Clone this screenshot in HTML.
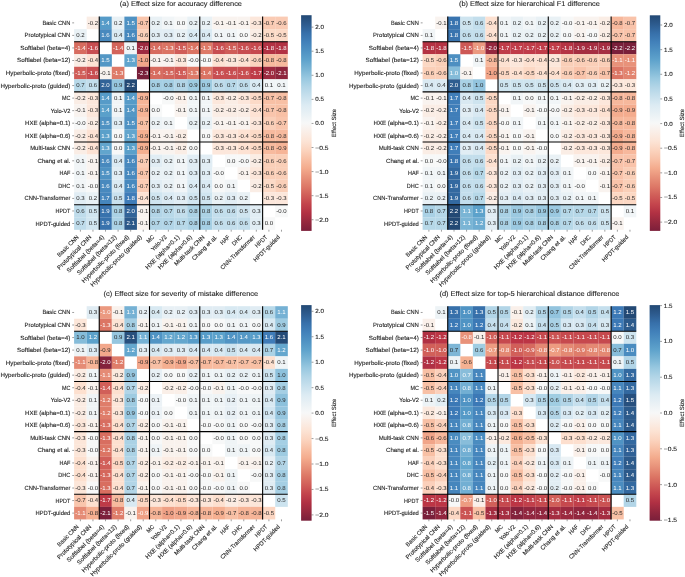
<!DOCTYPE html>
<html><head><meta charset="utf-8"><title>Effect size heatmaps</title>
<style>html,body{margin:0;padding:0;background:#fff;width:685px;height:577px;overflow:hidden}</style>
</head><body>
<svg width="685" height="577" viewBox="0 0 685 577" style="display:block;will-change:transform;text-rendering:geometricPrecision">
<rect width="685" height="577" fill="#ffffff"/>
<defs><linearGradient id="cb0" x1="0" y1="0" x2="0" y2="1"><stop offset="0.0000" stop-color="#234974"/><stop offset="0.0417" stop-color="#2d5b8e"/><stop offset="0.0833" stop-color="#3770aa"/><stop offset="0.1250" stop-color="#4281ba"/><stop offset="0.1667" stop-color="#4f92c3"/><stop offset="0.2083" stop-color="#5fa3cc"/><stop offset="0.2500" stop-color="#7ab5d5"/><stop offset="0.2917" stop-color="#98c8e0"/><stop offset="0.3333" stop-color="#b2d5e7"/><stop offset="0.3750" stop-color="#c7e0ed"/><stop offset="0.4167" stop-color="#dcebf3"/><stop offset="0.4583" stop-color="#e9f1f5"/><stop offset="0.5000" stop-color="#f7f8f8"/><stop offset="0.5417" stop-color="#faeee7"/><stop offset="0.5833" stop-color="#fce4d6"/><stop offset="0.6250" stop-color="#fbd4bf"/><stop offset="0.6667" stop-color="#f8c0a5"/><stop offset="0.7083" stop-color="#f4ac8e"/><stop offset="0.7500" stop-color="#e8927a"/><stop offset="0.7917" stop-color="#de7a68"/><stop offset="0.8333" stop-color="#d15f59"/><stop offset="0.8750" stop-color="#c3444c"/><stop offset="0.9167" stop-color="#b23143"/><stop offset="0.9583" stop-color="#96283e"/><stop offset="1.0000" stop-color="#7c1f3a"/></linearGradient><linearGradient id="cb1" x1="0" y1="0" x2="0" y2="1"><stop offset="0.0000" stop-color="#234974"/><stop offset="0.0417" stop-color="#2d5b8e"/><stop offset="0.0833" stop-color="#3770aa"/><stop offset="0.1250" stop-color="#4281ba"/><stop offset="0.1667" stop-color="#4f92c3"/><stop offset="0.2083" stop-color="#5fa3cc"/><stop offset="0.2500" stop-color="#7ab5d5"/><stop offset="0.2917" stop-color="#98c8e0"/><stop offset="0.3333" stop-color="#b2d5e7"/><stop offset="0.3750" stop-color="#c7e0ed"/><stop offset="0.4167" stop-color="#dcebf3"/><stop offset="0.4583" stop-color="#e9f1f5"/><stop offset="0.5000" stop-color="#f7f8f8"/><stop offset="0.5417" stop-color="#faeee7"/><stop offset="0.5833" stop-color="#fce4d6"/><stop offset="0.6250" stop-color="#fbd4bf"/><stop offset="0.6667" stop-color="#f8c2a8"/><stop offset="0.7083" stop-color="#f4ac8e"/><stop offset="0.7500" stop-color="#e8927a"/><stop offset="0.7917" stop-color="#de7a68"/><stop offset="0.8333" stop-color="#d15f59"/><stop offset="0.8750" stop-color="#c5464d"/><stop offset="0.9167" stop-color="#b23143"/><stop offset="0.9583" stop-color="#96283e"/><stop offset="1.0000" stop-color="#7c1f3a"/></linearGradient><linearGradient id="cb2" x1="0" y1="0" x2="0" y2="1"><stop offset="0.0000" stop-color="#234974"/><stop offset="0.0417" stop-color="#2d5b8e"/><stop offset="0.0833" stop-color="#3770aa"/><stop offset="0.1250" stop-color="#4281ba"/><stop offset="0.1667" stop-color="#4f92c3"/><stop offset="0.2083" stop-color="#5fa3cc"/><stop offset="0.2500" stop-color="#7ab5d5"/><stop offset="0.2917" stop-color="#98c8e0"/><stop offset="0.3333" stop-color="#b2d5e7"/><stop offset="0.3750" stop-color="#c7e0ed"/><stop offset="0.4167" stop-color="#dcebf3"/><stop offset="0.4583" stop-color="#eaf1f5"/><stop offset="0.5000" stop-color="#f7f8f8"/><stop offset="0.5417" stop-color="#faeee7"/><stop offset="0.5833" stop-color="#fce3d4"/><stop offset="0.6250" stop-color="#fbd4bf"/><stop offset="0.6667" stop-color="#f8c0a5"/><stop offset="0.7083" stop-color="#f4ac8e"/><stop offset="0.7500" stop-color="#e8927a"/><stop offset="0.7917" stop-color="#dd7866"/><stop offset="0.8333" stop-color="#d15f59"/><stop offset="0.8750" stop-color="#c3444c"/><stop offset="0.9167" stop-color="#b03043"/><stop offset="0.9583" stop-color="#96283e"/><stop offset="1.0000" stop-color="#791f3a"/></linearGradient><linearGradient id="cb3" x1="0" y1="0" x2="0" y2="1"><stop offset="0.0000" stop-color="#234974"/><stop offset="0.0417" stop-color="#2d5b8e"/><stop offset="0.0833" stop-color="#3770aa"/><stop offset="0.1250" stop-color="#4281ba"/><stop offset="0.1667" stop-color="#4f92c3"/><stop offset="0.2083" stop-color="#5fa3cc"/><stop offset="0.2500" stop-color="#7ab5d5"/><stop offset="0.2917" stop-color="#98c8e0"/><stop offset="0.3333" stop-color="#b2d5e7"/><stop offset="0.3750" stop-color="#c7e0ed"/><stop offset="0.4167" stop-color="#dcebf3"/><stop offset="0.4583" stop-color="#eaf1f5"/><stop offset="0.5000" stop-color="#f7f8f8"/><stop offset="0.5417" stop-color="#faeee7"/><stop offset="0.5833" stop-color="#fce3d4"/><stop offset="0.6250" stop-color="#fbd4bf"/><stop offset="0.6667" stop-color="#f8c0a5"/><stop offset="0.7083" stop-color="#f3aa8c"/><stop offset="0.7500" stop-color="#e8927a"/><stop offset="0.7917" stop-color="#dd7866"/><stop offset="0.8333" stop-color="#d05d58"/><stop offset="0.8750" stop-color="#c3444c"/><stop offset="0.9167" stop-color="#b03043"/><stop offset="0.9583" stop-color="#93273e"/><stop offset="1.0000" stop-color="#791f3a"/></linearGradient></defs>
<g font-family='"Liberation Sans", sans-serif' font-size="5.8" stroke-width="0.0"><rect x="86.67" y="16.60" width="12.62" height="12.59" fill="#faede5"/><rect x="99.24" y="16.60" width="12.62" height="12.59" fill="#569bc8"/><rect x="111.80" y="16.60" width="12.62" height="12.59" fill="#e9f1f5"/><rect x="124.37" y="16.60" width="12.62" height="12.59" fill="#4f92c3"/><rect x="136.94" y="16.60" width="12.62" height="12.59" fill="#f9c5ac"/><rect x="149.51" y="16.60" width="12.62" height="12.59" fill="#e9f1f5"/><rect x="162.08" y="16.60" width="12.62" height="12.59" fill="#f1f5f7"/><rect x="174.64" y="16.60" width="12.62" height="12.59" fill="#f7f8f8"/><rect x="187.21" y="16.60" width="12.62" height="12.59" fill="#e9f1f5"/><rect x="199.78" y="16.60" width="12.62" height="12.59" fill="#e9f1f5"/><rect x="212.35" y="16.60" width="12.62" height="12.59" fill="#f9f3ef"/><rect x="224.92" y="16.60" width="12.62" height="12.59" fill="#f9f3ef"/><rect x="237.48" y="16.60" width="12.62" height="12.59" fill="#f9f3ef"/><rect x="250.05" y="16.60" width="12.62" height="12.59" fill="#fce7db"/><rect x="262.62" y="16.60" width="12.62" height="12.59" fill="#facbb4"/><rect x="275.19" y="16.60" width="12.62" height="12.59" fill="#facbb4"/><rect x="74.10" y="29.14" width="12.62" height="12.59" fill="#e9f1f5"/><rect x="99.24" y="29.14" width="12.62" height="12.59" fill="#4889be"/><rect x="111.80" y="29.14" width="12.62" height="12.59" fill="#daeaf3"/><rect x="124.37" y="29.14" width="12.62" height="12.59" fill="#4889be"/><rect x="136.94" y="29.14" width="12.62" height="12.59" fill="#facfb8"/><rect x="149.51" y="29.14" width="12.62" height="12.59" fill="#e1edf4"/><rect x="162.08" y="29.14" width="12.62" height="12.59" fill="#e1edf4"/><rect x="174.64" y="29.14" width="12.62" height="12.59" fill="#e9f1f5"/><rect x="187.21" y="29.14" width="12.62" height="12.59" fill="#daeaf3"/><rect x="199.78" y="29.14" width="12.62" height="12.59" fill="#daeaf3"/><rect x="212.35" y="29.14" width="12.62" height="12.59" fill="#f1f5f7"/><rect x="224.92" y="29.14" width="12.62" height="12.59" fill="#f1f5f7"/><rect x="237.48" y="29.14" width="12.62" height="12.59" fill="#f7f8f8"/><rect x="250.05" y="29.14" width="12.62" height="12.59" fill="#faede5"/><rect x="262.62" y="29.14" width="12.62" height="12.59" fill="#fcdac7"/><rect x="275.19" y="29.14" width="12.62" height="12.59" fill="#fcdac7"/><rect x="74.10" y="41.68" width="12.62" height="12.59" fill="#d76c5f"/><rect x="86.67" y="41.68" width="12.62" height="12.59" fill="#c84e51"/><rect x="111.80" y="41.68" width="12.62" height="12.59" fill="#d3645b"/><rect x="124.37" y="41.68" width="12.62" height="12.59" fill="#f1f5f7"/><rect x="136.94" y="41.68" width="12.62" height="12.59" fill="#9d2a40"/><rect x="149.51" y="41.68" width="12.62" height="12.59" fill="#d76c5f"/><rect x="162.08" y="41.68" width="12.62" height="12.59" fill="#db7362"/><rect x="174.64" y="41.68" width="12.62" height="12.59" fill="#d05d58"/><rect x="187.21" y="41.68" width="12.62" height="12.59" fill="#db7362"/><rect x="199.78" y="41.68" width="12.62" height="12.59" fill="#de7a68"/><rect x="212.35" y="41.68" width="12.62" height="12.59" fill="#c84e51"/><rect x="224.92" y="41.68" width="12.62" height="12.59" fill="#d05d58"/><rect x="237.48" y="41.68" width="12.62" height="12.59" fill="#c84e51"/><rect x="250.05" y="41.68" width="12.62" height="12.59" fill="#c6494e"/><rect x="262.62" y="41.68" width="12.62" height="12.59" fill="#b23143"/><rect x="275.19" y="41.68" width="12.62" height="12.59" fill="#b23143"/><rect x="74.10" y="54.22" width="12.62" height="12.59" fill="#faede5"/><rect x="86.67" y="54.22" width="12.62" height="12.59" fill="#fde2d3"/><rect x="99.24" y="54.22" width="12.62" height="12.59" fill="#5397c5"/><rect x="124.37" y="54.22" width="12.62" height="12.59" fill="#62a5cd"/><rect x="136.94" y="54.22" width="12.62" height="12.59" fill="#f2a78b"/><rect x="149.51" y="54.22" width="12.62" height="12.59" fill="#f9f3ef"/><rect x="162.08" y="54.22" width="12.62" height="12.59" fill="#f9f3ef"/><rect x="174.64" y="54.22" width="12.62" height="12.59" fill="#fce7db"/><rect x="187.21" y="54.22" width="12.62" height="12.59" fill="#f7f8f8"/><rect x="199.78" y="54.22" width="12.62" height="12.59" fill="#f7f8f8"/><rect x="212.35" y="54.22" width="12.62" height="12.59" fill="#fde2d3"/><rect x="224.92" y="54.22" width="12.62" height="12.59" fill="#fce7db"/><rect x="237.48" y="54.22" width="12.62" height="12.59" fill="#fde2d3"/><rect x="250.05" y="54.22" width="12.62" height="12.59" fill="#fbd4bf"/><rect x="262.62" y="54.22" width="12.62" height="12.59" fill="#f7ba9e"/><rect x="275.19" y="54.22" width="12.62" height="12.59" fill="#f7ba9e"/><rect x="74.10" y="66.76" width="12.62" height="12.59" fill="#d05d58"/><rect x="86.67" y="66.76" width="12.62" height="12.59" fill="#c84e51"/><rect x="99.24" y="66.76" width="12.62" height="12.59" fill="#f9f3ef"/><rect x="111.80" y="66.76" width="12.62" height="12.59" fill="#de7a68"/><rect x="136.94" y="66.76" width="12.62" height="12.59" fill="#791f3a"/><rect x="149.51" y="66.76" width="12.62" height="12.59" fill="#d76c5f"/><rect x="162.08" y="66.76" width="12.62" height="12.59" fill="#d3645b"/><rect x="174.64" y="66.76" width="12.62" height="12.59" fill="#d05d58"/><rect x="187.21" y="66.76" width="12.62" height="12.59" fill="#de7a68"/><rect x="199.78" y="66.76" width="12.62" height="12.59" fill="#db7362"/><rect x="212.35" y="66.76" width="12.62" height="12.59" fill="#c84e51"/><rect x="224.92" y="66.76" width="12.62" height="12.59" fill="#c84e51"/><rect x="237.48" y="66.76" width="12.62" height="12.59" fill="#c84e51"/><rect x="250.05" y="66.76" width="12.62" height="12.59" fill="#be3a47"/><rect x="262.62" y="66.76" width="12.62" height="12.59" fill="#9d2a40"/><rect x="275.19" y="66.76" width="12.62" height="12.59" fill="#8e253d"/><rect x="74.10" y="79.30" width="12.62" height="12.59" fill="#b8d9e9"/><rect x="86.67" y="79.30" width="12.62" height="12.59" fill="#c3deec"/><rect x="99.24" y="79.30" width="12.62" height="12.59" fill="#316398"/><rect x="111.80" y="79.30" width="12.62" height="12.59" fill="#96c6df"/><rect x="124.37" y="79.30" width="12.62" height="12.59" fill="#234974"/><rect x="149.51" y="79.30" width="12.62" height="12.59" fill="#a5cfe4"/><rect x="162.08" y="79.30" width="12.62" height="12.59" fill="#a5cfe4"/><rect x="174.64" y="79.30" width="12.62" height="12.59" fill="#b2d5e7"/><rect x="187.21" y="79.30" width="12.62" height="12.59" fill="#9ecbe1"/><rect x="199.78" y="79.30" width="12.62" height="12.59" fill="#9ecbe1"/><rect x="212.35" y="79.30" width="12.62" height="12.59" fill="#bfdceb"/><rect x="224.92" y="79.30" width="12.62" height="12.59" fill="#b8d9e9"/><rect x="237.48" y="79.30" width="12.62" height="12.59" fill="#bfdceb"/><rect x="250.05" y="79.30" width="12.62" height="12.59" fill="#daeaf3"/><rect x="262.62" y="79.30" width="12.62" height="12.59" fill="#f1f5f7"/><rect x="275.19" y="79.30" width="12.62" height="12.59" fill="#f1f5f7"/><rect x="74.10" y="91.84" width="12.62" height="12.59" fill="#faede5"/><rect x="86.67" y="91.84" width="12.62" height="12.59" fill="#fce7db"/><rect x="99.24" y="91.84" width="12.62" height="12.59" fill="#569bc8"/><rect x="111.80" y="91.84" width="12.62" height="12.59" fill="#f1f5f7"/><rect x="124.37" y="91.84" width="12.62" height="12.59" fill="#569bc8"/><rect x="136.94" y="91.84" width="12.62" height="12.59" fill="#f6b497"/><rect x="162.08" y="91.84" width="12.62" height="12.59" fill="#f7f8f8"/><rect x="174.64" y="91.84" width="12.62" height="12.59" fill="#faf0ea"/><rect x="187.21" y="91.84" width="12.62" height="12.59" fill="#f1f5f7"/><rect x="199.78" y="91.84" width="12.62" height="12.59" fill="#f1f5f7"/><rect x="212.35" y="91.84" width="12.62" height="12.59" fill="#fce7db"/><rect x="224.92" y="91.84" width="12.62" height="12.59" fill="#faede5"/><rect x="237.48" y="91.84" width="12.62" height="12.59" fill="#fce7db"/><rect x="250.05" y="91.84" width="12.62" height="12.59" fill="#fcdac7"/><rect x="262.62" y="91.84" width="12.62" height="12.59" fill="#f8c0a5"/><rect x="275.19" y="91.84" width="12.62" height="12.59" fill="#f8c0a5"/><rect x="74.10" y="104.38" width="12.62" height="12.59" fill="#f9f3ef"/><rect x="86.67" y="104.38" width="12.62" height="12.59" fill="#fce7db"/><rect x="99.24" y="104.38" width="12.62" height="12.59" fill="#5aa0ca"/><rect x="111.80" y="104.38" width="12.62" height="12.59" fill="#f1f5f7"/><rect x="124.37" y="104.38" width="12.62" height="12.59" fill="#5397c5"/><rect x="136.94" y="104.38" width="12.62" height="12.59" fill="#f6b497"/><rect x="149.51" y="104.38" width="12.62" height="12.59" fill="#f7f8f8"/><rect x="174.64" y="104.38" width="12.62" height="12.59" fill="#f9f3ef"/><rect x="187.21" y="104.38" width="12.62" height="12.59" fill="#f1f5f7"/><rect x="199.78" y="104.38" width="12.62" height="12.59" fill="#f1f5f7"/><rect x="212.35" y="104.38" width="12.62" height="12.59" fill="#faede5"/><rect x="224.92" y="104.38" width="12.62" height="12.59" fill="#faede5"/><rect x="237.48" y="104.38" width="12.62" height="12.59" fill="#faede5"/><rect x="250.05" y="104.38" width="12.62" height="12.59" fill="#fde2d3"/><rect x="262.62" y="104.38" width="12.62" height="12.59" fill="#f9c5ac"/><rect x="275.19" y="104.38" width="12.62" height="12.59" fill="#f8c0a5"/><rect x="74.10" y="116.92" width="12.62" height="12.59" fill="#f7f8f8"/><rect x="86.67" y="116.92" width="12.62" height="12.59" fill="#faede5"/><rect x="99.24" y="116.92" width="12.62" height="12.59" fill="#4f92c3"/><rect x="111.80" y="116.92" width="12.62" height="12.59" fill="#e1edf4"/><rect x="124.37" y="116.92" width="12.62" height="12.59" fill="#4f92c3"/><rect x="136.94" y="116.92" width="12.62" height="12.59" fill="#f8c0a5"/><rect x="149.51" y="116.92" width="12.62" height="12.59" fill="#edf3f6"/><rect x="162.08" y="116.92" width="12.62" height="12.59" fill="#f1f5f7"/><rect x="187.21" y="116.92" width="12.62" height="12.59" fill="#e9f1f5"/><rect x="199.78" y="116.92" width="12.62" height="12.59" fill="#e9f1f5"/><rect x="212.35" y="116.92" width="12.62" height="12.59" fill="#f9f3ef"/><rect x="224.92" y="116.92" width="12.62" height="12.59" fill="#f9f3ef"/><rect x="237.48" y="116.92" width="12.62" height="12.59" fill="#f9f3ef"/><rect x="250.05" y="116.92" width="12.62" height="12.59" fill="#fce7db"/><rect x="262.62" y="116.92" width="12.62" height="12.59" fill="#facfb8"/><rect x="275.19" y="116.92" width="12.62" height="12.59" fill="#f9c5ac"/><rect x="74.10" y="129.46" width="12.62" height="12.59" fill="#faede5"/><rect x="86.67" y="129.46" width="12.62" height="12.59" fill="#fde2d3"/><rect x="99.24" y="129.46" width="12.62" height="12.59" fill="#5aa0ca"/><rect x="111.80" y="129.46" width="12.62" height="12.59" fill="#f7f8f8"/><rect x="124.37" y="129.46" width="12.62" height="12.59" fill="#62a5cd"/><rect x="136.94" y="129.46" width="12.62" height="12.59" fill="#f5af90"/><rect x="149.51" y="129.46" width="12.62" height="12.59" fill="#f9f3ef"/><rect x="162.08" y="129.46" width="12.62" height="12.59" fill="#f9f3ef"/><rect x="174.64" y="129.46" width="12.62" height="12.59" fill="#faede5"/><rect x="199.78" y="129.46" width="12.62" height="12.59" fill="#f7f8f8"/><rect x="212.35" y="129.46" width="12.62" height="12.59" fill="#fce7db"/><rect x="224.92" y="129.46" width="12.62" height="12.59" fill="#fce7db"/><rect x="237.48" y="129.46" width="12.62" height="12.59" fill="#fde2d3"/><rect x="250.05" y="129.46" width="12.62" height="12.59" fill="#fcdac7"/><rect x="262.62" y="129.46" width="12.62" height="12.59" fill="#f7ba9e"/><rect x="275.19" y="129.46" width="12.62" height="12.59" fill="#f7ba9e"/><rect x="74.10" y="142.00" width="12.62" height="12.59" fill="#faede5"/><rect x="86.67" y="142.00" width="12.62" height="12.59" fill="#fde2d3"/><rect x="99.24" y="142.00" width="12.62" height="12.59" fill="#62a5cd"/><rect x="111.80" y="142.00" width="12.62" height="12.59" fill="#f7f8f8"/><rect x="124.37" y="142.00" width="12.62" height="12.59" fill="#5aa0ca"/><rect x="136.94" y="142.00" width="12.62" height="12.59" fill="#f5af90"/><rect x="149.51" y="142.00" width="12.62" height="12.59" fill="#f9f3ef"/><rect x="162.08" y="142.00" width="12.62" height="12.59" fill="#f9f3ef"/><rect x="174.64" y="142.00" width="12.62" height="12.59" fill="#faede5"/><rect x="187.21" y="142.00" width="12.62" height="12.59" fill="#f7f8f8"/><rect x="212.35" y="142.00" width="12.62" height="12.59" fill="#fce7db"/><rect x="224.92" y="142.00" width="12.62" height="12.59" fill="#fce7db"/><rect x="237.48" y="142.00" width="12.62" height="12.59" fill="#fde2d3"/><rect x="250.05" y="142.00" width="12.62" height="12.59" fill="#fcdac7"/><rect x="262.62" y="142.00" width="12.62" height="12.59" fill="#f7ba9e"/><rect x="275.19" y="142.00" width="12.62" height="12.59" fill="#f6b497"/><rect x="74.10" y="154.54" width="12.62" height="12.59" fill="#f1f5f7"/><rect x="86.67" y="154.54" width="12.62" height="12.59" fill="#f9f3ef"/><rect x="99.24" y="154.54" width="12.62" height="12.59" fill="#4889be"/><rect x="111.80" y="154.54" width="12.62" height="12.59" fill="#daeaf3"/><rect x="124.37" y="154.54" width="12.62" height="12.59" fill="#4889be"/><rect x="136.94" y="154.54" width="12.62" height="12.59" fill="#facbb4"/><rect x="149.51" y="154.54" width="12.62" height="12.59" fill="#e1edf4"/><rect x="162.08" y="154.54" width="12.62" height="12.59" fill="#e9f1f5"/><rect x="174.64" y="154.54" width="12.62" height="12.59" fill="#f1f5f7"/><rect x="187.21" y="154.54" width="12.62" height="12.59" fill="#e1edf4"/><rect x="199.78" y="154.54" width="12.62" height="12.59" fill="#e1edf4"/><rect x="224.92" y="154.54" width="12.62" height="12.59" fill="#f7f8f8"/><rect x="237.48" y="154.54" width="12.62" height="12.59" fill="#f7f8f8"/><rect x="250.05" y="154.54" width="12.62" height="12.59" fill="#faede5"/><rect x="262.62" y="154.54" width="12.62" height="12.59" fill="#facfb8"/><rect x="275.19" y="154.54" width="12.62" height="12.59" fill="#facfb8"/><rect x="74.10" y="167.08" width="12.62" height="12.59" fill="#f1f5f7"/><rect x="86.67" y="167.08" width="12.62" height="12.59" fill="#f9f3ef"/><rect x="99.24" y="167.08" width="12.62" height="12.59" fill="#4f92c3"/><rect x="111.80" y="167.08" width="12.62" height="12.59" fill="#e1edf4"/><rect x="124.37" y="167.08" width="12.62" height="12.59" fill="#4889be"/><rect x="136.94" y="167.08" width="12.62" height="12.59" fill="#f9c5ac"/><rect x="149.51" y="167.08" width="12.62" height="12.59" fill="#e9f1f5"/><rect x="162.08" y="167.08" width="12.62" height="12.59" fill="#e9f1f5"/><rect x="174.64" y="167.08" width="12.62" height="12.59" fill="#f1f5f7"/><rect x="187.21" y="167.08" width="12.62" height="12.59" fill="#e1edf4"/><rect x="199.78" y="167.08" width="12.62" height="12.59" fill="#e1edf4"/><rect x="212.35" y="167.08" width="12.62" height="12.59" fill="#f7f8f8"/><rect x="237.48" y="167.08" width="12.62" height="12.59" fill="#f9f3ef"/><rect x="250.05" y="167.08" width="12.62" height="12.59" fill="#fce7db"/><rect x="262.62" y="167.08" width="12.62" height="12.59" fill="#facfb8"/><rect x="275.19" y="167.08" width="12.62" height="12.59" fill="#facfb8"/><rect x="74.10" y="179.62" width="12.62" height="12.59" fill="#f1f5f7"/><rect x="86.67" y="179.62" width="12.62" height="12.59" fill="#f7f8f8"/><rect x="99.24" y="179.62" width="12.62" height="12.59" fill="#4889be"/><rect x="111.80" y="179.62" width="12.62" height="12.59" fill="#daeaf3"/><rect x="124.37" y="179.62" width="12.62" height="12.59" fill="#4889be"/><rect x="136.94" y="179.62" width="12.62" height="12.59" fill="#facbb4"/><rect x="149.51" y="179.62" width="12.62" height="12.59" fill="#e1edf4"/><rect x="162.08" y="179.62" width="12.62" height="12.59" fill="#e9f1f5"/><rect x="174.64" y="179.62" width="12.62" height="12.59" fill="#f1f5f7"/><rect x="187.21" y="179.62" width="12.62" height="12.59" fill="#daeaf3"/><rect x="199.78" y="179.62" width="12.62" height="12.59" fill="#daeaf3"/><rect x="212.35" y="179.62" width="12.62" height="12.59" fill="#f7f8f8"/><rect x="224.92" y="179.62" width="12.62" height="12.59" fill="#f1f5f7"/><rect x="250.05" y="179.62" width="12.62" height="12.59" fill="#faede5"/><rect x="262.62" y="179.62" width="12.62" height="12.59" fill="#fcdac7"/><rect x="275.19" y="179.62" width="12.62" height="12.59" fill="#facfb8"/><rect x="74.10" y="192.16" width="12.62" height="12.59" fill="#e1edf4"/><rect x="86.67" y="192.16" width="12.62" height="12.59" fill="#e9f1f5"/><rect x="99.24" y="192.16" width="12.62" height="12.59" fill="#4686bd"/><rect x="111.80" y="192.16" width="12.62" height="12.59" fill="#c9e1ee"/><rect x="124.37" y="192.16" width="12.62" height="12.59" fill="#3f7cb8"/><rect x="136.94" y="192.16" width="12.62" height="12.59" fill="#fde2d3"/><rect x="149.51" y="192.16" width="12.62" height="12.59" fill="#d0e5f0"/><rect x="162.08" y="192.16" width="12.62" height="12.59" fill="#daeaf3"/><rect x="174.64" y="192.16" width="12.62" height="12.59" fill="#e1edf4"/><rect x="187.21" y="192.16" width="12.62" height="12.59" fill="#d0e5f0"/><rect x="199.78" y="192.16" width="12.62" height="12.59" fill="#d0e5f0"/><rect x="212.35" y="192.16" width="12.62" height="12.59" fill="#e9f1f5"/><rect x="224.92" y="192.16" width="12.62" height="12.59" fill="#e1edf4"/><rect x="237.48" y="192.16" width="12.62" height="12.59" fill="#e9f1f5"/><rect x="262.62" y="192.16" width="12.62" height="12.59" fill="#fce7db"/><rect x="275.19" y="192.16" width="12.62" height="12.59" fill="#fce7db"/><rect x="74.10" y="204.70" width="12.62" height="12.59" fill="#bfdceb"/><rect x="86.67" y="204.70" width="12.62" height="12.59" fill="#d0e5f0"/><rect x="99.24" y="204.70" width="12.62" height="12.59" fill="#3872ad"/><rect x="111.80" y="204.70" width="12.62" height="12.59" fill="#abd2e5"/><rect x="124.37" y="204.70" width="12.62" height="12.59" fill="#316398"/><rect x="136.94" y="204.70" width="12.62" height="12.59" fill="#f9f3ef"/><rect x="149.51" y="204.70" width="12.62" height="12.59" fill="#b2d5e7"/><rect x="162.08" y="204.70" width="12.62" height="12.59" fill="#b8d9e9"/><rect x="174.64" y="204.70" width="12.62" height="12.59" fill="#c3deec"/><rect x="187.21" y="204.70" width="12.62" height="12.59" fill="#abd2e5"/><rect x="199.78" y="204.70" width="12.62" height="12.59" fill="#abd2e5"/><rect x="212.35" y="204.70" width="12.62" height="12.59" fill="#c3deec"/><rect x="224.92" y="204.70" width="12.62" height="12.59" fill="#c3deec"/><rect x="237.48" y="204.70" width="12.62" height="12.59" fill="#d0e5f0"/><rect x="250.05" y="204.70" width="12.62" height="12.59" fill="#e1edf4"/><rect x="275.19" y="204.70" width="12.62" height="12.59" fill="#f7f8f8"/><rect x="74.10" y="217.24" width="12.62" height="12.59" fill="#bfdceb"/><rect x="86.67" y="217.24" width="12.62" height="12.59" fill="#d0e5f0"/><rect x="99.24" y="217.24" width="12.62" height="12.59" fill="#3872ad"/><rect x="111.80" y="217.24" width="12.62" height="12.59" fill="#abd2e5"/><rect x="124.37" y="217.24" width="12.62" height="12.59" fill="#2b5889"/><rect x="136.94" y="217.24" width="12.62" height="12.59" fill="#f9f3ef"/><rect x="149.51" y="217.24" width="12.62" height="12.59" fill="#b2d5e7"/><rect x="162.08" y="217.24" width="12.62" height="12.59" fill="#b2d5e7"/><rect x="174.64" y="217.24" width="12.62" height="12.59" fill="#b8d9e9"/><rect x="187.21" y="217.24" width="12.62" height="12.59" fill="#abd2e5"/><rect x="199.78" y="217.24" width="12.62" height="12.59" fill="#a5cfe4"/><rect x="212.35" y="217.24" width="12.62" height="12.59" fill="#c3deec"/><rect x="224.92" y="217.24" width="12.62" height="12.59" fill="#c3deec"/><rect x="237.48" y="217.24" width="12.62" height="12.59" fill="#c3deec"/><rect x="250.05" y="217.24" width="12.62" height="12.59" fill="#e1edf4"/><rect x="262.62" y="217.24" width="12.62" height="12.59" fill="#f7f8f8"/><text x="92.95" y="24.67" fill="#262626" stroke="#262626" text-anchor="middle" textLength="10.34" lengthAdjust="spacingAndGlyphs">-0.2</text><text x="105.52" y="24.67" fill="#ffffff" stroke="#ffffff" text-anchor="middle" textLength="8.43" lengthAdjust="spacingAndGlyphs">1.4</text><text x="118.09" y="24.67" fill="#262626" stroke="#262626" text-anchor="middle" textLength="8.43" lengthAdjust="spacingAndGlyphs">0.2</text><text x="130.66" y="24.67" fill="#ffffff" stroke="#ffffff" text-anchor="middle" textLength="8.43" lengthAdjust="spacingAndGlyphs">1.5</text><text x="143.22" y="24.67" fill="#262626" stroke="#262626" text-anchor="middle" textLength="10.34" lengthAdjust="spacingAndGlyphs">-0.7</text><text x="155.79" y="24.67" fill="#262626" stroke="#262626" text-anchor="middle" textLength="8.43" lengthAdjust="spacingAndGlyphs">0.2</text><text x="168.36" y="24.67" fill="#262626" stroke="#262626" text-anchor="middle" textLength="8.43" lengthAdjust="spacingAndGlyphs">0.1</text><text x="180.93" y="24.67" fill="#262626" stroke="#262626" text-anchor="middle" textLength="8.43" lengthAdjust="spacingAndGlyphs">0.0</text><text x="193.50" y="24.67" fill="#262626" stroke="#262626" text-anchor="middle" textLength="8.43" lengthAdjust="spacingAndGlyphs">0.2</text><text x="206.06" y="24.67" fill="#262626" stroke="#262626" text-anchor="middle" textLength="8.43" lengthAdjust="spacingAndGlyphs">0.2</text><text x="218.63" y="24.67" fill="#262626" stroke="#262626" text-anchor="middle" textLength="10.34" lengthAdjust="spacingAndGlyphs">-0.1</text><text x="231.20" y="24.67" fill="#262626" stroke="#262626" text-anchor="middle" textLength="10.34" lengthAdjust="spacingAndGlyphs">-0.1</text><text x="243.77" y="24.67" fill="#262626" stroke="#262626" text-anchor="middle" textLength="10.34" lengthAdjust="spacingAndGlyphs">-0.1</text><text x="256.34" y="24.67" fill="#262626" stroke="#262626" text-anchor="middle" textLength="10.34" lengthAdjust="spacingAndGlyphs">-0.3</text><text x="268.90" y="24.67" fill="#262626" stroke="#262626" text-anchor="middle" textLength="10.34" lengthAdjust="spacingAndGlyphs">-0.7</text><text x="281.47" y="24.67" fill="#262626" stroke="#262626" text-anchor="middle" textLength="10.34" lengthAdjust="spacingAndGlyphs">-0.6</text><text x="80.38" y="37.21" fill="#262626" stroke="#262626" text-anchor="middle" textLength="8.43" lengthAdjust="spacingAndGlyphs">0.2</text><text x="105.52" y="37.21" fill="#ffffff" stroke="#ffffff" text-anchor="middle" textLength="8.43" lengthAdjust="spacingAndGlyphs">1.6</text><text x="118.09" y="37.21" fill="#262626" stroke="#262626" text-anchor="middle" textLength="8.43" lengthAdjust="spacingAndGlyphs">0.4</text><text x="130.66" y="37.21" fill="#ffffff" stroke="#ffffff" text-anchor="middle" textLength="8.43" lengthAdjust="spacingAndGlyphs">1.6</text><text x="143.22" y="37.21" fill="#262626" stroke="#262626" text-anchor="middle" textLength="10.34" lengthAdjust="spacingAndGlyphs">-0.6</text><text x="155.79" y="37.21" fill="#262626" stroke="#262626" text-anchor="middle" textLength="8.43" lengthAdjust="spacingAndGlyphs">0.3</text><text x="168.36" y="37.21" fill="#262626" stroke="#262626" text-anchor="middle" textLength="8.43" lengthAdjust="spacingAndGlyphs">0.3</text><text x="180.93" y="37.21" fill="#262626" stroke="#262626" text-anchor="middle" textLength="8.43" lengthAdjust="spacingAndGlyphs">0.2</text><text x="193.50" y="37.21" fill="#262626" stroke="#262626" text-anchor="middle" textLength="8.43" lengthAdjust="spacingAndGlyphs">0.4</text><text x="206.06" y="37.21" fill="#262626" stroke="#262626" text-anchor="middle" textLength="8.43" lengthAdjust="spacingAndGlyphs">0.4</text><text x="218.63" y="37.21" fill="#262626" stroke="#262626" text-anchor="middle" textLength="8.43" lengthAdjust="spacingAndGlyphs">0.1</text><text x="231.20" y="37.21" fill="#262626" stroke="#262626" text-anchor="middle" textLength="8.43" lengthAdjust="spacingAndGlyphs">0.1</text><text x="243.77" y="37.21" fill="#262626" stroke="#262626" text-anchor="middle" textLength="8.43" lengthAdjust="spacingAndGlyphs">0.0</text><text x="256.34" y="37.21" fill="#262626" stroke="#262626" text-anchor="middle" textLength="10.34" lengthAdjust="spacingAndGlyphs">-0.2</text><text x="268.90" y="37.21" fill="#262626" stroke="#262626" text-anchor="middle" textLength="10.34" lengthAdjust="spacingAndGlyphs">-0.5</text><text x="281.47" y="37.21" fill="#262626" stroke="#262626" text-anchor="middle" textLength="10.34" lengthAdjust="spacingAndGlyphs">-0.5</text><text x="80.38" y="49.75" fill="#ffffff" stroke="#ffffff" text-anchor="middle" textLength="10.34" lengthAdjust="spacingAndGlyphs">-1.4</text><text x="92.95" y="49.75" fill="#ffffff" stroke="#ffffff" text-anchor="middle" textLength="10.34" lengthAdjust="spacingAndGlyphs">-1.6</text><text x="118.09" y="49.75" fill="#ffffff" stroke="#ffffff" text-anchor="middle" textLength="10.34" lengthAdjust="spacingAndGlyphs">-1.4</text><text x="130.66" y="49.75" fill="#262626" stroke="#262626" text-anchor="middle" textLength="8.43" lengthAdjust="spacingAndGlyphs">0.1</text><text x="143.22" y="49.75" fill="#ffffff" stroke="#ffffff" text-anchor="middle" textLength="10.34" lengthAdjust="spacingAndGlyphs">-2.0</text><text x="155.79" y="49.75" fill="#ffffff" stroke="#ffffff" text-anchor="middle" textLength="10.34" lengthAdjust="spacingAndGlyphs">-1.4</text><text x="168.36" y="49.75" fill="#ffffff" stroke="#ffffff" text-anchor="middle" textLength="10.34" lengthAdjust="spacingAndGlyphs">-1.3</text><text x="180.93" y="49.75" fill="#ffffff" stroke="#ffffff" text-anchor="middle" textLength="10.34" lengthAdjust="spacingAndGlyphs">-1.5</text><text x="193.50" y="49.75" fill="#ffffff" stroke="#ffffff" text-anchor="middle" textLength="10.34" lengthAdjust="spacingAndGlyphs">-1.4</text><text x="206.06" y="49.75" fill="#ffffff" stroke="#ffffff" text-anchor="middle" textLength="10.34" lengthAdjust="spacingAndGlyphs">-1.3</text><text x="218.63" y="49.75" fill="#ffffff" stroke="#ffffff" text-anchor="middle" textLength="10.34" lengthAdjust="spacingAndGlyphs">-1.6</text><text x="231.20" y="49.75" fill="#ffffff" stroke="#ffffff" text-anchor="middle" textLength="10.34" lengthAdjust="spacingAndGlyphs">-1.5</text><text x="243.77" y="49.75" fill="#ffffff" stroke="#ffffff" text-anchor="middle" textLength="10.34" lengthAdjust="spacingAndGlyphs">-1.6</text><text x="256.34" y="49.75" fill="#ffffff" stroke="#ffffff" text-anchor="middle" textLength="10.34" lengthAdjust="spacingAndGlyphs">-1.6</text><text x="268.90" y="49.75" fill="#ffffff" stroke="#ffffff" text-anchor="middle" textLength="10.34" lengthAdjust="spacingAndGlyphs">-1.8</text><text x="281.47" y="49.75" fill="#ffffff" stroke="#ffffff" text-anchor="middle" textLength="10.34" lengthAdjust="spacingAndGlyphs">-1.8</text><text x="80.38" y="62.29" fill="#262626" stroke="#262626" text-anchor="middle" textLength="10.34" lengthAdjust="spacingAndGlyphs">-0.2</text><text x="92.95" y="62.29" fill="#262626" stroke="#262626" text-anchor="middle" textLength="10.34" lengthAdjust="spacingAndGlyphs">-0.4</text><text x="105.52" y="62.29" fill="#ffffff" stroke="#ffffff" text-anchor="middle" textLength="8.43" lengthAdjust="spacingAndGlyphs">1.5</text><text x="130.66" y="62.29" fill="#ffffff" stroke="#ffffff" text-anchor="middle" textLength="8.43" lengthAdjust="spacingAndGlyphs">1.3</text><text x="143.22" y="62.29" fill="#262626" stroke="#262626" text-anchor="middle" textLength="10.34" lengthAdjust="spacingAndGlyphs">-1.0</text><text x="155.79" y="62.29" fill="#262626" stroke="#262626" text-anchor="middle" textLength="10.34" lengthAdjust="spacingAndGlyphs">-0.1</text><text x="168.36" y="62.29" fill="#262626" stroke="#262626" text-anchor="middle" textLength="10.34" lengthAdjust="spacingAndGlyphs">-0.1</text><text x="180.93" y="62.29" fill="#262626" stroke="#262626" text-anchor="middle" textLength="10.34" lengthAdjust="spacingAndGlyphs">-0.3</text><text x="193.50" y="62.29" fill="#262626" stroke="#262626" text-anchor="middle" textLength="10.34" lengthAdjust="spacingAndGlyphs">-0.0</text><text x="206.06" y="62.29" fill="#262626" stroke="#262626" text-anchor="middle" textLength="10.34" lengthAdjust="spacingAndGlyphs">-0.0</text><text x="218.63" y="62.29" fill="#262626" stroke="#262626" text-anchor="middle" textLength="10.34" lengthAdjust="spacingAndGlyphs">-0.4</text><text x="231.20" y="62.29" fill="#262626" stroke="#262626" text-anchor="middle" textLength="10.34" lengthAdjust="spacingAndGlyphs">-0.3</text><text x="243.77" y="62.29" fill="#262626" stroke="#262626" text-anchor="middle" textLength="10.34" lengthAdjust="spacingAndGlyphs">-0.4</text><text x="256.34" y="62.29" fill="#262626" stroke="#262626" text-anchor="middle" textLength="10.34" lengthAdjust="spacingAndGlyphs">-0.6</text><text x="268.90" y="62.29" fill="#262626" stroke="#262626" text-anchor="middle" textLength="10.34" lengthAdjust="spacingAndGlyphs">-0.8</text><text x="281.47" y="62.29" fill="#262626" stroke="#262626" text-anchor="middle" textLength="10.34" lengthAdjust="spacingAndGlyphs">-0.8</text><text x="80.38" y="74.83" fill="#ffffff" stroke="#ffffff" text-anchor="middle" textLength="10.34" lengthAdjust="spacingAndGlyphs">-1.5</text><text x="92.95" y="74.83" fill="#ffffff" stroke="#ffffff" text-anchor="middle" textLength="10.34" lengthAdjust="spacingAndGlyphs">-1.6</text><text x="105.52" y="74.83" fill="#262626" stroke="#262626" text-anchor="middle" textLength="10.34" lengthAdjust="spacingAndGlyphs">-0.1</text><text x="118.09" y="74.83" fill="#ffffff" stroke="#ffffff" text-anchor="middle" textLength="10.34" lengthAdjust="spacingAndGlyphs">-1.3</text><text x="143.22" y="74.83" fill="#ffffff" stroke="#ffffff" text-anchor="middle" textLength="10.34" lengthAdjust="spacingAndGlyphs">-2.3</text><text x="155.79" y="74.83" fill="#ffffff" stroke="#ffffff" text-anchor="middle" textLength="10.34" lengthAdjust="spacingAndGlyphs">-1.4</text><text x="168.36" y="74.83" fill="#ffffff" stroke="#ffffff" text-anchor="middle" textLength="10.34" lengthAdjust="spacingAndGlyphs">-1.5</text><text x="180.93" y="74.83" fill="#ffffff" stroke="#ffffff" text-anchor="middle" textLength="10.34" lengthAdjust="spacingAndGlyphs">-1.5</text><text x="193.50" y="74.83" fill="#ffffff" stroke="#ffffff" text-anchor="middle" textLength="10.34" lengthAdjust="spacingAndGlyphs">-1.3</text><text x="206.06" y="74.83" fill="#ffffff" stroke="#ffffff" text-anchor="middle" textLength="10.34" lengthAdjust="spacingAndGlyphs">-1.4</text><text x="218.63" y="74.83" fill="#ffffff" stroke="#ffffff" text-anchor="middle" textLength="10.34" lengthAdjust="spacingAndGlyphs">-1.6</text><text x="231.20" y="74.83" fill="#ffffff" stroke="#ffffff" text-anchor="middle" textLength="10.34" lengthAdjust="spacingAndGlyphs">-1.6</text><text x="243.77" y="74.83" fill="#ffffff" stroke="#ffffff" text-anchor="middle" textLength="10.34" lengthAdjust="spacingAndGlyphs">-1.6</text><text x="256.34" y="74.83" fill="#ffffff" stroke="#ffffff" text-anchor="middle" textLength="10.34" lengthAdjust="spacingAndGlyphs">-1.7</text><text x="268.90" y="74.83" fill="#ffffff" stroke="#ffffff" text-anchor="middle" textLength="10.34" lengthAdjust="spacingAndGlyphs">-2.0</text><text x="281.47" y="74.83" fill="#ffffff" stroke="#ffffff" text-anchor="middle" textLength="10.34" lengthAdjust="spacingAndGlyphs">-2.1</text><text x="80.38" y="87.37" fill="#262626" stroke="#262626" text-anchor="middle" textLength="8.43" lengthAdjust="spacingAndGlyphs">0.7</text><text x="92.95" y="87.37" fill="#262626" stroke="#262626" text-anchor="middle" textLength="8.43" lengthAdjust="spacingAndGlyphs">0.6</text><text x="105.52" y="87.37" fill="#ffffff" stroke="#ffffff" text-anchor="middle" textLength="8.43" lengthAdjust="spacingAndGlyphs">2.0</text><text x="118.09" y="87.37" fill="#262626" stroke="#262626" text-anchor="middle" textLength="8.43" lengthAdjust="spacingAndGlyphs">0.9</text><text x="130.66" y="87.37" fill="#ffffff" stroke="#ffffff" text-anchor="middle" textLength="8.43" lengthAdjust="spacingAndGlyphs">2.2</text><text x="155.79" y="87.37" fill="#262626" stroke="#262626" text-anchor="middle" textLength="8.43" lengthAdjust="spacingAndGlyphs">0.8</text><text x="168.36" y="87.37" fill="#262626" stroke="#262626" text-anchor="middle" textLength="8.43" lengthAdjust="spacingAndGlyphs">0.8</text><text x="180.93" y="87.37" fill="#262626" stroke="#262626" text-anchor="middle" textLength="8.43" lengthAdjust="spacingAndGlyphs">0.8</text><text x="193.50" y="87.37" fill="#262626" stroke="#262626" text-anchor="middle" textLength="8.43" lengthAdjust="spacingAndGlyphs">0.9</text><text x="206.06" y="87.37" fill="#262626" stroke="#262626" text-anchor="middle" textLength="8.43" lengthAdjust="spacingAndGlyphs">0.9</text><text x="218.63" y="87.37" fill="#262626" stroke="#262626" text-anchor="middle" textLength="8.43" lengthAdjust="spacingAndGlyphs">0.6</text><text x="231.20" y="87.37" fill="#262626" stroke="#262626" text-anchor="middle" textLength="8.43" lengthAdjust="spacingAndGlyphs">0.7</text><text x="243.77" y="87.37" fill="#262626" stroke="#262626" text-anchor="middle" textLength="8.43" lengthAdjust="spacingAndGlyphs">0.6</text><text x="256.34" y="87.37" fill="#262626" stroke="#262626" text-anchor="middle" textLength="8.43" lengthAdjust="spacingAndGlyphs">0.4</text><text x="268.90" y="87.37" fill="#262626" stroke="#262626" text-anchor="middle" textLength="8.43" lengthAdjust="spacingAndGlyphs">0.1</text><text x="281.47" y="87.37" fill="#262626" stroke="#262626" text-anchor="middle" textLength="8.43" lengthAdjust="spacingAndGlyphs">0.1</text><text x="80.38" y="99.91" fill="#262626" stroke="#262626" text-anchor="middle" textLength="10.34" lengthAdjust="spacingAndGlyphs">-0.2</text><text x="92.95" y="99.91" fill="#262626" stroke="#262626" text-anchor="middle" textLength="10.34" lengthAdjust="spacingAndGlyphs">-0.3</text><text x="105.52" y="99.91" fill="#ffffff" stroke="#ffffff" text-anchor="middle" textLength="8.43" lengthAdjust="spacingAndGlyphs">1.4</text><text x="118.09" y="99.91" fill="#262626" stroke="#262626" text-anchor="middle" textLength="8.43" lengthAdjust="spacingAndGlyphs">0.1</text><text x="130.66" y="99.91" fill="#ffffff" stroke="#ffffff" text-anchor="middle" textLength="8.43" lengthAdjust="spacingAndGlyphs">1.4</text><text x="143.22" y="99.91" fill="#262626" stroke="#262626" text-anchor="middle" textLength="10.34" lengthAdjust="spacingAndGlyphs">-0.9</text><text x="168.36" y="99.91" fill="#262626" stroke="#262626" text-anchor="middle" textLength="10.34" lengthAdjust="spacingAndGlyphs">-0.0</text><text x="180.93" y="99.91" fill="#262626" stroke="#262626" text-anchor="middle" textLength="10.34" lengthAdjust="spacingAndGlyphs">-0.1</text><text x="193.50" y="99.91" fill="#262626" stroke="#262626" text-anchor="middle" textLength="8.43" lengthAdjust="spacingAndGlyphs">0.1</text><text x="206.06" y="99.91" fill="#262626" stroke="#262626" text-anchor="middle" textLength="8.43" lengthAdjust="spacingAndGlyphs">0.1</text><text x="218.63" y="99.91" fill="#262626" stroke="#262626" text-anchor="middle" textLength="10.34" lengthAdjust="spacingAndGlyphs">-0.3</text><text x="231.20" y="99.91" fill="#262626" stroke="#262626" text-anchor="middle" textLength="10.34" lengthAdjust="spacingAndGlyphs">-0.2</text><text x="243.77" y="99.91" fill="#262626" stroke="#262626" text-anchor="middle" textLength="10.34" lengthAdjust="spacingAndGlyphs">-0.3</text><text x="256.34" y="99.91" fill="#262626" stroke="#262626" text-anchor="middle" textLength="10.34" lengthAdjust="spacingAndGlyphs">-0.5</text><text x="268.90" y="99.91" fill="#262626" stroke="#262626" text-anchor="middle" textLength="10.34" lengthAdjust="spacingAndGlyphs">-0.7</text><text x="281.47" y="99.91" fill="#262626" stroke="#262626" text-anchor="middle" textLength="10.34" lengthAdjust="spacingAndGlyphs">-0.8</text><text x="80.38" y="112.45" fill="#262626" stroke="#262626" text-anchor="middle" textLength="10.34" lengthAdjust="spacingAndGlyphs">-0.1</text><text x="92.95" y="112.45" fill="#262626" stroke="#262626" text-anchor="middle" textLength="10.34" lengthAdjust="spacingAndGlyphs">-0.3</text><text x="105.52" y="112.45" fill="#ffffff" stroke="#ffffff" text-anchor="middle" textLength="8.43" lengthAdjust="spacingAndGlyphs">1.4</text><text x="118.09" y="112.45" fill="#262626" stroke="#262626" text-anchor="middle" textLength="8.43" lengthAdjust="spacingAndGlyphs">0.1</text><text x="130.66" y="112.45" fill="#ffffff" stroke="#ffffff" text-anchor="middle" textLength="8.43" lengthAdjust="spacingAndGlyphs">1.4</text><text x="143.22" y="112.45" fill="#262626" stroke="#262626" text-anchor="middle" textLength="10.34" lengthAdjust="spacingAndGlyphs">-0.9</text><text x="155.79" y="112.45" fill="#262626" stroke="#262626" text-anchor="middle" textLength="8.43" lengthAdjust="spacingAndGlyphs">0.0</text><text x="180.93" y="112.45" fill="#262626" stroke="#262626" text-anchor="middle" textLength="10.34" lengthAdjust="spacingAndGlyphs">-0.1</text><text x="193.50" y="112.45" fill="#262626" stroke="#262626" text-anchor="middle" textLength="8.43" lengthAdjust="spacingAndGlyphs">0.1</text><text x="206.06" y="112.45" fill="#262626" stroke="#262626" text-anchor="middle" textLength="8.43" lengthAdjust="spacingAndGlyphs">0.1</text><text x="218.63" y="112.45" fill="#262626" stroke="#262626" text-anchor="middle" textLength="10.34" lengthAdjust="spacingAndGlyphs">-0.2</text><text x="231.20" y="112.45" fill="#262626" stroke="#262626" text-anchor="middle" textLength="10.34" lengthAdjust="spacingAndGlyphs">-0.2</text><text x="243.77" y="112.45" fill="#262626" stroke="#262626" text-anchor="middle" textLength="10.34" lengthAdjust="spacingAndGlyphs">-0.2</text><text x="256.34" y="112.45" fill="#262626" stroke="#262626" text-anchor="middle" textLength="10.34" lengthAdjust="spacingAndGlyphs">-0.4</text><text x="268.90" y="112.45" fill="#262626" stroke="#262626" text-anchor="middle" textLength="10.34" lengthAdjust="spacingAndGlyphs">-0.7</text><text x="281.47" y="112.45" fill="#262626" stroke="#262626" text-anchor="middle" textLength="10.34" lengthAdjust="spacingAndGlyphs">-0.8</text><text x="80.38" y="124.99" fill="#262626" stroke="#262626" text-anchor="middle" textLength="10.34" lengthAdjust="spacingAndGlyphs">-0.0</text><text x="92.95" y="124.99" fill="#262626" stroke="#262626" text-anchor="middle" textLength="10.34" lengthAdjust="spacingAndGlyphs">-0.2</text><text x="105.52" y="124.99" fill="#ffffff" stroke="#ffffff" text-anchor="middle" textLength="8.43" lengthAdjust="spacingAndGlyphs">1.5</text><text x="118.09" y="124.99" fill="#262626" stroke="#262626" text-anchor="middle" textLength="8.43" lengthAdjust="spacingAndGlyphs">0.3</text><text x="130.66" y="124.99" fill="#ffffff" stroke="#ffffff" text-anchor="middle" textLength="8.43" lengthAdjust="spacingAndGlyphs">1.5</text><text x="143.22" y="124.99" fill="#262626" stroke="#262626" text-anchor="middle" textLength="10.34" lengthAdjust="spacingAndGlyphs">-0.7</text><text x="155.79" y="124.99" fill="#262626" stroke="#262626" text-anchor="middle" textLength="8.43" lengthAdjust="spacingAndGlyphs">0.2</text><text x="168.36" y="124.99" fill="#262626" stroke="#262626" text-anchor="middle" textLength="8.43" lengthAdjust="spacingAndGlyphs">0.1</text><text x="193.50" y="124.99" fill="#262626" stroke="#262626" text-anchor="middle" textLength="8.43" lengthAdjust="spacingAndGlyphs">0.2</text><text x="206.06" y="124.99" fill="#262626" stroke="#262626" text-anchor="middle" textLength="8.43" lengthAdjust="spacingAndGlyphs">0.2</text><text x="218.63" y="124.99" fill="#262626" stroke="#262626" text-anchor="middle" textLength="10.34" lengthAdjust="spacingAndGlyphs">-0.1</text><text x="231.20" y="124.99" fill="#262626" stroke="#262626" text-anchor="middle" textLength="10.34" lengthAdjust="spacingAndGlyphs">-0.1</text><text x="243.77" y="124.99" fill="#262626" stroke="#262626" text-anchor="middle" textLength="10.34" lengthAdjust="spacingAndGlyphs">-0.1</text><text x="256.34" y="124.99" fill="#262626" stroke="#262626" text-anchor="middle" textLength="10.34" lengthAdjust="spacingAndGlyphs">-0.3</text><text x="268.90" y="124.99" fill="#262626" stroke="#262626" text-anchor="middle" textLength="10.34" lengthAdjust="spacingAndGlyphs">-0.6</text><text x="281.47" y="124.99" fill="#262626" stroke="#262626" text-anchor="middle" textLength="10.34" lengthAdjust="spacingAndGlyphs">-0.7</text><text x="80.38" y="137.53" fill="#262626" stroke="#262626" text-anchor="middle" textLength="10.34" lengthAdjust="spacingAndGlyphs">-0.2</text><text x="92.95" y="137.53" fill="#262626" stroke="#262626" text-anchor="middle" textLength="10.34" lengthAdjust="spacingAndGlyphs">-0.4</text><text x="105.52" y="137.53" fill="#ffffff" stroke="#ffffff" text-anchor="middle" textLength="8.43" lengthAdjust="spacingAndGlyphs">1.3</text><text x="118.09" y="137.53" fill="#262626" stroke="#262626" text-anchor="middle" textLength="8.43" lengthAdjust="spacingAndGlyphs">0.0</text><text x="130.66" y="137.53" fill="#ffffff" stroke="#ffffff" text-anchor="middle" textLength="8.43" lengthAdjust="spacingAndGlyphs">1.3</text><text x="143.22" y="137.53" fill="#262626" stroke="#262626" text-anchor="middle" textLength="10.34" lengthAdjust="spacingAndGlyphs">-0.9</text><text x="155.79" y="137.53" fill="#262626" stroke="#262626" text-anchor="middle" textLength="10.34" lengthAdjust="spacingAndGlyphs">-0.1</text><text x="168.36" y="137.53" fill="#262626" stroke="#262626" text-anchor="middle" textLength="10.34" lengthAdjust="spacingAndGlyphs">-0.1</text><text x="180.93" y="137.53" fill="#262626" stroke="#262626" text-anchor="middle" textLength="10.34" lengthAdjust="spacingAndGlyphs">-0.2</text><text x="206.06" y="137.53" fill="#262626" stroke="#262626" text-anchor="middle" textLength="8.43" lengthAdjust="spacingAndGlyphs">0.0</text><text x="218.63" y="137.53" fill="#262626" stroke="#262626" text-anchor="middle" textLength="10.34" lengthAdjust="spacingAndGlyphs">-0.3</text><text x="231.20" y="137.53" fill="#262626" stroke="#262626" text-anchor="middle" textLength="10.34" lengthAdjust="spacingAndGlyphs">-0.3</text><text x="243.77" y="137.53" fill="#262626" stroke="#262626" text-anchor="middle" textLength="10.34" lengthAdjust="spacingAndGlyphs">-0.4</text><text x="256.34" y="137.53" fill="#262626" stroke="#262626" text-anchor="middle" textLength="10.34" lengthAdjust="spacingAndGlyphs">-0.5</text><text x="268.90" y="137.53" fill="#262626" stroke="#262626" text-anchor="middle" textLength="10.34" lengthAdjust="spacingAndGlyphs">-0.8</text><text x="281.47" y="137.53" fill="#262626" stroke="#262626" text-anchor="middle" textLength="10.34" lengthAdjust="spacingAndGlyphs">-0.8</text><text x="80.38" y="150.07" fill="#262626" stroke="#262626" text-anchor="middle" textLength="10.34" lengthAdjust="spacingAndGlyphs">-0.2</text><text x="92.95" y="150.07" fill="#262626" stroke="#262626" text-anchor="middle" textLength="10.34" lengthAdjust="spacingAndGlyphs">-0.4</text><text x="105.52" y="150.07" fill="#ffffff" stroke="#ffffff" text-anchor="middle" textLength="8.43" lengthAdjust="spacingAndGlyphs">1.3</text><text x="118.09" y="150.07" fill="#262626" stroke="#262626" text-anchor="middle" textLength="8.43" lengthAdjust="spacingAndGlyphs">0.0</text><text x="130.66" y="150.07" fill="#ffffff" stroke="#ffffff" text-anchor="middle" textLength="8.43" lengthAdjust="spacingAndGlyphs">1.3</text><text x="143.22" y="150.07" fill="#262626" stroke="#262626" text-anchor="middle" textLength="10.34" lengthAdjust="spacingAndGlyphs">-0.9</text><text x="155.79" y="150.07" fill="#262626" stroke="#262626" text-anchor="middle" textLength="10.34" lengthAdjust="spacingAndGlyphs">-0.1</text><text x="168.36" y="150.07" fill="#262626" stroke="#262626" text-anchor="middle" textLength="10.34" lengthAdjust="spacingAndGlyphs">-0.1</text><text x="180.93" y="150.07" fill="#262626" stroke="#262626" text-anchor="middle" textLength="10.34" lengthAdjust="spacingAndGlyphs">-0.2</text><text x="193.50" y="150.07" fill="#262626" stroke="#262626" text-anchor="middle" textLength="8.43" lengthAdjust="spacingAndGlyphs">0.0</text><text x="218.63" y="150.07" fill="#262626" stroke="#262626" text-anchor="middle" textLength="10.34" lengthAdjust="spacingAndGlyphs">-0.3</text><text x="231.20" y="150.07" fill="#262626" stroke="#262626" text-anchor="middle" textLength="10.34" lengthAdjust="spacingAndGlyphs">-0.3</text><text x="243.77" y="150.07" fill="#262626" stroke="#262626" text-anchor="middle" textLength="10.34" lengthAdjust="spacingAndGlyphs">-0.4</text><text x="256.34" y="150.07" fill="#262626" stroke="#262626" text-anchor="middle" textLength="10.34" lengthAdjust="spacingAndGlyphs">-0.5</text><text x="268.90" y="150.07" fill="#262626" stroke="#262626" text-anchor="middle" textLength="10.34" lengthAdjust="spacingAndGlyphs">-0.8</text><text x="281.47" y="150.07" fill="#262626" stroke="#262626" text-anchor="middle" textLength="10.34" lengthAdjust="spacingAndGlyphs">-0.9</text><text x="80.38" y="162.61" fill="#262626" stroke="#262626" text-anchor="middle" textLength="8.43" lengthAdjust="spacingAndGlyphs">0.1</text><text x="92.95" y="162.61" fill="#262626" stroke="#262626" text-anchor="middle" textLength="10.34" lengthAdjust="spacingAndGlyphs">-0.1</text><text x="105.52" y="162.61" fill="#ffffff" stroke="#ffffff" text-anchor="middle" textLength="8.43" lengthAdjust="spacingAndGlyphs">1.6</text><text x="118.09" y="162.61" fill="#262626" stroke="#262626" text-anchor="middle" textLength="8.43" lengthAdjust="spacingAndGlyphs">0.4</text><text x="130.66" y="162.61" fill="#ffffff" stroke="#ffffff" text-anchor="middle" textLength="8.43" lengthAdjust="spacingAndGlyphs">1.6</text><text x="143.22" y="162.61" fill="#262626" stroke="#262626" text-anchor="middle" textLength="10.34" lengthAdjust="spacingAndGlyphs">-0.7</text><text x="155.79" y="162.61" fill="#262626" stroke="#262626" text-anchor="middle" textLength="8.43" lengthAdjust="spacingAndGlyphs">0.3</text><text x="168.36" y="162.61" fill="#262626" stroke="#262626" text-anchor="middle" textLength="8.43" lengthAdjust="spacingAndGlyphs">0.2</text><text x="180.93" y="162.61" fill="#262626" stroke="#262626" text-anchor="middle" textLength="8.43" lengthAdjust="spacingAndGlyphs">0.1</text><text x="193.50" y="162.61" fill="#262626" stroke="#262626" text-anchor="middle" textLength="8.43" lengthAdjust="spacingAndGlyphs">0.3</text><text x="206.06" y="162.61" fill="#262626" stroke="#262626" text-anchor="middle" textLength="8.43" lengthAdjust="spacingAndGlyphs">0.3</text><text x="231.20" y="162.61" fill="#262626" stroke="#262626" text-anchor="middle" textLength="8.43" lengthAdjust="spacingAndGlyphs">0.0</text><text x="243.77" y="162.61" fill="#262626" stroke="#262626" text-anchor="middle" textLength="10.34" lengthAdjust="spacingAndGlyphs">-0.0</text><text x="256.34" y="162.61" fill="#262626" stroke="#262626" text-anchor="middle" textLength="10.34" lengthAdjust="spacingAndGlyphs">-0.2</text><text x="268.90" y="162.61" fill="#262626" stroke="#262626" text-anchor="middle" textLength="10.34" lengthAdjust="spacingAndGlyphs">-0.6</text><text x="281.47" y="162.61" fill="#262626" stroke="#262626" text-anchor="middle" textLength="10.34" lengthAdjust="spacingAndGlyphs">-0.6</text><text x="80.38" y="175.15" fill="#262626" stroke="#262626" text-anchor="middle" textLength="8.43" lengthAdjust="spacingAndGlyphs">0.1</text><text x="92.95" y="175.15" fill="#262626" stroke="#262626" text-anchor="middle" textLength="10.34" lengthAdjust="spacingAndGlyphs">-0.1</text><text x="105.52" y="175.15" fill="#ffffff" stroke="#ffffff" text-anchor="middle" textLength="8.43" lengthAdjust="spacingAndGlyphs">1.5</text><text x="118.09" y="175.15" fill="#262626" stroke="#262626" text-anchor="middle" textLength="8.43" lengthAdjust="spacingAndGlyphs">0.3</text><text x="130.66" y="175.15" fill="#ffffff" stroke="#ffffff" text-anchor="middle" textLength="8.43" lengthAdjust="spacingAndGlyphs">1.6</text><text x="143.22" y="175.15" fill="#262626" stroke="#262626" text-anchor="middle" textLength="10.34" lengthAdjust="spacingAndGlyphs">-0.7</text><text x="155.79" y="175.15" fill="#262626" stroke="#262626" text-anchor="middle" textLength="8.43" lengthAdjust="spacingAndGlyphs">0.2</text><text x="168.36" y="175.15" fill="#262626" stroke="#262626" text-anchor="middle" textLength="8.43" lengthAdjust="spacingAndGlyphs">0.2</text><text x="180.93" y="175.15" fill="#262626" stroke="#262626" text-anchor="middle" textLength="8.43" lengthAdjust="spacingAndGlyphs">0.1</text><text x="193.50" y="175.15" fill="#262626" stroke="#262626" text-anchor="middle" textLength="8.43" lengthAdjust="spacingAndGlyphs">0.3</text><text x="206.06" y="175.15" fill="#262626" stroke="#262626" text-anchor="middle" textLength="8.43" lengthAdjust="spacingAndGlyphs">0.3</text><text x="218.63" y="175.15" fill="#262626" stroke="#262626" text-anchor="middle" textLength="10.34" lengthAdjust="spacingAndGlyphs">-0.0</text><text x="243.77" y="175.15" fill="#262626" stroke="#262626" text-anchor="middle" textLength="10.34" lengthAdjust="spacingAndGlyphs">-0.1</text><text x="256.34" y="175.15" fill="#262626" stroke="#262626" text-anchor="middle" textLength="10.34" lengthAdjust="spacingAndGlyphs">-0.3</text><text x="268.90" y="175.15" fill="#262626" stroke="#262626" text-anchor="middle" textLength="10.34" lengthAdjust="spacingAndGlyphs">-0.6</text><text x="281.47" y="175.15" fill="#262626" stroke="#262626" text-anchor="middle" textLength="10.34" lengthAdjust="spacingAndGlyphs">-0.6</text><text x="80.38" y="187.69" fill="#262626" stroke="#262626" text-anchor="middle" textLength="8.43" lengthAdjust="spacingAndGlyphs">0.1</text><text x="92.95" y="187.69" fill="#262626" stroke="#262626" text-anchor="middle" textLength="10.34" lengthAdjust="spacingAndGlyphs">-0.0</text><text x="105.52" y="187.69" fill="#ffffff" stroke="#ffffff" text-anchor="middle" textLength="8.43" lengthAdjust="spacingAndGlyphs">1.6</text><text x="118.09" y="187.69" fill="#262626" stroke="#262626" text-anchor="middle" textLength="8.43" lengthAdjust="spacingAndGlyphs">0.4</text><text x="130.66" y="187.69" fill="#ffffff" stroke="#ffffff" text-anchor="middle" textLength="8.43" lengthAdjust="spacingAndGlyphs">1.6</text><text x="143.22" y="187.69" fill="#262626" stroke="#262626" text-anchor="middle" textLength="10.34" lengthAdjust="spacingAndGlyphs">-0.7</text><text x="155.79" y="187.69" fill="#262626" stroke="#262626" text-anchor="middle" textLength="8.43" lengthAdjust="spacingAndGlyphs">0.3</text><text x="168.36" y="187.69" fill="#262626" stroke="#262626" text-anchor="middle" textLength="8.43" lengthAdjust="spacingAndGlyphs">0.2</text><text x="180.93" y="187.69" fill="#262626" stroke="#262626" text-anchor="middle" textLength="8.43" lengthAdjust="spacingAndGlyphs">0.1</text><text x="193.50" y="187.69" fill="#262626" stroke="#262626" text-anchor="middle" textLength="8.43" lengthAdjust="spacingAndGlyphs">0.4</text><text x="206.06" y="187.69" fill="#262626" stroke="#262626" text-anchor="middle" textLength="8.43" lengthAdjust="spacingAndGlyphs">0.4</text><text x="218.63" y="187.69" fill="#262626" stroke="#262626" text-anchor="middle" textLength="8.43" lengthAdjust="spacingAndGlyphs">0.0</text><text x="231.20" y="187.69" fill="#262626" stroke="#262626" text-anchor="middle" textLength="8.43" lengthAdjust="spacingAndGlyphs">0.1</text><text x="256.34" y="187.69" fill="#262626" stroke="#262626" text-anchor="middle" textLength="10.34" lengthAdjust="spacingAndGlyphs">-0.2</text><text x="268.90" y="187.69" fill="#262626" stroke="#262626" text-anchor="middle" textLength="10.34" lengthAdjust="spacingAndGlyphs">-0.5</text><text x="281.47" y="187.69" fill="#262626" stroke="#262626" text-anchor="middle" textLength="10.34" lengthAdjust="spacingAndGlyphs">-0.6</text><text x="80.38" y="200.23" fill="#262626" stroke="#262626" text-anchor="middle" textLength="8.43" lengthAdjust="spacingAndGlyphs">0.3</text><text x="92.95" y="200.23" fill="#262626" stroke="#262626" text-anchor="middle" textLength="8.43" lengthAdjust="spacingAndGlyphs">0.2</text><text x="105.52" y="200.23" fill="#ffffff" stroke="#ffffff" text-anchor="middle" textLength="8.43" lengthAdjust="spacingAndGlyphs">1.7</text><text x="118.09" y="200.23" fill="#262626" stroke="#262626" text-anchor="middle" textLength="8.43" lengthAdjust="spacingAndGlyphs">0.5</text><text x="130.66" y="200.23" fill="#ffffff" stroke="#ffffff" text-anchor="middle" textLength="8.43" lengthAdjust="spacingAndGlyphs">1.8</text><text x="143.22" y="200.23" fill="#262626" stroke="#262626" text-anchor="middle" textLength="10.34" lengthAdjust="spacingAndGlyphs">-0.4</text><text x="155.79" y="200.23" fill="#262626" stroke="#262626" text-anchor="middle" textLength="8.43" lengthAdjust="spacingAndGlyphs">0.5</text><text x="168.36" y="200.23" fill="#262626" stroke="#262626" text-anchor="middle" textLength="8.43" lengthAdjust="spacingAndGlyphs">0.4</text><text x="180.93" y="200.23" fill="#262626" stroke="#262626" text-anchor="middle" textLength="8.43" lengthAdjust="spacingAndGlyphs">0.3</text><text x="193.50" y="200.23" fill="#262626" stroke="#262626" text-anchor="middle" textLength="8.43" lengthAdjust="spacingAndGlyphs">0.5</text><text x="206.06" y="200.23" fill="#262626" stroke="#262626" text-anchor="middle" textLength="8.43" lengthAdjust="spacingAndGlyphs">0.5</text><text x="218.63" y="200.23" fill="#262626" stroke="#262626" text-anchor="middle" textLength="8.43" lengthAdjust="spacingAndGlyphs">0.2</text><text x="231.20" y="200.23" fill="#262626" stroke="#262626" text-anchor="middle" textLength="8.43" lengthAdjust="spacingAndGlyphs">0.3</text><text x="243.77" y="200.23" fill="#262626" stroke="#262626" text-anchor="middle" textLength="8.43" lengthAdjust="spacingAndGlyphs">0.2</text><text x="268.90" y="200.23" fill="#262626" stroke="#262626" text-anchor="middle" textLength="10.34" lengthAdjust="spacingAndGlyphs">-0.3</text><text x="281.47" y="200.23" fill="#262626" stroke="#262626" text-anchor="middle" textLength="10.34" lengthAdjust="spacingAndGlyphs">-0.3</text><text x="80.38" y="212.77" fill="#262626" stroke="#262626" text-anchor="middle" textLength="8.43" lengthAdjust="spacingAndGlyphs">0.6</text><text x="92.95" y="212.77" fill="#262626" stroke="#262626" text-anchor="middle" textLength="8.43" lengthAdjust="spacingAndGlyphs">0.5</text><text x="105.52" y="212.77" fill="#ffffff" stroke="#ffffff" text-anchor="middle" textLength="8.43" lengthAdjust="spacingAndGlyphs">1.9</text><text x="118.09" y="212.77" fill="#262626" stroke="#262626" text-anchor="middle" textLength="8.43" lengthAdjust="spacingAndGlyphs">0.8</text><text x="130.66" y="212.77" fill="#ffffff" stroke="#ffffff" text-anchor="middle" textLength="8.43" lengthAdjust="spacingAndGlyphs">2.0</text><text x="143.22" y="212.77" fill="#262626" stroke="#262626" text-anchor="middle" textLength="10.34" lengthAdjust="spacingAndGlyphs">-0.1</text><text x="155.79" y="212.77" fill="#262626" stroke="#262626" text-anchor="middle" textLength="8.43" lengthAdjust="spacingAndGlyphs">0.8</text><text x="168.36" y="212.77" fill="#262626" stroke="#262626" text-anchor="middle" textLength="8.43" lengthAdjust="spacingAndGlyphs">0.7</text><text x="180.93" y="212.77" fill="#262626" stroke="#262626" text-anchor="middle" textLength="8.43" lengthAdjust="spacingAndGlyphs">0.6</text><text x="193.50" y="212.77" fill="#262626" stroke="#262626" text-anchor="middle" textLength="8.43" lengthAdjust="spacingAndGlyphs">0.8</text><text x="206.06" y="212.77" fill="#262626" stroke="#262626" text-anchor="middle" textLength="8.43" lengthAdjust="spacingAndGlyphs">0.8</text><text x="218.63" y="212.77" fill="#262626" stroke="#262626" text-anchor="middle" textLength="8.43" lengthAdjust="spacingAndGlyphs">0.6</text><text x="231.20" y="212.77" fill="#262626" stroke="#262626" text-anchor="middle" textLength="8.43" lengthAdjust="spacingAndGlyphs">0.6</text><text x="243.77" y="212.77" fill="#262626" stroke="#262626" text-anchor="middle" textLength="8.43" lengthAdjust="spacingAndGlyphs">0.5</text><text x="256.34" y="212.77" fill="#262626" stroke="#262626" text-anchor="middle" textLength="8.43" lengthAdjust="spacingAndGlyphs">0.3</text><text x="281.47" y="212.77" fill="#262626" stroke="#262626" text-anchor="middle" textLength="10.34" lengthAdjust="spacingAndGlyphs">-0.0</text><text x="80.38" y="225.31" fill="#262626" stroke="#262626" text-anchor="middle" textLength="8.43" lengthAdjust="spacingAndGlyphs">0.7</text><text x="92.95" y="225.31" fill="#262626" stroke="#262626" text-anchor="middle" textLength="8.43" lengthAdjust="spacingAndGlyphs">0.5</text><text x="105.52" y="225.31" fill="#ffffff" stroke="#ffffff" text-anchor="middle" textLength="8.43" lengthAdjust="spacingAndGlyphs">1.9</text><text x="118.09" y="225.31" fill="#262626" stroke="#262626" text-anchor="middle" textLength="8.43" lengthAdjust="spacingAndGlyphs">0.8</text><text x="130.66" y="225.31" fill="#ffffff" stroke="#ffffff" text-anchor="middle" textLength="8.43" lengthAdjust="spacingAndGlyphs">2.1</text><text x="143.22" y="225.31" fill="#262626" stroke="#262626" text-anchor="middle" textLength="10.34" lengthAdjust="spacingAndGlyphs">-0.1</text><text x="155.79" y="225.31" fill="#262626" stroke="#262626" text-anchor="middle" textLength="8.43" lengthAdjust="spacingAndGlyphs">0.7</text><text x="168.36" y="225.31" fill="#262626" stroke="#262626" text-anchor="middle" textLength="8.43" lengthAdjust="spacingAndGlyphs">0.7</text><text x="180.93" y="225.31" fill="#262626" stroke="#262626" text-anchor="middle" textLength="8.43" lengthAdjust="spacingAndGlyphs">0.7</text><text x="193.50" y="225.31" fill="#262626" stroke="#262626" text-anchor="middle" textLength="8.43" lengthAdjust="spacingAndGlyphs">0.8</text><text x="206.06" y="225.31" fill="#262626" stroke="#262626" text-anchor="middle" textLength="8.43" lengthAdjust="spacingAndGlyphs">0.8</text><text x="218.63" y="225.31" fill="#262626" stroke="#262626" text-anchor="middle" textLength="8.43" lengthAdjust="spacingAndGlyphs">0.6</text><text x="231.20" y="225.31" fill="#262626" stroke="#262626" text-anchor="middle" textLength="8.43" lengthAdjust="spacingAndGlyphs">0.6</text><text x="243.77" y="225.31" fill="#262626" stroke="#262626" text-anchor="middle" textLength="8.43" lengthAdjust="spacingAndGlyphs">0.6</text><text x="256.34" y="225.31" fill="#262626" stroke="#262626" text-anchor="middle" textLength="8.43" lengthAdjust="spacingAndGlyphs">0.3</text><text x="268.90" y="225.31" fill="#262626" stroke="#262626" text-anchor="middle" textLength="8.43" lengthAdjust="spacingAndGlyphs">0.0</text><line x1="74.10" y1="41.68" x2="287.76" y2="41.68" stroke="#000" stroke-width="1.1"/><line x1="99.24" y1="16.60" x2="99.24" y2="229.78" stroke="#000" stroke-width="1.1"/><line x1="74.10" y1="91.84" x2="287.76" y2="91.84" stroke="#000" stroke-width="1.1"/><line x1="149.51" y1="16.60" x2="149.51" y2="229.78" stroke="#000" stroke-width="1.1"/><line x1="74.10" y1="142.00" x2="287.76" y2="142.00" stroke="#000" stroke-width="1.1"/><line x1="199.78" y1="16.60" x2="199.78" y2="229.78" stroke="#000" stroke-width="1.1"/><line x1="74.10" y1="204.70" x2="287.76" y2="204.70" stroke="#000" stroke-width="1.1"/><line x1="262.62" y1="16.60" x2="262.62" y2="229.78" stroke="#000" stroke-width="1.1"/></g>
<g font-family='"Liberation Sans", sans-serif' font-size="6.0" fill="#262626" stroke="#262626" stroke-width="0.12"><line x1="72.23" y1="22.87" x2="74.10" y2="22.87" stroke="#262626" stroke-width="0.45"/><text x="70.36" y="24.87" text-anchor="end" textLength="27.97" lengthAdjust="spacingAndGlyphs">Basic CNN</text><line x1="72.23" y1="35.41" x2="74.10" y2="35.41" stroke="#262626" stroke-width="0.45"/><text x="70.36" y="37.41" text-anchor="end" textLength="45.74" lengthAdjust="spacingAndGlyphs">Prototypical CNN</text><line x1="72.23" y1="47.95" x2="74.10" y2="47.95" stroke="#262626" stroke-width="0.45"/><text x="70.36" y="49.95" text-anchor="end" textLength="49.97" lengthAdjust="spacingAndGlyphs">Softlabel (beta=4)</text><line x1="72.23" y1="60.49" x2="74.10" y2="60.49" stroke="#262626" stroke-width="0.45"/><text x="70.36" y="62.49" text-anchor="end" textLength="53.41" lengthAdjust="spacingAndGlyphs">Softlabel (beta=12)</text><line x1="72.23" y1="73.03" x2="74.10" y2="73.03" stroke="#262626" stroke-width="0.45"/><text x="70.36" y="75.03" text-anchor="end" textLength="64.48" lengthAdjust="spacingAndGlyphs">Hyperbolic-proto (fixed)</text><line x1="72.23" y1="85.57" x2="74.10" y2="85.57" stroke="#262626" stroke-width="0.45"/><text x="70.36" y="87.57" text-anchor="end" textLength="69.85" lengthAdjust="spacingAndGlyphs">Hyperbolic-proto (guided)</text><line x1="72.23" y1="98.11" x2="74.10" y2="98.11" stroke="#262626" stroke-width="0.45"/><text x="70.36" y="100.11" text-anchor="end" textLength="8.46" lengthAdjust="spacingAndGlyphs">MC</text><line x1="72.23" y1="110.65" x2="74.10" y2="110.65" stroke="#262626" stroke-width="0.45"/><text x="70.36" y="112.65" text-anchor="end" textLength="19.62" lengthAdjust="spacingAndGlyphs">Yolo-V2</text><line x1="72.23" y1="123.19" x2="74.10" y2="123.19" stroke="#262626" stroke-width="0.45"/><text x="70.36" y="125.19" text-anchor="end" textLength="45.35" lengthAdjust="spacingAndGlyphs">HXE (alpha=0.1)</text><line x1="72.23" y1="135.73" x2="74.10" y2="135.73" stroke="#262626" stroke-width="0.45"/><text x="70.36" y="137.73" text-anchor="end" textLength="45.35" lengthAdjust="spacingAndGlyphs">HXE (alpha=0.6)</text><line x1="72.23" y1="148.27" x2="74.10" y2="148.27" stroke="#262626" stroke-width="0.45"/><text x="70.36" y="150.27" text-anchor="end" textLength="40.23" lengthAdjust="spacingAndGlyphs">Multi-task CNN</text><line x1="72.23" y1="160.81" x2="74.10" y2="160.81" stroke="#262626" stroke-width="0.45"/><text x="70.36" y="162.81" text-anchor="end" textLength="32.87" lengthAdjust="spacingAndGlyphs">Chang et al.</text><line x1="72.23" y1="173.35" x2="74.10" y2="173.35" stroke="#262626" stroke-width="0.45"/><text x="70.36" y="175.35" text-anchor="end" textLength="10.90" lengthAdjust="spacingAndGlyphs">HAF</text><line x1="72.23" y1="185.89" x2="74.10" y2="185.89" stroke="#262626" stroke-width="0.45"/><text x="70.36" y="187.89" text-anchor="end" textLength="12.03" lengthAdjust="spacingAndGlyphs">DHC</text><line x1="72.23" y1="198.43" x2="74.10" y2="198.43" stroke="#262626" stroke-width="0.45"/><text x="70.36" y="200.43" text-anchor="end" textLength="45.87" lengthAdjust="spacingAndGlyphs">CNN-Transformer</text><line x1="72.23" y1="210.97" x2="74.10" y2="210.97" stroke="#262626" stroke-width="0.45"/><text x="70.36" y="212.97" text-anchor="end" textLength="14.83" lengthAdjust="spacingAndGlyphs">HPDT</text><line x1="72.23" y1="223.51" x2="74.10" y2="223.51" stroke="#262626" stroke-width="0.45"/><text x="70.36" y="225.51" text-anchor="end" textLength="34.88" lengthAdjust="spacingAndGlyphs">HPDT-guided</text><line x1="80.38" y1="229.78" x2="80.38" y2="231.65" stroke="#262626" stroke-width="0.45"/><text transform="translate(79.28,237.58) rotate(-45)" text-anchor="end" textLength="27.97" lengthAdjust="spacingAndGlyphs">Basic CNN</text><line x1="92.95" y1="229.78" x2="92.95" y2="231.65" stroke="#262626" stroke-width="0.45"/><text transform="translate(91.85,237.58) rotate(-45)" text-anchor="end" textLength="45.74" lengthAdjust="spacingAndGlyphs">Prototypical CNN</text><line x1="105.52" y1="229.78" x2="105.52" y2="231.65" stroke="#262626" stroke-width="0.45"/><text transform="translate(104.42,237.58) rotate(-45)" text-anchor="end" textLength="49.97" lengthAdjust="spacingAndGlyphs">Softlabel (beta=4)</text><line x1="118.09" y1="229.78" x2="118.09" y2="231.65" stroke="#262626" stroke-width="0.45"/><text transform="translate(116.99,237.58) rotate(-45)" text-anchor="end" textLength="53.41" lengthAdjust="spacingAndGlyphs">Softlabel (beta=12)</text><line x1="130.66" y1="229.78" x2="130.66" y2="231.65" stroke="#262626" stroke-width="0.45"/><text transform="translate(129.56,237.58) rotate(-45)" text-anchor="end" textLength="64.48" lengthAdjust="spacingAndGlyphs">Hyperbolic-proto (fixed)</text><line x1="143.22" y1="229.78" x2="143.22" y2="231.65" stroke="#262626" stroke-width="0.45"/><text transform="translate(142.12,237.58) rotate(-45)" text-anchor="end" textLength="69.85" lengthAdjust="spacingAndGlyphs">Hyperbolic-proto (guided)</text><line x1="155.79" y1="229.78" x2="155.79" y2="231.65" stroke="#262626" stroke-width="0.45"/><text transform="translate(154.69,237.58) rotate(-45)" text-anchor="end" textLength="8.46" lengthAdjust="spacingAndGlyphs">MC</text><line x1="168.36" y1="229.78" x2="168.36" y2="231.65" stroke="#262626" stroke-width="0.45"/><text transform="translate(167.26,237.58) rotate(-45)" text-anchor="end" textLength="19.62" lengthAdjust="spacingAndGlyphs">Yolo-V2</text><line x1="180.93" y1="229.78" x2="180.93" y2="231.65" stroke="#262626" stroke-width="0.45"/><text transform="translate(179.83,237.58) rotate(-45)" text-anchor="end" textLength="45.35" lengthAdjust="spacingAndGlyphs">HXE (alpha=0.1)</text><line x1="193.50" y1="229.78" x2="193.50" y2="231.65" stroke="#262626" stroke-width="0.45"/><text transform="translate(192.40,237.58) rotate(-45)" text-anchor="end" textLength="45.35" lengthAdjust="spacingAndGlyphs">HXE (alpha=0.6)</text><line x1="206.06" y1="229.78" x2="206.06" y2="231.65" stroke="#262626" stroke-width="0.45"/><text transform="translate(204.96,237.58) rotate(-45)" text-anchor="end" textLength="40.23" lengthAdjust="spacingAndGlyphs">Multi-task CNN</text><line x1="218.63" y1="229.78" x2="218.63" y2="231.65" stroke="#262626" stroke-width="0.45"/><text transform="translate(217.53,237.58) rotate(-45)" text-anchor="end" textLength="32.87" lengthAdjust="spacingAndGlyphs">Chang et al.</text><line x1="231.20" y1="229.78" x2="231.20" y2="231.65" stroke="#262626" stroke-width="0.45"/><text transform="translate(230.10,237.58) rotate(-45)" text-anchor="end" textLength="10.90" lengthAdjust="spacingAndGlyphs">HAF</text><line x1="243.77" y1="229.78" x2="243.77" y2="231.65" stroke="#262626" stroke-width="0.45"/><text transform="translate(242.67,237.58) rotate(-45)" text-anchor="end" textLength="12.03" lengthAdjust="spacingAndGlyphs">DHC</text><line x1="256.34" y1="229.78" x2="256.34" y2="231.65" stroke="#262626" stroke-width="0.45"/><text transform="translate(255.24,237.58) rotate(-45)" text-anchor="end" textLength="45.87" lengthAdjust="spacingAndGlyphs">CNN-Transformer</text><line x1="268.90" y1="229.78" x2="268.90" y2="231.65" stroke="#262626" stroke-width="0.45"/><text transform="translate(267.80,237.58) rotate(-45)" text-anchor="end" textLength="14.83" lengthAdjust="spacingAndGlyphs">HPDT</text><line x1="281.47" y1="229.78" x2="281.47" y2="231.65" stroke="#262626" stroke-width="0.45"/><text transform="translate(280.37,237.58) rotate(-45)" text-anchor="end" textLength="34.88" lengthAdjust="spacingAndGlyphs">HPDT-guided</text><text x="180.93" y="6.00" text-anchor="middle" font-size="7.0" textLength="122.15" lengthAdjust="spacingAndGlyphs">(a) Effect size for accuracy difference</text></g>
<g font-family='"Liberation Sans", sans-serif' font-size="6.0" fill="#262626" stroke="#262626" stroke-width="0.12"><rect x="301.10" y="15.20" width="10.50" height="215.70" fill="url(#cb0)" stroke="none"/><line x1="311.60" y1="219.73" x2="313.47" y2="219.73" stroke="#262626" stroke-width="0.45"/><text x="315.34" y="221.73" textLength="13.16" lengthAdjust="spacingAndGlyphs">−2.0</text><line x1="311.60" y1="195.66" x2="313.47" y2="195.66" stroke="#262626" stroke-width="0.45"/><text x="315.34" y="197.66" textLength="13.16" lengthAdjust="spacingAndGlyphs">−1.5</text><line x1="311.60" y1="171.58" x2="313.47" y2="171.58" stroke="#262626" stroke-width="0.45"/><text x="315.34" y="173.58" textLength="13.16" lengthAdjust="spacingAndGlyphs">−1.0</text><line x1="311.60" y1="147.51" x2="313.47" y2="147.51" stroke="#262626" stroke-width="0.45"/><text x="315.34" y="149.51" textLength="13.16" lengthAdjust="spacingAndGlyphs">−0.5</text><line x1="311.60" y1="123.44" x2="313.47" y2="123.44" stroke="#262626" stroke-width="0.45"/><text x="315.34" y="125.44" textLength="8.62" lengthAdjust="spacingAndGlyphs">0.0</text><line x1="311.60" y1="99.36" x2="313.47" y2="99.36" stroke="#262626" stroke-width="0.45"/><text x="315.34" y="101.36" textLength="8.62" lengthAdjust="spacingAndGlyphs">0.5</text><line x1="311.60" y1="75.29" x2="313.47" y2="75.29" stroke="#262626" stroke-width="0.45"/><text x="315.34" y="77.29" textLength="8.62" lengthAdjust="spacingAndGlyphs">1.0</text><line x1="311.60" y1="51.21" x2="313.47" y2="51.21" stroke="#262626" stroke-width="0.45"/><text x="315.34" y="53.21" textLength="8.62" lengthAdjust="spacingAndGlyphs">1.5</text><line x1="311.60" y1="27.14" x2="313.47" y2="27.14" stroke="#262626" stroke-width="0.45"/><text x="315.34" y="29.14" textLength="8.62" lengthAdjust="spacingAndGlyphs">2.0</text><text transform="translate(335.60,123.05) rotate(-90)" text-anchor="middle" textLength="28.45" lengthAdjust="spacingAndGlyphs">Effect Size</text></g>
<g font-family='"Liberation Sans", sans-serif' font-size="5.8" stroke-width="0.0"><rect x="435.17" y="16.60" width="12.62" height="12.59" fill="#f9f3ef"/><rect x="447.74" y="16.60" width="12.62" height="12.59" fill="#3974af"/><rect x="460.30" y="16.60" width="12.62" height="12.59" fill="#cee4ef"/><rect x="472.87" y="16.60" width="12.62" height="12.59" fill="#c3deec"/><rect x="485.44" y="16.60" width="12.62" height="12.59" fill="#fde1d1"/><rect x="498.01" y="16.60" width="12.62" height="12.59" fill="#f1f5f7"/><rect x="510.58" y="16.60" width="12.62" height="12.59" fill="#e9f1f5"/><rect x="523.14" y="16.60" width="12.62" height="12.59" fill="#f1f5f7"/><rect x="535.71" y="16.60" width="12.62" height="12.59" fill="#e9f1f5"/><rect x="548.28" y="16.60" width="12.62" height="12.59" fill="#e9f1f5"/><rect x="560.85" y="16.60" width="12.62" height="12.59" fill="#f7f8f8"/><rect x="573.42" y="16.60" width="12.62" height="12.59" fill="#f9f3ef"/><rect x="585.98" y="16.60" width="12.62" height="12.59" fill="#f9f3ef"/><rect x="598.55" y="16.60" width="12.62" height="12.59" fill="#faede5"/><rect x="611.12" y="16.60" width="12.62" height="12.59" fill="#f7b89c"/><rect x="623.69" y="16.60" width="12.62" height="12.59" fill="#f9c3aa"/><rect x="422.60" y="29.14" width="12.62" height="12.59" fill="#f1f5f7"/><rect x="447.74" y="29.14" width="12.62" height="12.59" fill="#3974af"/><rect x="460.30" y="29.14" width="12.62" height="12.59" fill="#c3deec"/><rect x="472.87" y="29.14" width="12.62" height="12.59" fill="#c3deec"/><rect x="485.44" y="29.14" width="12.62" height="12.59" fill="#fde1d1"/><rect x="498.01" y="29.14" width="12.62" height="12.59" fill="#f1f5f7"/><rect x="510.58" y="29.14" width="12.62" height="12.59" fill="#e9f1f5"/><rect x="523.14" y="29.14" width="12.62" height="12.59" fill="#e9f1f5"/><rect x="535.71" y="29.14" width="12.62" height="12.59" fill="#e9f1f5"/><rect x="548.28" y="29.14" width="12.62" height="12.59" fill="#e9f1f5"/><rect x="560.85" y="29.14" width="12.62" height="12.59" fill="#f7f8f8"/><rect x="573.42" y="29.14" width="12.62" height="12.59" fill="#f9f3ef"/><rect x="585.98" y="29.14" width="12.62" height="12.59" fill="#f7f8f8"/><rect x="598.55" y="29.14" width="12.62" height="12.59" fill="#faede5"/><rect x="611.12" y="29.14" width="12.62" height="12.59" fill="#f9c3aa"/><rect x="623.69" y="29.14" width="12.62" height="12.59" fill="#f9c3aa"/><rect x="422.60" y="41.68" width="12.62" height="12.59" fill="#b53243"/><rect x="435.17" y="41.68" width="12.62" height="12.59" fill="#b53243"/><rect x="460.30" y="41.68" width="12.62" height="12.59" fill="#cd5855"/><rect x="472.87" y="41.68" width="12.62" height="12.59" fill="#eb9980"/><rect x="485.44" y="41.68" width="12.62" height="12.59" fill="#96283e"/><rect x="498.01" y="41.68" width="12.62" height="12.59" fill="#c03c49"/><rect x="510.58" y="41.68" width="12.62" height="12.59" fill="#c03c49"/><rect x="523.14" y="41.68" width="12.62" height="12.59" fill="#c03c49"/><rect x="535.71" y="41.68" width="12.62" height="12.59" fill="#c03c49"/><rect x="548.28" y="41.68" width="12.62" height="12.59" fill="#c03c49"/><rect x="560.85" y="41.68" width="12.62" height="12.59" fill="#b53243"/><rect x="573.42" y="41.68" width="12.62" height="12.59" fill="#a52d41"/><rect x="585.98" y="41.68" width="12.62" height="12.59" fill="#a52d41"/><rect x="598.55" y="41.68" width="12.62" height="12.59" fill="#a52d41"/><rect x="611.12" y="41.68" width="12.62" height="12.59" fill="#791f3a"/><rect x="623.69" y="41.68" width="12.62" height="12.59" fill="#791f3a"/><rect x="422.60" y="54.22" width="12.62" height="12.59" fill="#fcd8c4"/><rect x="435.17" y="54.22" width="12.62" height="12.59" fill="#facfb8"/><rect x="447.74" y="54.22" width="12.62" height="12.59" fill="#4d8fc1"/><rect x="472.87" y="54.22" width="12.62" height="12.59" fill="#f1f5f7"/><rect x="485.44" y="54.22" width="12.62" height="12.59" fill="#f7b89c"/><rect x="498.01" y="54.22" width="12.62" height="12.59" fill="#fde1d1"/><rect x="510.58" y="54.22" width="12.62" height="12.59" fill="#fce7db"/><rect x="523.14" y="54.22" width="12.62" height="12.59" fill="#fde1d1"/><rect x="535.71" y="54.22" width="12.62" height="12.59" fill="#fde1d1"/><rect x="548.28" y="54.22" width="12.62" height="12.59" fill="#fce7db"/><rect x="560.85" y="54.22" width="12.62" height="12.59" fill="#facfb8"/><rect x="573.42" y="54.22" width="12.62" height="12.59" fill="#facfb8"/><rect x="585.98" y="54.22" width="12.62" height="12.59" fill="#facfb8"/><rect x="598.55" y="54.22" width="12.62" height="12.59" fill="#facfb8"/><rect x="611.12" y="54.22" width="12.62" height="12.59" fill="#e8927a"/><rect x="623.69" y="54.22" width="12.62" height="12.59" fill="#e8927a"/><rect x="422.60" y="66.76" width="12.62" height="12.59" fill="#facfb8"/><rect x="435.17" y="66.76" width="12.62" height="12.59" fill="#facfb8"/><rect x="447.74" y="66.76" width="12.62" height="12.59" fill="#85bcd9"/><rect x="460.30" y="66.76" width="12.62" height="12.59" fill="#f9f3ef"/><rect x="485.44" y="66.76" width="12.62" height="12.59" fill="#f1a589"/><rect x="498.01" y="66.76" width="12.62" height="12.59" fill="#fcd8c4"/><rect x="510.58" y="66.76" width="12.62" height="12.59" fill="#fde1d1"/><rect x="523.14" y="66.76" width="12.62" height="12.59" fill="#fcd8c4"/><rect x="535.71" y="66.76" width="12.62" height="12.59" fill="#fde1d1"/><rect x="548.28" y="66.76" width="12.62" height="12.59" fill="#fde1d1"/><rect x="560.85" y="66.76" width="12.62" height="12.59" fill="#facfb8"/><rect x="573.42" y="66.76" width="12.62" height="12.59" fill="#f9c3aa"/><rect x="585.98" y="66.76" width="12.62" height="12.59" fill="#facfb8"/><rect x="598.55" y="66.76" width="12.62" height="12.59" fill="#f9c3aa"/><rect x="611.12" y="66.76" width="12.62" height="12.59" fill="#dc7564"/><rect x="623.69" y="66.76" width="12.62" height="12.59" fill="#e2846f"/><rect x="422.60" y="79.30" width="12.62" height="12.59" fill="#d9e9f2"/><rect x="435.17" y="79.30" width="12.62" height="12.59" fill="#d9e9f2"/><rect x="447.74" y="79.30" width="12.62" height="12.59" fill="#2e5d90"/><rect x="460.30" y="79.30" width="12.62" height="12.59" fill="#a9d1e5"/><rect x="472.87" y="79.30" width="12.62" height="12.59" fill="#93c4de"/><rect x="498.01" y="79.30" width="12.62" height="12.59" fill="#cee4ef"/><rect x="510.58" y="79.30" width="12.62" height="12.59" fill="#cee4ef"/><rect x="523.14" y="79.30" width="12.62" height="12.59" fill="#cee4ef"/><rect x="535.71" y="79.30" width="12.62" height="12.59" fill="#cee4ef"/><rect x="548.28" y="79.30" width="12.62" height="12.59" fill="#cee4ef"/><rect x="560.85" y="79.30" width="12.62" height="12.59" fill="#d9e9f2"/><rect x="573.42" y="79.30" width="12.62" height="12.59" fill="#e1edf4"/><rect x="585.98" y="79.30" width="12.62" height="12.59" fill="#e1edf4"/><rect x="598.55" y="79.30" width="12.62" height="12.59" fill="#e9f1f5"/><rect x="611.12" y="79.30" width="12.62" height="12.59" fill="#fce7db"/><rect x="623.69" y="79.30" width="12.62" height="12.59" fill="#fce7db"/><rect x="422.60" y="91.84" width="12.62" height="12.59" fill="#f9f3ef"/><rect x="435.17" y="91.84" width="12.62" height="12.59" fill="#f9f3ef"/><rect x="447.74" y="91.84" width="12.62" height="12.59" fill="#407eb9"/><rect x="460.30" y="91.84" width="12.62" height="12.59" fill="#d9e9f2"/><rect x="472.87" y="91.84" width="12.62" height="12.59" fill="#cee4ef"/><rect x="485.44" y="91.84" width="12.62" height="12.59" fill="#fcd8c4"/><rect x="510.58" y="91.84" width="12.62" height="12.59" fill="#f1f5f7"/><rect x="523.14" y="91.84" width="12.62" height="12.59" fill="#f7f8f8"/><rect x="535.71" y="91.84" width="12.62" height="12.59" fill="#f1f5f7"/><rect x="548.28" y="91.84" width="12.62" height="12.59" fill="#f1f5f7"/><rect x="560.85" y="91.84" width="12.62" height="12.59" fill="#f9f3ef"/><rect x="573.42" y="91.84" width="12.62" height="12.59" fill="#faede5"/><rect x="585.98" y="91.84" width="12.62" height="12.59" fill="#faede5"/><rect x="598.55" y="91.84" width="12.62" height="12.59" fill="#fce7db"/><rect x="611.12" y="91.84" width="12.62" height="12.59" fill="#f7b89c"/><rect x="623.69" y="91.84" width="12.62" height="12.59" fill="#f7b89c"/><rect x="422.60" y="104.38" width="12.62" height="12.59" fill="#faede5"/><rect x="435.17" y="104.38" width="12.62" height="12.59" fill="#faede5"/><rect x="447.74" y="104.38" width="12.62" height="12.59" fill="#407eb9"/><rect x="460.30" y="104.38" width="12.62" height="12.59" fill="#e1edf4"/><rect x="472.87" y="104.38" width="12.62" height="12.59" fill="#d9e9f2"/><rect x="485.44" y="104.38" width="12.62" height="12.59" fill="#fcd8c4"/><rect x="498.01" y="104.38" width="12.62" height="12.59" fill="#f9f3ef"/><rect x="523.14" y="104.38" width="12.62" height="12.59" fill="#f9f3ef"/><rect x="535.71" y="104.38" width="12.62" height="12.59" fill="#f7f8f8"/><rect x="548.28" y="104.38" width="12.62" height="12.59" fill="#f7f8f8"/><rect x="560.85" y="104.38" width="12.62" height="12.59" fill="#faede5"/><rect x="573.42" y="104.38" width="12.62" height="12.59" fill="#fce7db"/><rect x="585.98" y="104.38" width="12.62" height="12.59" fill="#fce7db"/><rect x="598.55" y="104.38" width="12.62" height="12.59" fill="#fde1d1"/><rect x="611.12" y="104.38" width="12.62" height="12.59" fill="#f4ac8e"/><rect x="623.69" y="104.38" width="12.62" height="12.59" fill="#f4ac8e"/><rect x="422.60" y="116.92" width="12.62" height="12.59" fill="#f9f3ef"/><rect x="435.17" y="116.92" width="12.62" height="12.59" fill="#faede5"/><rect x="447.74" y="116.92" width="12.62" height="12.59" fill="#407eb9"/><rect x="460.30" y="116.92" width="12.62" height="12.59" fill="#d9e9f2"/><rect x="472.87" y="116.92" width="12.62" height="12.59" fill="#cee4ef"/><rect x="485.44" y="116.92" width="12.62" height="12.59" fill="#fcd8c4"/><rect x="498.01" y="116.92" width="12.62" height="12.59" fill="#f7f8f8"/><rect x="510.58" y="116.92" width="12.62" height="12.59" fill="#f1f5f7"/><rect x="535.71" y="116.92" width="12.62" height="12.59" fill="#f1f5f7"/><rect x="548.28" y="116.92" width="12.62" height="12.59" fill="#f1f5f7"/><rect x="560.85" y="116.92" width="12.62" height="12.59" fill="#f9f3ef"/><rect x="573.42" y="116.92" width="12.62" height="12.59" fill="#faede5"/><rect x="585.98" y="116.92" width="12.62" height="12.59" fill="#faede5"/><rect x="598.55" y="116.92" width="12.62" height="12.59" fill="#fce7db"/><rect x="611.12" y="116.92" width="12.62" height="12.59" fill="#f7b89c"/><rect x="623.69" y="116.92" width="12.62" height="12.59" fill="#f7b89c"/><rect x="422.60" y="129.46" width="12.62" height="12.59" fill="#faede5"/><rect x="435.17" y="129.46" width="12.62" height="12.59" fill="#faede5"/><rect x="447.74" y="129.46" width="12.62" height="12.59" fill="#407eb9"/><rect x="460.30" y="129.46" width="12.62" height="12.59" fill="#d9e9f2"/><rect x="472.87" y="129.46" width="12.62" height="12.59" fill="#d9e9f2"/><rect x="485.44" y="129.46" width="12.62" height="12.59" fill="#fcd8c4"/><rect x="498.01" y="129.46" width="12.62" height="12.59" fill="#f9f3ef"/><rect x="510.58" y="129.46" width="12.62" height="12.59" fill="#f7f8f8"/><rect x="523.14" y="129.46" width="12.62" height="12.59" fill="#f9f3ef"/><rect x="548.28" y="129.46" width="12.62" height="12.59" fill="#f7f8f8"/><rect x="560.85" y="129.46" width="12.62" height="12.59" fill="#faede5"/><rect x="573.42" y="129.46" width="12.62" height="12.59" fill="#fce7db"/><rect x="585.98" y="129.46" width="12.62" height="12.59" fill="#fce7db"/><rect x="598.55" y="129.46" width="12.62" height="12.59" fill="#fce7db"/><rect x="611.12" y="129.46" width="12.62" height="12.59" fill="#f4ac8e"/><rect x="623.69" y="129.46" width="12.62" height="12.59" fill="#f7b89c"/><rect x="422.60" y="142.00" width="12.62" height="12.59" fill="#faede5"/><rect x="435.17" y="142.00" width="12.62" height="12.59" fill="#faede5"/><rect x="447.74" y="142.00" width="12.62" height="12.59" fill="#407eb9"/><rect x="460.30" y="142.00" width="12.62" height="12.59" fill="#e1edf4"/><rect x="472.87" y="142.00" width="12.62" height="12.59" fill="#d9e9f2"/><rect x="485.44" y="142.00" width="12.62" height="12.59" fill="#fcd8c4"/><rect x="498.01" y="142.00" width="12.62" height="12.59" fill="#f9f3ef"/><rect x="510.58" y="142.00" width="12.62" height="12.59" fill="#f7f8f8"/><rect x="523.14" y="142.00" width="12.62" height="12.59" fill="#f9f3ef"/><rect x="535.71" y="142.00" width="12.62" height="12.59" fill="#f7f8f8"/><rect x="560.85" y="142.00" width="12.62" height="12.59" fill="#faede5"/><rect x="573.42" y="142.00" width="12.62" height="12.59" fill="#fce7db"/><rect x="585.98" y="142.00" width="12.62" height="12.59" fill="#fce7db"/><rect x="598.55" y="142.00" width="12.62" height="12.59" fill="#fce7db"/><rect x="611.12" y="142.00" width="12.62" height="12.59" fill="#f4ac8e"/><rect x="623.69" y="142.00" width="12.62" height="12.59" fill="#f7b89c"/><rect x="422.60" y="154.54" width="12.62" height="12.59" fill="#f7f8f8"/><rect x="435.17" y="154.54" width="12.62" height="12.59" fill="#f7f8f8"/><rect x="447.74" y="154.54" width="12.62" height="12.59" fill="#3974af"/><rect x="460.30" y="154.54" width="12.62" height="12.59" fill="#c3deec"/><rect x="472.87" y="154.54" width="12.62" height="12.59" fill="#c3deec"/><rect x="485.44" y="154.54" width="12.62" height="12.59" fill="#fde1d1"/><rect x="498.01" y="154.54" width="12.62" height="12.59" fill="#f1f5f7"/><rect x="510.58" y="154.54" width="12.62" height="12.59" fill="#e9f1f5"/><rect x="523.14" y="154.54" width="12.62" height="12.59" fill="#f1f5f7"/><rect x="535.71" y="154.54" width="12.62" height="12.59" fill="#e9f1f5"/><rect x="548.28" y="154.54" width="12.62" height="12.59" fill="#e9f1f5"/><rect x="573.42" y="154.54" width="12.62" height="12.59" fill="#f9f3ef"/><rect x="585.98" y="154.54" width="12.62" height="12.59" fill="#f9f3ef"/><rect x="598.55" y="154.54" width="12.62" height="12.59" fill="#faede5"/><rect x="611.12" y="154.54" width="12.62" height="12.59" fill="#f9c3aa"/><rect x="623.69" y="154.54" width="12.62" height="12.59" fill="#f9c3aa"/><rect x="422.60" y="167.08" width="12.62" height="12.59" fill="#f1f5f7"/><rect x="435.17" y="167.08" width="12.62" height="12.59" fill="#f1f5f7"/><rect x="447.74" y="167.08" width="12.62" height="12.59" fill="#3369a0"/><rect x="460.30" y="167.08" width="12.62" height="12.59" fill="#c3deec"/><rect x="472.87" y="167.08" width="12.62" height="12.59" fill="#b6d8e8"/><rect x="485.44" y="167.08" width="12.62" height="12.59" fill="#fce7db"/><rect x="498.01" y="167.08" width="12.62" height="12.59" fill="#e9f1f5"/><rect x="510.58" y="167.08" width="12.62" height="12.59" fill="#e1edf4"/><rect x="523.14" y="167.08" width="12.62" height="12.59" fill="#e9f1f5"/><rect x="535.71" y="167.08" width="12.62" height="12.59" fill="#e1edf4"/><rect x="548.28" y="167.08" width="12.62" height="12.59" fill="#e1edf4"/><rect x="560.85" y="167.08" width="12.62" height="12.59" fill="#f1f5f7"/><rect x="585.98" y="167.08" width="12.62" height="12.59" fill="#f7f8f8"/><rect x="598.55" y="167.08" width="12.62" height="12.59" fill="#f9f3ef"/><rect x="611.12" y="167.08" width="12.62" height="12.59" fill="#f9c3aa"/><rect x="623.69" y="167.08" width="12.62" height="12.59" fill="#facfb8"/><rect x="422.60" y="179.62" width="12.62" height="12.59" fill="#f1f5f7"/><rect x="435.17" y="179.62" width="12.62" height="12.59" fill="#f7f8f8"/><rect x="447.74" y="179.62" width="12.62" height="12.59" fill="#3369a0"/><rect x="460.30" y="179.62" width="12.62" height="12.59" fill="#c3deec"/><rect x="472.87" y="179.62" width="12.62" height="12.59" fill="#c3deec"/><rect x="485.44" y="179.62" width="12.62" height="12.59" fill="#fce7db"/><rect x="498.01" y="179.62" width="12.62" height="12.59" fill="#e9f1f5"/><rect x="510.58" y="179.62" width="12.62" height="12.59" fill="#e1edf4"/><rect x="523.14" y="179.62" width="12.62" height="12.59" fill="#e9f1f5"/><rect x="535.71" y="179.62" width="12.62" height="12.59" fill="#e1edf4"/><rect x="548.28" y="179.62" width="12.62" height="12.59" fill="#e1edf4"/><rect x="560.85" y="179.62" width="12.62" height="12.59" fill="#f1f5f7"/><rect x="573.42" y="179.62" width="12.62" height="12.59" fill="#f7f8f8"/><rect x="598.55" y="179.62" width="12.62" height="12.59" fill="#f9f3ef"/><rect x="611.12" y="179.62" width="12.62" height="12.59" fill="#f9c3aa"/><rect x="623.69" y="179.62" width="12.62" height="12.59" fill="#facfb8"/><rect x="422.60" y="192.16" width="12.62" height="12.59" fill="#e9f1f5"/><rect x="435.17" y="192.16" width="12.62" height="12.59" fill="#e9f1f5"/><rect x="447.74" y="192.16" width="12.62" height="12.59" fill="#3369a0"/><rect x="460.30" y="192.16" width="12.62" height="12.59" fill="#c3deec"/><rect x="472.87" y="192.16" width="12.62" height="12.59" fill="#b6d8e8"/><rect x="485.44" y="192.16" width="12.62" height="12.59" fill="#faede5"/><rect x="498.01" y="192.16" width="12.62" height="12.59" fill="#e1edf4"/><rect x="510.58" y="192.16" width="12.62" height="12.59" fill="#d9e9f2"/><rect x="523.14" y="192.16" width="12.62" height="12.59" fill="#e1edf4"/><rect x="535.71" y="192.16" width="12.62" height="12.59" fill="#e1edf4"/><rect x="548.28" y="192.16" width="12.62" height="12.59" fill="#e1edf4"/><rect x="560.85" y="192.16" width="12.62" height="12.59" fill="#e9f1f5"/><rect x="573.42" y="192.16" width="12.62" height="12.59" fill="#f1f5f7"/><rect x="585.98" y="192.16" width="12.62" height="12.59" fill="#f1f5f7"/><rect x="611.12" y="192.16" width="12.62" height="12.59" fill="#fcd8c4"/><rect x="623.69" y="192.16" width="12.62" height="12.59" fill="#fcd8c4"/><rect x="422.60" y="204.70" width="12.62" height="12.59" fill="#a9d1e5"/><rect x="435.17" y="204.70" width="12.62" height="12.59" fill="#b6d8e8"/><rect x="447.74" y="204.70" width="12.62" height="12.59" fill="#234974"/><rect x="460.30" y="204.70" width="12.62" height="12.59" fill="#7ab5d5"/><rect x="472.87" y="204.70" width="12.62" height="12.59" fill="#5ca2cb"/><rect x="485.44" y="204.70" width="12.62" height="12.59" fill="#e1edf4"/><rect x="498.01" y="204.70" width="12.62" height="12.59" fill="#a9d1e5"/><rect x="510.58" y="204.70" width="12.62" height="12.59" fill="#9bc9e1"/><rect x="523.14" y="204.70" width="12.62" height="12.59" fill="#a9d1e5"/><rect x="535.71" y="204.70" width="12.62" height="12.59" fill="#9bc9e1"/><rect x="548.28" y="204.70" width="12.62" height="12.59" fill="#9bc9e1"/><rect x="560.85" y="204.70" width="12.62" height="12.59" fill="#b6d8e8"/><rect x="573.42" y="204.70" width="12.62" height="12.59" fill="#b6d8e8"/><rect x="585.98" y="204.70" width="12.62" height="12.59" fill="#b6d8e8"/><rect x="598.55" y="204.70" width="12.62" height="12.59" fill="#cee4ef"/><rect x="623.69" y="204.70" width="12.62" height="12.59" fill="#f1f5f7"/><rect x="422.60" y="217.24" width="12.62" height="12.59" fill="#b6d8e8"/><rect x="435.17" y="217.24" width="12.62" height="12.59" fill="#b6d8e8"/><rect x="447.74" y="217.24" width="12.62" height="12.59" fill="#234974"/><rect x="460.30" y="217.24" width="12.62" height="12.59" fill="#7ab5d5"/><rect x="472.87" y="217.24" width="12.62" height="12.59" fill="#6dacd1"/><rect x="485.44" y="217.24" width="12.62" height="12.59" fill="#e1edf4"/><rect x="498.01" y="217.24" width="12.62" height="12.59" fill="#a9d1e5"/><rect x="510.58" y="217.24" width="12.62" height="12.59" fill="#9bc9e1"/><rect x="523.14" y="217.24" width="12.62" height="12.59" fill="#a9d1e5"/><rect x="535.71" y="217.24" width="12.62" height="12.59" fill="#a9d1e5"/><rect x="548.28" y="217.24" width="12.62" height="12.59" fill="#a9d1e5"/><rect x="560.85" y="217.24" width="12.62" height="12.59" fill="#b6d8e8"/><rect x="573.42" y="217.24" width="12.62" height="12.59" fill="#c3deec"/><rect x="585.98" y="217.24" width="12.62" height="12.59" fill="#c3deec"/><rect x="598.55" y="217.24" width="12.62" height="12.59" fill="#cee4ef"/><rect x="611.12" y="217.24" width="12.62" height="12.59" fill="#f9f3ef"/><text x="441.45" y="24.67" fill="#262626" stroke="#262626" text-anchor="middle" textLength="10.34" lengthAdjust="spacingAndGlyphs">-0.1</text><text x="454.02" y="24.67" fill="#ffffff" stroke="#ffffff" text-anchor="middle" textLength="8.43" lengthAdjust="spacingAndGlyphs">1.8</text><text x="466.59" y="24.67" fill="#262626" stroke="#262626" text-anchor="middle" textLength="8.43" lengthAdjust="spacingAndGlyphs">0.5</text><text x="479.16" y="24.67" fill="#262626" stroke="#262626" text-anchor="middle" textLength="8.43" lengthAdjust="spacingAndGlyphs">0.6</text><text x="491.72" y="24.67" fill="#262626" stroke="#262626" text-anchor="middle" textLength="10.34" lengthAdjust="spacingAndGlyphs">-0.4</text><text x="504.29" y="24.67" fill="#262626" stroke="#262626" text-anchor="middle" textLength="8.43" lengthAdjust="spacingAndGlyphs">0.1</text><text x="516.86" y="24.67" fill="#262626" stroke="#262626" text-anchor="middle" textLength="8.43" lengthAdjust="spacingAndGlyphs">0.2</text><text x="529.43" y="24.67" fill="#262626" stroke="#262626" text-anchor="middle" textLength="8.43" lengthAdjust="spacingAndGlyphs">0.1</text><text x="542.00" y="24.67" fill="#262626" stroke="#262626" text-anchor="middle" textLength="8.43" lengthAdjust="spacingAndGlyphs">0.2</text><text x="554.56" y="24.67" fill="#262626" stroke="#262626" text-anchor="middle" textLength="8.43" lengthAdjust="spacingAndGlyphs">0.2</text><text x="567.13" y="24.67" fill="#262626" stroke="#262626" text-anchor="middle" textLength="10.34" lengthAdjust="spacingAndGlyphs">-0.0</text><text x="579.70" y="24.67" fill="#262626" stroke="#262626" text-anchor="middle" textLength="10.34" lengthAdjust="spacingAndGlyphs">-0.1</text><text x="592.27" y="24.67" fill="#262626" stroke="#262626" text-anchor="middle" textLength="10.34" lengthAdjust="spacingAndGlyphs">-0.1</text><text x="604.84" y="24.67" fill="#262626" stroke="#262626" text-anchor="middle" textLength="10.34" lengthAdjust="spacingAndGlyphs">-0.2</text><text x="617.40" y="24.67" fill="#262626" stroke="#262626" text-anchor="middle" textLength="10.34" lengthAdjust="spacingAndGlyphs">-0.8</text><text x="629.97" y="24.67" fill="#262626" stroke="#262626" text-anchor="middle" textLength="10.34" lengthAdjust="spacingAndGlyphs">-0.7</text><text x="428.88" y="37.21" fill="#262626" stroke="#262626" text-anchor="middle" textLength="8.43" lengthAdjust="spacingAndGlyphs">0.1</text><text x="454.02" y="37.21" fill="#ffffff" stroke="#ffffff" text-anchor="middle" textLength="8.43" lengthAdjust="spacingAndGlyphs">1.8</text><text x="466.59" y="37.21" fill="#262626" stroke="#262626" text-anchor="middle" textLength="8.43" lengthAdjust="spacingAndGlyphs">0.6</text><text x="479.16" y="37.21" fill="#262626" stroke="#262626" text-anchor="middle" textLength="8.43" lengthAdjust="spacingAndGlyphs">0.6</text><text x="491.72" y="37.21" fill="#262626" stroke="#262626" text-anchor="middle" textLength="10.34" lengthAdjust="spacingAndGlyphs">-0.4</text><text x="504.29" y="37.21" fill="#262626" stroke="#262626" text-anchor="middle" textLength="8.43" lengthAdjust="spacingAndGlyphs">0.1</text><text x="516.86" y="37.21" fill="#262626" stroke="#262626" text-anchor="middle" textLength="8.43" lengthAdjust="spacingAndGlyphs">0.2</text><text x="529.43" y="37.21" fill="#262626" stroke="#262626" text-anchor="middle" textLength="8.43" lengthAdjust="spacingAndGlyphs">0.2</text><text x="542.00" y="37.21" fill="#262626" stroke="#262626" text-anchor="middle" textLength="8.43" lengthAdjust="spacingAndGlyphs">0.2</text><text x="554.56" y="37.21" fill="#262626" stroke="#262626" text-anchor="middle" textLength="8.43" lengthAdjust="spacingAndGlyphs">0.2</text><text x="567.13" y="37.21" fill="#262626" stroke="#262626" text-anchor="middle" textLength="8.43" lengthAdjust="spacingAndGlyphs">0.0</text><text x="579.70" y="37.21" fill="#262626" stroke="#262626" text-anchor="middle" textLength="10.34" lengthAdjust="spacingAndGlyphs">-0.1</text><text x="592.27" y="37.21" fill="#262626" stroke="#262626" text-anchor="middle" textLength="10.34" lengthAdjust="spacingAndGlyphs">-0.0</text><text x="604.84" y="37.21" fill="#262626" stroke="#262626" text-anchor="middle" textLength="10.34" lengthAdjust="spacingAndGlyphs">-0.2</text><text x="617.40" y="37.21" fill="#262626" stroke="#262626" text-anchor="middle" textLength="10.34" lengthAdjust="spacingAndGlyphs">-0.7</text><text x="629.97" y="37.21" fill="#262626" stroke="#262626" text-anchor="middle" textLength="10.34" lengthAdjust="spacingAndGlyphs">-0.7</text><text x="428.88" y="49.75" fill="#ffffff" stroke="#ffffff" text-anchor="middle" textLength="10.34" lengthAdjust="spacingAndGlyphs">-1.8</text><text x="441.45" y="49.75" fill="#ffffff" stroke="#ffffff" text-anchor="middle" textLength="10.34" lengthAdjust="spacingAndGlyphs">-1.8</text><text x="466.59" y="49.75" fill="#ffffff" stroke="#ffffff" text-anchor="middle" textLength="10.34" lengthAdjust="spacingAndGlyphs">-1.5</text><text x="479.16" y="49.75" fill="#ffffff" stroke="#ffffff" text-anchor="middle" textLength="10.34" lengthAdjust="spacingAndGlyphs">-1.0</text><text x="491.72" y="49.75" fill="#ffffff" stroke="#ffffff" text-anchor="middle" textLength="10.34" lengthAdjust="spacingAndGlyphs">-2.0</text><text x="504.29" y="49.75" fill="#ffffff" stroke="#ffffff" text-anchor="middle" textLength="10.34" lengthAdjust="spacingAndGlyphs">-1.7</text><text x="516.86" y="49.75" fill="#ffffff" stroke="#ffffff" text-anchor="middle" textLength="10.34" lengthAdjust="spacingAndGlyphs">-1.7</text><text x="529.43" y="49.75" fill="#ffffff" stroke="#ffffff" text-anchor="middle" textLength="10.34" lengthAdjust="spacingAndGlyphs">-1.7</text><text x="542.00" y="49.75" fill="#ffffff" stroke="#ffffff" text-anchor="middle" textLength="10.34" lengthAdjust="spacingAndGlyphs">-1.7</text><text x="554.56" y="49.75" fill="#ffffff" stroke="#ffffff" text-anchor="middle" textLength="10.34" lengthAdjust="spacingAndGlyphs">-1.7</text><text x="567.13" y="49.75" fill="#ffffff" stroke="#ffffff" text-anchor="middle" textLength="10.34" lengthAdjust="spacingAndGlyphs">-1.8</text><text x="579.70" y="49.75" fill="#ffffff" stroke="#ffffff" text-anchor="middle" textLength="10.34" lengthAdjust="spacingAndGlyphs">-1.9</text><text x="592.27" y="49.75" fill="#ffffff" stroke="#ffffff" text-anchor="middle" textLength="10.34" lengthAdjust="spacingAndGlyphs">-1.9</text><text x="604.84" y="49.75" fill="#ffffff" stroke="#ffffff" text-anchor="middle" textLength="10.34" lengthAdjust="spacingAndGlyphs">-1.9</text><text x="617.40" y="49.75" fill="#ffffff" stroke="#ffffff" text-anchor="middle" textLength="10.34" lengthAdjust="spacingAndGlyphs">-2.2</text><text x="629.97" y="49.75" fill="#ffffff" stroke="#ffffff" text-anchor="middle" textLength="10.34" lengthAdjust="spacingAndGlyphs">-2.2</text><text x="428.88" y="62.29" fill="#262626" stroke="#262626" text-anchor="middle" textLength="10.34" lengthAdjust="spacingAndGlyphs">-0.5</text><text x="441.45" y="62.29" fill="#262626" stroke="#262626" text-anchor="middle" textLength="10.34" lengthAdjust="spacingAndGlyphs">-0.6</text><text x="454.02" y="62.29" fill="#ffffff" stroke="#ffffff" text-anchor="middle" textLength="8.43" lengthAdjust="spacingAndGlyphs">1.5</text><text x="479.16" y="62.29" fill="#262626" stroke="#262626" text-anchor="middle" textLength="8.43" lengthAdjust="spacingAndGlyphs">0.1</text><text x="491.72" y="62.29" fill="#262626" stroke="#262626" text-anchor="middle" textLength="10.34" lengthAdjust="spacingAndGlyphs">-0.8</text><text x="504.29" y="62.29" fill="#262626" stroke="#262626" text-anchor="middle" textLength="10.34" lengthAdjust="spacingAndGlyphs">-0.4</text><text x="516.86" y="62.29" fill="#262626" stroke="#262626" text-anchor="middle" textLength="10.34" lengthAdjust="spacingAndGlyphs">-0.3</text><text x="529.43" y="62.29" fill="#262626" stroke="#262626" text-anchor="middle" textLength="10.34" lengthAdjust="spacingAndGlyphs">-0.4</text><text x="542.00" y="62.29" fill="#262626" stroke="#262626" text-anchor="middle" textLength="10.34" lengthAdjust="spacingAndGlyphs">-0.4</text><text x="554.56" y="62.29" fill="#262626" stroke="#262626" text-anchor="middle" textLength="10.34" lengthAdjust="spacingAndGlyphs">-0.3</text><text x="567.13" y="62.29" fill="#262626" stroke="#262626" text-anchor="middle" textLength="10.34" lengthAdjust="spacingAndGlyphs">-0.6</text><text x="579.70" y="62.29" fill="#262626" stroke="#262626" text-anchor="middle" textLength="10.34" lengthAdjust="spacingAndGlyphs">-0.6</text><text x="592.27" y="62.29" fill="#262626" stroke="#262626" text-anchor="middle" textLength="10.34" lengthAdjust="spacingAndGlyphs">-0.6</text><text x="604.84" y="62.29" fill="#262626" stroke="#262626" text-anchor="middle" textLength="10.34" lengthAdjust="spacingAndGlyphs">-0.6</text><text x="617.40" y="62.29" fill="#ffffff" stroke="#ffffff" text-anchor="middle" textLength="10.34" lengthAdjust="spacingAndGlyphs">-1.1</text><text x="629.97" y="62.29" fill="#ffffff" stroke="#ffffff" text-anchor="middle" textLength="10.34" lengthAdjust="spacingAndGlyphs">-1.1</text><text x="428.88" y="74.83" fill="#262626" stroke="#262626" text-anchor="middle" textLength="10.34" lengthAdjust="spacingAndGlyphs">-0.6</text><text x="441.45" y="74.83" fill="#262626" stroke="#262626" text-anchor="middle" textLength="10.34" lengthAdjust="spacingAndGlyphs">-0.6</text><text x="454.02" y="74.83" fill="#ffffff" stroke="#ffffff" text-anchor="middle" textLength="8.43" lengthAdjust="spacingAndGlyphs">1.0</text><text x="466.59" y="74.83" fill="#262626" stroke="#262626" text-anchor="middle" textLength="10.34" lengthAdjust="spacingAndGlyphs">-0.1</text><text x="491.72" y="74.83" fill="#262626" stroke="#262626" text-anchor="middle" textLength="10.34" lengthAdjust="spacingAndGlyphs">-1.0</text><text x="504.29" y="74.83" fill="#262626" stroke="#262626" text-anchor="middle" textLength="10.34" lengthAdjust="spacingAndGlyphs">-0.5</text><text x="516.86" y="74.83" fill="#262626" stroke="#262626" text-anchor="middle" textLength="10.34" lengthAdjust="spacingAndGlyphs">-0.4</text><text x="529.43" y="74.83" fill="#262626" stroke="#262626" text-anchor="middle" textLength="10.34" lengthAdjust="spacingAndGlyphs">-0.5</text><text x="542.00" y="74.83" fill="#262626" stroke="#262626" text-anchor="middle" textLength="10.34" lengthAdjust="spacingAndGlyphs">-0.4</text><text x="554.56" y="74.83" fill="#262626" stroke="#262626" text-anchor="middle" textLength="10.34" lengthAdjust="spacingAndGlyphs">-0.4</text><text x="567.13" y="74.83" fill="#262626" stroke="#262626" text-anchor="middle" textLength="10.34" lengthAdjust="spacingAndGlyphs">-0.6</text><text x="579.70" y="74.83" fill="#262626" stroke="#262626" text-anchor="middle" textLength="10.34" lengthAdjust="spacingAndGlyphs">-0.7</text><text x="592.27" y="74.83" fill="#262626" stroke="#262626" text-anchor="middle" textLength="10.34" lengthAdjust="spacingAndGlyphs">-0.6</text><text x="604.84" y="74.83" fill="#262626" stroke="#262626" text-anchor="middle" textLength="10.34" lengthAdjust="spacingAndGlyphs">-0.7</text><text x="617.40" y="74.83" fill="#ffffff" stroke="#ffffff" text-anchor="middle" textLength="10.34" lengthAdjust="spacingAndGlyphs">-1.3</text><text x="629.97" y="74.83" fill="#ffffff" stroke="#ffffff" text-anchor="middle" textLength="10.34" lengthAdjust="spacingAndGlyphs">-1.2</text><text x="428.88" y="87.37" fill="#262626" stroke="#262626" text-anchor="middle" textLength="8.43" lengthAdjust="spacingAndGlyphs">0.4</text><text x="441.45" y="87.37" fill="#262626" stroke="#262626" text-anchor="middle" textLength="8.43" lengthAdjust="spacingAndGlyphs">0.4</text><text x="454.02" y="87.37" fill="#ffffff" stroke="#ffffff" text-anchor="middle" textLength="8.43" lengthAdjust="spacingAndGlyphs">2.0</text><text x="466.59" y="87.37" fill="#262626" stroke="#262626" text-anchor="middle" textLength="8.43" lengthAdjust="spacingAndGlyphs">0.8</text><text x="479.16" y="87.37" fill="#262626" stroke="#262626" text-anchor="middle" textLength="8.43" lengthAdjust="spacingAndGlyphs">1.0</text><text x="504.29" y="87.37" fill="#262626" stroke="#262626" text-anchor="middle" textLength="8.43" lengthAdjust="spacingAndGlyphs">0.5</text><text x="516.86" y="87.37" fill="#262626" stroke="#262626" text-anchor="middle" textLength="8.43" lengthAdjust="spacingAndGlyphs">0.5</text><text x="529.43" y="87.37" fill="#262626" stroke="#262626" text-anchor="middle" textLength="8.43" lengthAdjust="spacingAndGlyphs">0.5</text><text x="542.00" y="87.37" fill="#262626" stroke="#262626" text-anchor="middle" textLength="8.43" lengthAdjust="spacingAndGlyphs">0.5</text><text x="554.56" y="87.37" fill="#262626" stroke="#262626" text-anchor="middle" textLength="8.43" lengthAdjust="spacingAndGlyphs">0.5</text><text x="567.13" y="87.37" fill="#262626" stroke="#262626" text-anchor="middle" textLength="8.43" lengthAdjust="spacingAndGlyphs">0.4</text><text x="579.70" y="87.37" fill="#262626" stroke="#262626" text-anchor="middle" textLength="8.43" lengthAdjust="spacingAndGlyphs">0.3</text><text x="592.27" y="87.37" fill="#262626" stroke="#262626" text-anchor="middle" textLength="8.43" lengthAdjust="spacingAndGlyphs">0.3</text><text x="604.84" y="87.37" fill="#262626" stroke="#262626" text-anchor="middle" textLength="8.43" lengthAdjust="spacingAndGlyphs">0.2</text><text x="617.40" y="87.37" fill="#262626" stroke="#262626" text-anchor="middle" textLength="10.34" lengthAdjust="spacingAndGlyphs">-0.3</text><text x="629.97" y="87.37" fill="#262626" stroke="#262626" text-anchor="middle" textLength="10.34" lengthAdjust="spacingAndGlyphs">-0.3</text><text x="428.88" y="99.91" fill="#262626" stroke="#262626" text-anchor="middle" textLength="10.34" lengthAdjust="spacingAndGlyphs">-0.1</text><text x="441.45" y="99.91" fill="#262626" stroke="#262626" text-anchor="middle" textLength="10.34" lengthAdjust="spacingAndGlyphs">-0.1</text><text x="454.02" y="99.91" fill="#ffffff" stroke="#ffffff" text-anchor="middle" textLength="8.43" lengthAdjust="spacingAndGlyphs">1.7</text><text x="466.59" y="99.91" fill="#262626" stroke="#262626" text-anchor="middle" textLength="8.43" lengthAdjust="spacingAndGlyphs">0.4</text><text x="479.16" y="99.91" fill="#262626" stroke="#262626" text-anchor="middle" textLength="8.43" lengthAdjust="spacingAndGlyphs">0.5</text><text x="491.72" y="99.91" fill="#262626" stroke="#262626" text-anchor="middle" textLength="10.34" lengthAdjust="spacingAndGlyphs">-0.5</text><text x="516.86" y="99.91" fill="#262626" stroke="#262626" text-anchor="middle" textLength="8.43" lengthAdjust="spacingAndGlyphs">0.1</text><text x="529.43" y="99.91" fill="#262626" stroke="#262626" text-anchor="middle" textLength="8.43" lengthAdjust="spacingAndGlyphs">0.0</text><text x="542.00" y="99.91" fill="#262626" stroke="#262626" text-anchor="middle" textLength="8.43" lengthAdjust="spacingAndGlyphs">0.1</text><text x="554.56" y="99.91" fill="#262626" stroke="#262626" text-anchor="middle" textLength="8.43" lengthAdjust="spacingAndGlyphs">0.1</text><text x="567.13" y="99.91" fill="#262626" stroke="#262626" text-anchor="middle" textLength="10.34" lengthAdjust="spacingAndGlyphs">-0.1</text><text x="579.70" y="99.91" fill="#262626" stroke="#262626" text-anchor="middle" textLength="10.34" lengthAdjust="spacingAndGlyphs">-0.2</text><text x="592.27" y="99.91" fill="#262626" stroke="#262626" text-anchor="middle" textLength="10.34" lengthAdjust="spacingAndGlyphs">-0.2</text><text x="604.84" y="99.91" fill="#262626" stroke="#262626" text-anchor="middle" textLength="10.34" lengthAdjust="spacingAndGlyphs">-0.3</text><text x="617.40" y="99.91" fill="#262626" stroke="#262626" text-anchor="middle" textLength="10.34" lengthAdjust="spacingAndGlyphs">-0.8</text><text x="629.97" y="99.91" fill="#262626" stroke="#262626" text-anchor="middle" textLength="10.34" lengthAdjust="spacingAndGlyphs">-0.8</text><text x="428.88" y="112.45" fill="#262626" stroke="#262626" text-anchor="middle" textLength="10.34" lengthAdjust="spacingAndGlyphs">-0.2</text><text x="441.45" y="112.45" fill="#262626" stroke="#262626" text-anchor="middle" textLength="10.34" lengthAdjust="spacingAndGlyphs">-0.2</text><text x="454.02" y="112.45" fill="#ffffff" stroke="#ffffff" text-anchor="middle" textLength="8.43" lengthAdjust="spacingAndGlyphs">1.7</text><text x="466.59" y="112.45" fill="#262626" stroke="#262626" text-anchor="middle" textLength="8.43" lengthAdjust="spacingAndGlyphs">0.3</text><text x="479.16" y="112.45" fill="#262626" stroke="#262626" text-anchor="middle" textLength="8.43" lengthAdjust="spacingAndGlyphs">0.4</text><text x="491.72" y="112.45" fill="#262626" stroke="#262626" text-anchor="middle" textLength="10.34" lengthAdjust="spacingAndGlyphs">-0.5</text><text x="504.29" y="112.45" fill="#262626" stroke="#262626" text-anchor="middle" textLength="10.34" lengthAdjust="spacingAndGlyphs">-0.1</text><text x="529.43" y="112.45" fill="#262626" stroke="#262626" text-anchor="middle" textLength="10.34" lengthAdjust="spacingAndGlyphs">-0.1</text><text x="542.00" y="112.45" fill="#262626" stroke="#262626" text-anchor="middle" textLength="10.34" lengthAdjust="spacingAndGlyphs">-0.0</text><text x="554.56" y="112.45" fill="#262626" stroke="#262626" text-anchor="middle" textLength="10.34" lengthAdjust="spacingAndGlyphs">-0.0</text><text x="567.13" y="112.45" fill="#262626" stroke="#262626" text-anchor="middle" textLength="10.34" lengthAdjust="spacingAndGlyphs">-0.2</text><text x="579.70" y="112.45" fill="#262626" stroke="#262626" text-anchor="middle" textLength="10.34" lengthAdjust="spacingAndGlyphs">-0.3</text><text x="592.27" y="112.45" fill="#262626" stroke="#262626" text-anchor="middle" textLength="10.34" lengthAdjust="spacingAndGlyphs">-0.3</text><text x="604.84" y="112.45" fill="#262626" stroke="#262626" text-anchor="middle" textLength="10.34" lengthAdjust="spacingAndGlyphs">-0.4</text><text x="617.40" y="112.45" fill="#262626" stroke="#262626" text-anchor="middle" textLength="10.34" lengthAdjust="spacingAndGlyphs">-0.9</text><text x="629.97" y="112.45" fill="#262626" stroke="#262626" text-anchor="middle" textLength="10.34" lengthAdjust="spacingAndGlyphs">-0.9</text><text x="428.88" y="124.99" fill="#262626" stroke="#262626" text-anchor="middle" textLength="10.34" lengthAdjust="spacingAndGlyphs">-0.1</text><text x="441.45" y="124.99" fill="#262626" stroke="#262626" text-anchor="middle" textLength="10.34" lengthAdjust="spacingAndGlyphs">-0.2</text><text x="454.02" y="124.99" fill="#ffffff" stroke="#ffffff" text-anchor="middle" textLength="8.43" lengthAdjust="spacingAndGlyphs">1.7</text><text x="466.59" y="124.99" fill="#262626" stroke="#262626" text-anchor="middle" textLength="8.43" lengthAdjust="spacingAndGlyphs">0.4</text><text x="479.16" y="124.99" fill="#262626" stroke="#262626" text-anchor="middle" textLength="8.43" lengthAdjust="spacingAndGlyphs">0.5</text><text x="491.72" y="124.99" fill="#262626" stroke="#262626" text-anchor="middle" textLength="10.34" lengthAdjust="spacingAndGlyphs">-0.5</text><text x="504.29" y="124.99" fill="#262626" stroke="#262626" text-anchor="middle" textLength="10.34" lengthAdjust="spacingAndGlyphs">-0.0</text><text x="516.86" y="124.99" fill="#262626" stroke="#262626" text-anchor="middle" textLength="8.43" lengthAdjust="spacingAndGlyphs">0.1</text><text x="542.00" y="124.99" fill="#262626" stroke="#262626" text-anchor="middle" textLength="8.43" lengthAdjust="spacingAndGlyphs">0.1</text><text x="554.56" y="124.99" fill="#262626" stroke="#262626" text-anchor="middle" textLength="8.43" lengthAdjust="spacingAndGlyphs">0.1</text><text x="567.13" y="124.99" fill="#262626" stroke="#262626" text-anchor="middle" textLength="10.34" lengthAdjust="spacingAndGlyphs">-0.1</text><text x="579.70" y="124.99" fill="#262626" stroke="#262626" text-anchor="middle" textLength="10.34" lengthAdjust="spacingAndGlyphs">-0.2</text><text x="592.27" y="124.99" fill="#262626" stroke="#262626" text-anchor="middle" textLength="10.34" lengthAdjust="spacingAndGlyphs">-0.2</text><text x="604.84" y="124.99" fill="#262626" stroke="#262626" text-anchor="middle" textLength="10.34" lengthAdjust="spacingAndGlyphs">-0.3</text><text x="617.40" y="124.99" fill="#262626" stroke="#262626" text-anchor="middle" textLength="10.34" lengthAdjust="spacingAndGlyphs">-0.8</text><text x="629.97" y="124.99" fill="#262626" stroke="#262626" text-anchor="middle" textLength="10.34" lengthAdjust="spacingAndGlyphs">-0.8</text><text x="428.88" y="137.53" fill="#262626" stroke="#262626" text-anchor="middle" textLength="10.34" lengthAdjust="spacingAndGlyphs">-0.2</text><text x="441.45" y="137.53" fill="#262626" stroke="#262626" text-anchor="middle" textLength="10.34" lengthAdjust="spacingAndGlyphs">-0.2</text><text x="454.02" y="137.53" fill="#ffffff" stroke="#ffffff" text-anchor="middle" textLength="8.43" lengthAdjust="spacingAndGlyphs">1.7</text><text x="466.59" y="137.53" fill="#262626" stroke="#262626" text-anchor="middle" textLength="8.43" lengthAdjust="spacingAndGlyphs">0.4</text><text x="479.16" y="137.53" fill="#262626" stroke="#262626" text-anchor="middle" textLength="8.43" lengthAdjust="spacingAndGlyphs">0.4</text><text x="491.72" y="137.53" fill="#262626" stroke="#262626" text-anchor="middle" textLength="10.34" lengthAdjust="spacingAndGlyphs">-0.5</text><text x="504.29" y="137.53" fill="#262626" stroke="#262626" text-anchor="middle" textLength="10.34" lengthAdjust="spacingAndGlyphs">-0.1</text><text x="516.86" y="137.53" fill="#262626" stroke="#262626" text-anchor="middle" textLength="8.43" lengthAdjust="spacingAndGlyphs">0.0</text><text x="529.43" y="137.53" fill="#262626" stroke="#262626" text-anchor="middle" textLength="10.34" lengthAdjust="spacingAndGlyphs">-0.1</text><text x="554.56" y="137.53" fill="#262626" stroke="#262626" text-anchor="middle" textLength="8.43" lengthAdjust="spacingAndGlyphs">0.0</text><text x="567.13" y="137.53" fill="#262626" stroke="#262626" text-anchor="middle" textLength="10.34" lengthAdjust="spacingAndGlyphs">-0.2</text><text x="579.70" y="137.53" fill="#262626" stroke="#262626" text-anchor="middle" textLength="10.34" lengthAdjust="spacingAndGlyphs">-0.3</text><text x="592.27" y="137.53" fill="#262626" stroke="#262626" text-anchor="middle" textLength="10.34" lengthAdjust="spacingAndGlyphs">-0.3</text><text x="604.84" y="137.53" fill="#262626" stroke="#262626" text-anchor="middle" textLength="10.34" lengthAdjust="spacingAndGlyphs">-0.3</text><text x="617.40" y="137.53" fill="#262626" stroke="#262626" text-anchor="middle" textLength="10.34" lengthAdjust="spacingAndGlyphs">-0.9</text><text x="629.97" y="137.53" fill="#262626" stroke="#262626" text-anchor="middle" textLength="10.34" lengthAdjust="spacingAndGlyphs">-0.8</text><text x="428.88" y="150.07" fill="#262626" stroke="#262626" text-anchor="middle" textLength="10.34" lengthAdjust="spacingAndGlyphs">-0.2</text><text x="441.45" y="150.07" fill="#262626" stroke="#262626" text-anchor="middle" textLength="10.34" lengthAdjust="spacingAndGlyphs">-0.2</text><text x="454.02" y="150.07" fill="#ffffff" stroke="#ffffff" text-anchor="middle" textLength="8.43" lengthAdjust="spacingAndGlyphs">1.7</text><text x="466.59" y="150.07" fill="#262626" stroke="#262626" text-anchor="middle" textLength="8.43" lengthAdjust="spacingAndGlyphs">0.3</text><text x="479.16" y="150.07" fill="#262626" stroke="#262626" text-anchor="middle" textLength="8.43" lengthAdjust="spacingAndGlyphs">0.4</text><text x="491.72" y="150.07" fill="#262626" stroke="#262626" text-anchor="middle" textLength="10.34" lengthAdjust="spacingAndGlyphs">-0.5</text><text x="504.29" y="150.07" fill="#262626" stroke="#262626" text-anchor="middle" textLength="10.34" lengthAdjust="spacingAndGlyphs">-0.1</text><text x="516.86" y="150.07" fill="#262626" stroke="#262626" text-anchor="middle" textLength="8.43" lengthAdjust="spacingAndGlyphs">0.0</text><text x="529.43" y="150.07" fill="#262626" stroke="#262626" text-anchor="middle" textLength="10.34" lengthAdjust="spacingAndGlyphs">-0.1</text><text x="542.00" y="150.07" fill="#262626" stroke="#262626" text-anchor="middle" textLength="10.34" lengthAdjust="spacingAndGlyphs">-0.0</text><text x="567.13" y="150.07" fill="#262626" stroke="#262626" text-anchor="middle" textLength="10.34" lengthAdjust="spacingAndGlyphs">-0.2</text><text x="579.70" y="150.07" fill="#262626" stroke="#262626" text-anchor="middle" textLength="10.34" lengthAdjust="spacingAndGlyphs">-0.3</text><text x="592.27" y="150.07" fill="#262626" stroke="#262626" text-anchor="middle" textLength="10.34" lengthAdjust="spacingAndGlyphs">-0.3</text><text x="604.84" y="150.07" fill="#262626" stroke="#262626" text-anchor="middle" textLength="10.34" lengthAdjust="spacingAndGlyphs">-0.3</text><text x="617.40" y="150.07" fill="#262626" stroke="#262626" text-anchor="middle" textLength="10.34" lengthAdjust="spacingAndGlyphs">-0.9</text><text x="629.97" y="150.07" fill="#262626" stroke="#262626" text-anchor="middle" textLength="10.34" lengthAdjust="spacingAndGlyphs">-0.8</text><text x="428.88" y="162.61" fill="#262626" stroke="#262626" text-anchor="middle" textLength="8.43" lengthAdjust="spacingAndGlyphs">0.0</text><text x="441.45" y="162.61" fill="#262626" stroke="#262626" text-anchor="middle" textLength="10.34" lengthAdjust="spacingAndGlyphs">-0.0</text><text x="454.02" y="162.61" fill="#ffffff" stroke="#ffffff" text-anchor="middle" textLength="8.43" lengthAdjust="spacingAndGlyphs">1.8</text><text x="466.59" y="162.61" fill="#262626" stroke="#262626" text-anchor="middle" textLength="8.43" lengthAdjust="spacingAndGlyphs">0.6</text><text x="479.16" y="162.61" fill="#262626" stroke="#262626" text-anchor="middle" textLength="8.43" lengthAdjust="spacingAndGlyphs">0.6</text><text x="491.72" y="162.61" fill="#262626" stroke="#262626" text-anchor="middle" textLength="10.34" lengthAdjust="spacingAndGlyphs">-0.4</text><text x="504.29" y="162.61" fill="#262626" stroke="#262626" text-anchor="middle" textLength="8.43" lengthAdjust="spacingAndGlyphs">0.1</text><text x="516.86" y="162.61" fill="#262626" stroke="#262626" text-anchor="middle" textLength="8.43" lengthAdjust="spacingAndGlyphs">0.2</text><text x="529.43" y="162.61" fill="#262626" stroke="#262626" text-anchor="middle" textLength="8.43" lengthAdjust="spacingAndGlyphs">0.1</text><text x="542.00" y="162.61" fill="#262626" stroke="#262626" text-anchor="middle" textLength="8.43" lengthAdjust="spacingAndGlyphs">0.2</text><text x="554.56" y="162.61" fill="#262626" stroke="#262626" text-anchor="middle" textLength="8.43" lengthAdjust="spacingAndGlyphs">0.2</text><text x="579.70" y="162.61" fill="#262626" stroke="#262626" text-anchor="middle" textLength="10.34" lengthAdjust="spacingAndGlyphs">-0.1</text><text x="592.27" y="162.61" fill="#262626" stroke="#262626" text-anchor="middle" textLength="10.34" lengthAdjust="spacingAndGlyphs">-0.1</text><text x="604.84" y="162.61" fill="#262626" stroke="#262626" text-anchor="middle" textLength="10.34" lengthAdjust="spacingAndGlyphs">-0.2</text><text x="617.40" y="162.61" fill="#262626" stroke="#262626" text-anchor="middle" textLength="10.34" lengthAdjust="spacingAndGlyphs">-0.7</text><text x="629.97" y="162.61" fill="#262626" stroke="#262626" text-anchor="middle" textLength="10.34" lengthAdjust="spacingAndGlyphs">-0.7</text><text x="428.88" y="175.15" fill="#262626" stroke="#262626" text-anchor="middle" textLength="8.43" lengthAdjust="spacingAndGlyphs">0.1</text><text x="441.45" y="175.15" fill="#262626" stroke="#262626" text-anchor="middle" textLength="8.43" lengthAdjust="spacingAndGlyphs">0.1</text><text x="454.02" y="175.15" fill="#ffffff" stroke="#ffffff" text-anchor="middle" textLength="8.43" lengthAdjust="spacingAndGlyphs">1.9</text><text x="466.59" y="175.15" fill="#262626" stroke="#262626" text-anchor="middle" textLength="8.43" lengthAdjust="spacingAndGlyphs">0.6</text><text x="479.16" y="175.15" fill="#262626" stroke="#262626" text-anchor="middle" textLength="8.43" lengthAdjust="spacingAndGlyphs">0.7</text><text x="491.72" y="175.15" fill="#262626" stroke="#262626" text-anchor="middle" textLength="10.34" lengthAdjust="spacingAndGlyphs">-0.3</text><text x="504.29" y="175.15" fill="#262626" stroke="#262626" text-anchor="middle" textLength="8.43" lengthAdjust="spacingAndGlyphs">0.2</text><text x="516.86" y="175.15" fill="#262626" stroke="#262626" text-anchor="middle" textLength="8.43" lengthAdjust="spacingAndGlyphs">0.3</text><text x="529.43" y="175.15" fill="#262626" stroke="#262626" text-anchor="middle" textLength="8.43" lengthAdjust="spacingAndGlyphs">0.2</text><text x="542.00" y="175.15" fill="#262626" stroke="#262626" text-anchor="middle" textLength="8.43" lengthAdjust="spacingAndGlyphs">0.3</text><text x="554.56" y="175.15" fill="#262626" stroke="#262626" text-anchor="middle" textLength="8.43" lengthAdjust="spacingAndGlyphs">0.3</text><text x="567.13" y="175.15" fill="#262626" stroke="#262626" text-anchor="middle" textLength="8.43" lengthAdjust="spacingAndGlyphs">0.1</text><text x="592.27" y="175.15" fill="#262626" stroke="#262626" text-anchor="middle" textLength="8.43" lengthAdjust="spacingAndGlyphs">0.0</text><text x="604.84" y="175.15" fill="#262626" stroke="#262626" text-anchor="middle" textLength="10.34" lengthAdjust="spacingAndGlyphs">-0.1</text><text x="617.40" y="175.15" fill="#262626" stroke="#262626" text-anchor="middle" textLength="10.34" lengthAdjust="spacingAndGlyphs">-0.7</text><text x="629.97" y="175.15" fill="#262626" stroke="#262626" text-anchor="middle" textLength="10.34" lengthAdjust="spacingAndGlyphs">-0.6</text><text x="428.88" y="187.69" fill="#262626" stroke="#262626" text-anchor="middle" textLength="8.43" lengthAdjust="spacingAndGlyphs">0.1</text><text x="441.45" y="187.69" fill="#262626" stroke="#262626" text-anchor="middle" textLength="8.43" lengthAdjust="spacingAndGlyphs">0.0</text><text x="454.02" y="187.69" fill="#ffffff" stroke="#ffffff" text-anchor="middle" textLength="8.43" lengthAdjust="spacingAndGlyphs">1.9</text><text x="466.59" y="187.69" fill="#262626" stroke="#262626" text-anchor="middle" textLength="8.43" lengthAdjust="spacingAndGlyphs">0.6</text><text x="479.16" y="187.69" fill="#262626" stroke="#262626" text-anchor="middle" textLength="8.43" lengthAdjust="spacingAndGlyphs">0.6</text><text x="491.72" y="187.69" fill="#262626" stroke="#262626" text-anchor="middle" textLength="10.34" lengthAdjust="spacingAndGlyphs">-0.3</text><text x="504.29" y="187.69" fill="#262626" stroke="#262626" text-anchor="middle" textLength="8.43" lengthAdjust="spacingAndGlyphs">0.2</text><text x="516.86" y="187.69" fill="#262626" stroke="#262626" text-anchor="middle" textLength="8.43" lengthAdjust="spacingAndGlyphs">0.3</text><text x="529.43" y="187.69" fill="#262626" stroke="#262626" text-anchor="middle" textLength="8.43" lengthAdjust="spacingAndGlyphs">0.2</text><text x="542.00" y="187.69" fill="#262626" stroke="#262626" text-anchor="middle" textLength="8.43" lengthAdjust="spacingAndGlyphs">0.3</text><text x="554.56" y="187.69" fill="#262626" stroke="#262626" text-anchor="middle" textLength="8.43" lengthAdjust="spacingAndGlyphs">0.3</text><text x="567.13" y="187.69" fill="#262626" stroke="#262626" text-anchor="middle" textLength="8.43" lengthAdjust="spacingAndGlyphs">0.1</text><text x="579.70" y="187.69" fill="#262626" stroke="#262626" text-anchor="middle" textLength="10.34" lengthAdjust="spacingAndGlyphs">-0.0</text><text x="604.84" y="187.69" fill="#262626" stroke="#262626" text-anchor="middle" textLength="10.34" lengthAdjust="spacingAndGlyphs">-0.1</text><text x="617.40" y="187.69" fill="#262626" stroke="#262626" text-anchor="middle" textLength="10.34" lengthAdjust="spacingAndGlyphs">-0.7</text><text x="629.97" y="187.69" fill="#262626" stroke="#262626" text-anchor="middle" textLength="10.34" lengthAdjust="spacingAndGlyphs">-0.6</text><text x="428.88" y="200.23" fill="#262626" stroke="#262626" text-anchor="middle" textLength="8.43" lengthAdjust="spacingAndGlyphs">0.2</text><text x="441.45" y="200.23" fill="#262626" stroke="#262626" text-anchor="middle" textLength="8.43" lengthAdjust="spacingAndGlyphs">0.2</text><text x="454.02" y="200.23" fill="#ffffff" stroke="#ffffff" text-anchor="middle" textLength="8.43" lengthAdjust="spacingAndGlyphs">1.9</text><text x="466.59" y="200.23" fill="#262626" stroke="#262626" text-anchor="middle" textLength="8.43" lengthAdjust="spacingAndGlyphs">0.6</text><text x="479.16" y="200.23" fill="#262626" stroke="#262626" text-anchor="middle" textLength="8.43" lengthAdjust="spacingAndGlyphs">0.7</text><text x="491.72" y="200.23" fill="#262626" stroke="#262626" text-anchor="middle" textLength="10.34" lengthAdjust="spacingAndGlyphs">-0.2</text><text x="504.29" y="200.23" fill="#262626" stroke="#262626" text-anchor="middle" textLength="8.43" lengthAdjust="spacingAndGlyphs">0.3</text><text x="516.86" y="200.23" fill="#262626" stroke="#262626" text-anchor="middle" textLength="8.43" lengthAdjust="spacingAndGlyphs">0.4</text><text x="529.43" y="200.23" fill="#262626" stroke="#262626" text-anchor="middle" textLength="8.43" lengthAdjust="spacingAndGlyphs">0.3</text><text x="542.00" y="200.23" fill="#262626" stroke="#262626" text-anchor="middle" textLength="8.43" lengthAdjust="spacingAndGlyphs">0.3</text><text x="554.56" y="200.23" fill="#262626" stroke="#262626" text-anchor="middle" textLength="8.43" lengthAdjust="spacingAndGlyphs">0.3</text><text x="567.13" y="200.23" fill="#262626" stroke="#262626" text-anchor="middle" textLength="8.43" lengthAdjust="spacingAndGlyphs">0.2</text><text x="579.70" y="200.23" fill="#262626" stroke="#262626" text-anchor="middle" textLength="8.43" lengthAdjust="spacingAndGlyphs">0.1</text><text x="592.27" y="200.23" fill="#262626" stroke="#262626" text-anchor="middle" textLength="8.43" lengthAdjust="spacingAndGlyphs">0.1</text><text x="617.40" y="200.23" fill="#262626" stroke="#262626" text-anchor="middle" textLength="10.34" lengthAdjust="spacingAndGlyphs">-0.5</text><text x="629.97" y="200.23" fill="#262626" stroke="#262626" text-anchor="middle" textLength="10.34" lengthAdjust="spacingAndGlyphs">-0.5</text><text x="428.88" y="212.77" fill="#262626" stroke="#262626" text-anchor="middle" textLength="8.43" lengthAdjust="spacingAndGlyphs">0.8</text><text x="441.45" y="212.77" fill="#262626" stroke="#262626" text-anchor="middle" textLength="8.43" lengthAdjust="spacingAndGlyphs">0.7</text><text x="454.02" y="212.77" fill="#ffffff" stroke="#ffffff" text-anchor="middle" textLength="8.43" lengthAdjust="spacingAndGlyphs">2.2</text><text x="466.59" y="212.77" fill="#ffffff" stroke="#ffffff" text-anchor="middle" textLength="8.43" lengthAdjust="spacingAndGlyphs">1.1</text><text x="479.16" y="212.77" fill="#ffffff" stroke="#ffffff" text-anchor="middle" textLength="8.43" lengthAdjust="spacingAndGlyphs">1.3</text><text x="491.72" y="212.77" fill="#262626" stroke="#262626" text-anchor="middle" textLength="8.43" lengthAdjust="spacingAndGlyphs">0.3</text><text x="504.29" y="212.77" fill="#262626" stroke="#262626" text-anchor="middle" textLength="8.43" lengthAdjust="spacingAndGlyphs">0.8</text><text x="516.86" y="212.77" fill="#262626" stroke="#262626" text-anchor="middle" textLength="8.43" lengthAdjust="spacingAndGlyphs">0.9</text><text x="529.43" y="212.77" fill="#262626" stroke="#262626" text-anchor="middle" textLength="8.43" lengthAdjust="spacingAndGlyphs">0.8</text><text x="542.00" y="212.77" fill="#262626" stroke="#262626" text-anchor="middle" textLength="8.43" lengthAdjust="spacingAndGlyphs">0.9</text><text x="554.56" y="212.77" fill="#262626" stroke="#262626" text-anchor="middle" textLength="8.43" lengthAdjust="spacingAndGlyphs">0.9</text><text x="567.13" y="212.77" fill="#262626" stroke="#262626" text-anchor="middle" textLength="8.43" lengthAdjust="spacingAndGlyphs">0.7</text><text x="579.70" y="212.77" fill="#262626" stroke="#262626" text-anchor="middle" textLength="8.43" lengthAdjust="spacingAndGlyphs">0.7</text><text x="592.27" y="212.77" fill="#262626" stroke="#262626" text-anchor="middle" textLength="8.43" lengthAdjust="spacingAndGlyphs">0.7</text><text x="604.84" y="212.77" fill="#262626" stroke="#262626" text-anchor="middle" textLength="8.43" lengthAdjust="spacingAndGlyphs">0.5</text><text x="629.97" y="212.77" fill="#262626" stroke="#262626" text-anchor="middle" textLength="8.43" lengthAdjust="spacingAndGlyphs">0.1</text><text x="428.88" y="225.31" fill="#262626" stroke="#262626" text-anchor="middle" textLength="8.43" lengthAdjust="spacingAndGlyphs">0.7</text><text x="441.45" y="225.31" fill="#262626" stroke="#262626" text-anchor="middle" textLength="8.43" lengthAdjust="spacingAndGlyphs">0.7</text><text x="454.02" y="225.31" fill="#ffffff" stroke="#ffffff" text-anchor="middle" textLength="8.43" lengthAdjust="spacingAndGlyphs">2.2</text><text x="466.59" y="225.31" fill="#ffffff" stroke="#ffffff" text-anchor="middle" textLength="8.43" lengthAdjust="spacingAndGlyphs">1.1</text><text x="479.16" y="225.31" fill="#ffffff" stroke="#ffffff" text-anchor="middle" textLength="8.43" lengthAdjust="spacingAndGlyphs">1.2</text><text x="491.72" y="225.31" fill="#262626" stroke="#262626" text-anchor="middle" textLength="8.43" lengthAdjust="spacingAndGlyphs">0.3</text><text x="504.29" y="225.31" fill="#262626" stroke="#262626" text-anchor="middle" textLength="8.43" lengthAdjust="spacingAndGlyphs">0.8</text><text x="516.86" y="225.31" fill="#262626" stroke="#262626" text-anchor="middle" textLength="8.43" lengthAdjust="spacingAndGlyphs">0.9</text><text x="529.43" y="225.31" fill="#262626" stroke="#262626" text-anchor="middle" textLength="8.43" lengthAdjust="spacingAndGlyphs">0.8</text><text x="542.00" y="225.31" fill="#262626" stroke="#262626" text-anchor="middle" textLength="8.43" lengthAdjust="spacingAndGlyphs">0.8</text><text x="554.56" y="225.31" fill="#262626" stroke="#262626" text-anchor="middle" textLength="8.43" lengthAdjust="spacingAndGlyphs">0.8</text><text x="567.13" y="225.31" fill="#262626" stroke="#262626" text-anchor="middle" textLength="8.43" lengthAdjust="spacingAndGlyphs">0.7</text><text x="579.70" y="225.31" fill="#262626" stroke="#262626" text-anchor="middle" textLength="8.43" lengthAdjust="spacingAndGlyphs">0.6</text><text x="592.27" y="225.31" fill="#262626" stroke="#262626" text-anchor="middle" textLength="8.43" lengthAdjust="spacingAndGlyphs">0.6</text><text x="604.84" y="225.31" fill="#262626" stroke="#262626" text-anchor="middle" textLength="8.43" lengthAdjust="spacingAndGlyphs">0.5</text><text x="617.40" y="225.31" fill="#262626" stroke="#262626" text-anchor="middle" textLength="10.34" lengthAdjust="spacingAndGlyphs">-0.1</text><line x1="422.60" y1="41.68" x2="636.26" y2="41.68" stroke="#000" stroke-width="1.1"/><line x1="447.74" y1="16.60" x2="447.74" y2="229.78" stroke="#000" stroke-width="1.1"/><line x1="422.60" y1="91.84" x2="636.26" y2="91.84" stroke="#000" stroke-width="1.1"/><line x1="498.01" y1="16.60" x2="498.01" y2="229.78" stroke="#000" stroke-width="1.1"/><line x1="422.60" y1="142.00" x2="636.26" y2="142.00" stroke="#000" stroke-width="1.1"/><line x1="548.28" y1="16.60" x2="548.28" y2="229.78" stroke="#000" stroke-width="1.1"/><line x1="422.60" y1="204.70" x2="636.26" y2="204.70" stroke="#000" stroke-width="1.1"/><line x1="611.12" y1="16.60" x2="611.12" y2="229.78" stroke="#000" stroke-width="1.1"/></g>
<g font-family='"Liberation Sans", sans-serif' font-size="6.0" fill="#262626" stroke="#262626" stroke-width="0.12"><line x1="420.73" y1="22.87" x2="422.60" y2="22.87" stroke="#262626" stroke-width="0.45"/><text x="418.86" y="24.87" text-anchor="end" textLength="27.97" lengthAdjust="spacingAndGlyphs">Basic CNN</text><line x1="420.73" y1="35.41" x2="422.60" y2="35.41" stroke="#262626" stroke-width="0.45"/><text x="418.86" y="37.41" text-anchor="end" textLength="45.74" lengthAdjust="spacingAndGlyphs">Prototypical CNN</text><line x1="420.73" y1="47.95" x2="422.60" y2="47.95" stroke="#262626" stroke-width="0.45"/><text x="418.86" y="49.95" text-anchor="end" textLength="49.97" lengthAdjust="spacingAndGlyphs">Softlabel (beta=4)</text><line x1="420.73" y1="60.49" x2="422.60" y2="60.49" stroke="#262626" stroke-width="0.45"/><text x="418.86" y="62.49" text-anchor="end" textLength="53.41" lengthAdjust="spacingAndGlyphs">Softlabel (beta=12)</text><line x1="420.73" y1="73.03" x2="422.60" y2="73.03" stroke="#262626" stroke-width="0.45"/><text x="418.86" y="75.03" text-anchor="end" textLength="64.48" lengthAdjust="spacingAndGlyphs">Hyperbolic-proto (fixed)</text><line x1="420.73" y1="85.57" x2="422.60" y2="85.57" stroke="#262626" stroke-width="0.45"/><text x="418.86" y="87.57" text-anchor="end" textLength="69.85" lengthAdjust="spacingAndGlyphs">Hyperbolic-proto (guided)</text><line x1="420.73" y1="98.11" x2="422.60" y2="98.11" stroke="#262626" stroke-width="0.45"/><text x="418.86" y="100.11" text-anchor="end" textLength="8.46" lengthAdjust="spacingAndGlyphs">MC</text><line x1="420.73" y1="110.65" x2="422.60" y2="110.65" stroke="#262626" stroke-width="0.45"/><text x="418.86" y="112.65" text-anchor="end" textLength="19.62" lengthAdjust="spacingAndGlyphs">Yolo-V2</text><line x1="420.73" y1="123.19" x2="422.60" y2="123.19" stroke="#262626" stroke-width="0.45"/><text x="418.86" y="125.19" text-anchor="end" textLength="45.35" lengthAdjust="spacingAndGlyphs">HXE (alpha=0.1)</text><line x1="420.73" y1="135.73" x2="422.60" y2="135.73" stroke="#262626" stroke-width="0.45"/><text x="418.86" y="137.73" text-anchor="end" textLength="45.35" lengthAdjust="spacingAndGlyphs">HXE (alpha=0.6)</text><line x1="420.73" y1="148.27" x2="422.60" y2="148.27" stroke="#262626" stroke-width="0.45"/><text x="418.86" y="150.27" text-anchor="end" textLength="40.23" lengthAdjust="spacingAndGlyphs">Multi-task CNN</text><line x1="420.73" y1="160.81" x2="422.60" y2="160.81" stroke="#262626" stroke-width="0.45"/><text x="418.86" y="162.81" text-anchor="end" textLength="32.87" lengthAdjust="spacingAndGlyphs">Chang et al.</text><line x1="420.73" y1="173.35" x2="422.60" y2="173.35" stroke="#262626" stroke-width="0.45"/><text x="418.86" y="175.35" text-anchor="end" textLength="10.90" lengthAdjust="spacingAndGlyphs">HAF</text><line x1="420.73" y1="185.89" x2="422.60" y2="185.89" stroke="#262626" stroke-width="0.45"/><text x="418.86" y="187.89" text-anchor="end" textLength="12.03" lengthAdjust="spacingAndGlyphs">DHC</text><line x1="420.73" y1="198.43" x2="422.60" y2="198.43" stroke="#262626" stroke-width="0.45"/><text x="418.86" y="200.43" text-anchor="end" textLength="45.87" lengthAdjust="spacingAndGlyphs">CNN-Transformer</text><line x1="420.73" y1="210.97" x2="422.60" y2="210.97" stroke="#262626" stroke-width="0.45"/><text x="418.86" y="212.97" text-anchor="end" textLength="14.83" lengthAdjust="spacingAndGlyphs">HPDT</text><line x1="420.73" y1="223.51" x2="422.60" y2="223.51" stroke="#262626" stroke-width="0.45"/><text x="418.86" y="225.51" text-anchor="end" textLength="34.88" lengthAdjust="spacingAndGlyphs">HPDT-guided</text><line x1="428.88" y1="229.78" x2="428.88" y2="231.65" stroke="#262626" stroke-width="0.45"/><text transform="translate(427.78,237.58) rotate(-45)" text-anchor="end" textLength="27.97" lengthAdjust="spacingAndGlyphs">Basic CNN</text><line x1="441.45" y1="229.78" x2="441.45" y2="231.65" stroke="#262626" stroke-width="0.45"/><text transform="translate(440.35,237.58) rotate(-45)" text-anchor="end" textLength="45.74" lengthAdjust="spacingAndGlyphs">Prototypical CNN</text><line x1="454.02" y1="229.78" x2="454.02" y2="231.65" stroke="#262626" stroke-width="0.45"/><text transform="translate(452.92,237.58) rotate(-45)" text-anchor="end" textLength="49.97" lengthAdjust="spacingAndGlyphs">Softlabel (beta=4)</text><line x1="466.59" y1="229.78" x2="466.59" y2="231.65" stroke="#262626" stroke-width="0.45"/><text transform="translate(465.49,237.58) rotate(-45)" text-anchor="end" textLength="53.41" lengthAdjust="spacingAndGlyphs">Softlabel (beta=12)</text><line x1="479.16" y1="229.78" x2="479.16" y2="231.65" stroke="#262626" stroke-width="0.45"/><text transform="translate(478.06,237.58) rotate(-45)" text-anchor="end" textLength="64.48" lengthAdjust="spacingAndGlyphs">Hyperbolic-proto (fixed)</text><line x1="491.72" y1="229.78" x2="491.72" y2="231.65" stroke="#262626" stroke-width="0.45"/><text transform="translate(490.62,237.58) rotate(-45)" text-anchor="end" textLength="69.85" lengthAdjust="spacingAndGlyphs">Hyperbolic-proto (guided)</text><line x1="504.29" y1="229.78" x2="504.29" y2="231.65" stroke="#262626" stroke-width="0.45"/><text transform="translate(503.19,237.58) rotate(-45)" text-anchor="end" textLength="8.46" lengthAdjust="spacingAndGlyphs">MC</text><line x1="516.86" y1="229.78" x2="516.86" y2="231.65" stroke="#262626" stroke-width="0.45"/><text transform="translate(515.76,237.58) rotate(-45)" text-anchor="end" textLength="19.62" lengthAdjust="spacingAndGlyphs">Yolo-V2</text><line x1="529.43" y1="229.78" x2="529.43" y2="231.65" stroke="#262626" stroke-width="0.45"/><text transform="translate(528.33,237.58) rotate(-45)" text-anchor="end" textLength="45.35" lengthAdjust="spacingAndGlyphs">HXE (alpha=0.1)</text><line x1="542.00" y1="229.78" x2="542.00" y2="231.65" stroke="#262626" stroke-width="0.45"/><text transform="translate(540.90,237.58) rotate(-45)" text-anchor="end" textLength="45.35" lengthAdjust="spacingAndGlyphs">HXE (alpha=0.6)</text><line x1="554.56" y1="229.78" x2="554.56" y2="231.65" stroke="#262626" stroke-width="0.45"/><text transform="translate(553.46,237.58) rotate(-45)" text-anchor="end" textLength="40.23" lengthAdjust="spacingAndGlyphs">Multi-task CNN</text><line x1="567.13" y1="229.78" x2="567.13" y2="231.65" stroke="#262626" stroke-width="0.45"/><text transform="translate(566.03,237.58) rotate(-45)" text-anchor="end" textLength="32.87" lengthAdjust="spacingAndGlyphs">Chang et al.</text><line x1="579.70" y1="229.78" x2="579.70" y2="231.65" stroke="#262626" stroke-width="0.45"/><text transform="translate(578.60,237.58) rotate(-45)" text-anchor="end" textLength="10.90" lengthAdjust="spacingAndGlyphs">HAF</text><line x1="592.27" y1="229.78" x2="592.27" y2="231.65" stroke="#262626" stroke-width="0.45"/><text transform="translate(591.17,237.58) rotate(-45)" text-anchor="end" textLength="12.03" lengthAdjust="spacingAndGlyphs">DHC</text><line x1="604.84" y1="229.78" x2="604.84" y2="231.65" stroke="#262626" stroke-width="0.45"/><text transform="translate(603.74,237.58) rotate(-45)" text-anchor="end" textLength="45.87" lengthAdjust="spacingAndGlyphs">CNN-Transformer</text><line x1="617.40" y1="229.78" x2="617.40" y2="231.65" stroke="#262626" stroke-width="0.45"/><text transform="translate(616.30,237.58) rotate(-45)" text-anchor="end" textLength="14.83" lengthAdjust="spacingAndGlyphs">HPDT</text><line x1="629.97" y1="229.78" x2="629.97" y2="231.65" stroke="#262626" stroke-width="0.45"/><text transform="translate(628.87,237.58) rotate(-45)" text-anchor="end" textLength="34.88" lengthAdjust="spacingAndGlyphs">HPDT-guided</text><text x="529.43" y="6.00" text-anchor="middle" font-size="7.0" textLength="140.97" lengthAdjust="spacingAndGlyphs">(b) Effect size for hierarchical F1 difference</text></g>
<g font-family='"Liberation Sans", sans-serif' font-size="6.0" fill="#262626" stroke="#262626" stroke-width="0.12"><rect x="649.80" y="15.30" width="10.50" height="215.60" fill="url(#cb1)" stroke="none"/><line x1="660.30" y1="222.13" x2="662.17" y2="222.13" stroke="#262626" stroke-width="0.45"/><text x="664.04" y="224.13" textLength="13.16" lengthAdjust="spacingAndGlyphs">−2.0</text><line x1="660.30" y1="197.49" x2="662.17" y2="197.49" stroke="#262626" stroke-width="0.45"/><text x="664.04" y="199.49" textLength="13.16" lengthAdjust="spacingAndGlyphs">−1.5</text><line x1="660.30" y1="172.85" x2="662.17" y2="172.85" stroke="#262626" stroke-width="0.45"/><text x="664.04" y="174.85" textLength="13.16" lengthAdjust="spacingAndGlyphs">−1.0</text><line x1="660.30" y1="148.21" x2="662.17" y2="148.21" stroke="#262626" stroke-width="0.45"/><text x="664.04" y="150.21" textLength="13.16" lengthAdjust="spacingAndGlyphs">−0.5</text><line x1="660.30" y1="123.57" x2="662.17" y2="123.57" stroke="#262626" stroke-width="0.45"/><text x="664.04" y="125.57" textLength="8.62" lengthAdjust="spacingAndGlyphs">0.0</text><line x1="660.30" y1="98.93" x2="662.17" y2="98.93" stroke="#262626" stroke-width="0.45"/><text x="664.04" y="100.93" textLength="8.62" lengthAdjust="spacingAndGlyphs">0.5</text><line x1="660.30" y1="74.29" x2="662.17" y2="74.29" stroke="#262626" stroke-width="0.45"/><text x="664.04" y="76.29" textLength="8.62" lengthAdjust="spacingAndGlyphs">1.0</text><line x1="660.30" y1="49.65" x2="662.17" y2="49.65" stroke="#262626" stroke-width="0.45"/><text x="664.04" y="51.65" textLength="8.62" lengthAdjust="spacingAndGlyphs">1.5</text><line x1="660.30" y1="25.01" x2="662.17" y2="25.01" stroke="#262626" stroke-width="0.45"/><text x="664.04" y="27.01" textLength="8.62" lengthAdjust="spacingAndGlyphs">2.0</text><text transform="translate(684.30,123.10) rotate(-90)" text-anchor="middle" textLength="28.45" lengthAdjust="spacingAndGlyphs">Effect Size</text></g>
<g font-family='"Liberation Sans", sans-serif' font-size="5.8" stroke-width="0.0"><rect x="86.67" y="306.20" width="12.62" height="12.59" fill="#e0ecf3"/><rect x="99.24" y="306.20" width="12.62" height="12.59" fill="#eb9980"/><rect x="111.80" y="306.20" width="12.62" height="12.59" fill="#f9f2ed"/><rect x="124.37" y="306.20" width="12.62" height="12.59" fill="#75b1d4"/><rect x="136.94" y="306.20" width="12.62" height="12.59" fill="#e8f0f5"/><rect x="149.51" y="306.20" width="12.62" height="12.59" fill="#d8e9f2"/><rect x="162.08" y="306.20" width="12.62" height="12.59" fill="#e8f0f5"/><rect x="174.64" y="306.20" width="12.62" height="12.59" fill="#e8f0f5"/><rect x="187.21" y="306.20" width="12.62" height="12.59" fill="#e0ecf3"/><rect x="199.78" y="306.20" width="12.62" height="12.59" fill="#e0ecf3"/><rect x="212.35" y="306.20" width="12.62" height="12.59" fill="#e0ecf3"/><rect x="224.92" y="306.20" width="12.62" height="12.59" fill="#d8e9f2"/><rect x="237.48" y="306.20" width="12.62" height="12.59" fill="#d8e9f2"/><rect x="250.05" y="306.20" width="12.62" height="12.59" fill="#e0ecf3"/><rect x="262.62" y="306.20" width="12.62" height="12.59" fill="#b8d9e9"/><rect x="275.19" y="306.20" width="12.62" height="12.59" fill="#75b1d4"/><rect x="74.10" y="318.74" width="12.62" height="12.59" fill="#fce6d9"/><rect x="99.24" y="318.74" width="12.62" height="12.59" fill="#dc7564"/><rect x="111.80" y="318.74" width="12.62" height="12.59" fill="#fce3d4"/><rect x="124.37" y="318.74" width="12.62" height="12.59" fill="#a5cfe4"/><rect x="136.94" y="318.74" width="12.62" height="12.59" fill="#f9f2ed"/><rect x="149.51" y="318.74" width="12.62" height="12.59" fill="#eff4f6"/><rect x="162.08" y="318.74" width="12.62" height="12.59" fill="#f9f2ed"/><rect x="174.64" y="318.74" width="12.62" height="12.59" fill="#f9f2ed"/><rect x="187.21" y="318.74" width="12.62" height="12.59" fill="#eff4f6"/><rect x="199.78" y="318.74" width="12.62" height="12.59" fill="#f7f8f8"/><rect x="212.35" y="318.74" width="12.62" height="12.59" fill="#f7f8f8"/><rect x="224.92" y="318.74" width="12.62" height="12.59" fill="#eff4f6"/><rect x="237.48" y="318.74" width="12.62" height="12.59" fill="#eff4f6"/><rect x="250.05" y="318.74" width="12.62" height="12.59" fill="#f7f8f8"/><rect x="262.62" y="318.74" width="12.62" height="12.59" fill="#d8e9f2"/><rect x="275.19" y="318.74" width="12.62" height="12.59" fill="#9ecbe1"/><rect x="74.10" y="331.28" width="12.62" height="12.59" fill="#85bcd9"/><rect x="86.67" y="331.28" width="12.62" height="12.59" fill="#5ca2cb"/><rect x="111.80" y="331.28" width="12.62" height="12.59" fill="#96c6df"/><rect x="124.37" y="331.28" width="12.62" height="12.59" fill="#27507e"/><rect x="136.94" y="331.28" width="12.62" height="12.59" fill="#75b1d4"/><rect x="149.51" y="331.28" width="12.62" height="12.59" fill="#5094c4"/><rect x="162.08" y="331.28" width="12.62" height="12.59" fill="#64a7ce"/><rect x="174.64" y="331.28" width="12.62" height="12.59" fill="#64a7ce"/><rect x="187.21" y="331.28" width="12.62" height="12.59" fill="#579dc9"/><rect x="199.78" y="331.28" width="12.62" height="12.59" fill="#579dc9"/><rect x="212.35" y="331.28" width="12.62" height="12.59" fill="#5ca2cb"/><rect x="224.92" y="331.28" width="12.62" height="12.59" fill="#5094c4"/><rect x="237.48" y="331.28" width="12.62" height="12.59" fill="#5498c6"/><rect x="250.05" y="331.28" width="12.62" height="12.59" fill="#579dc9"/><rect x="262.62" y="331.28" width="12.62" height="12.59" fill="#3f7cb8"/><rect x="275.19" y="331.28" width="12.62" height="12.59" fill="#244b77"/><rect x="74.10" y="343.82" width="12.62" height="12.59" fill="#eff4f6"/><rect x="86.67" y="343.82" width="12.62" height="12.59" fill="#dcebf3"/><rect x="99.24" y="343.82" width="12.62" height="12.59" fill="#f2a78b"/><rect x="124.37" y="343.82" width="12.62" height="12.59" fill="#64a7ce"/><rect x="136.94" y="343.82" width="12.62" height="12.59" fill="#e4eef4"/><rect x="149.51" y="343.82" width="12.62" height="12.59" fill="#d8e9f2"/><rect x="162.08" y="343.82" width="12.62" height="12.59" fill="#e0ecf3"/><rect x="174.64" y="343.82" width="12.62" height="12.59" fill="#e0ecf3"/><rect x="187.21" y="343.82" width="12.62" height="12.59" fill="#d8e9f2"/><rect x="199.78" y="343.82" width="12.62" height="12.59" fill="#d8e9f2"/><rect x="212.35" y="343.82" width="12.62" height="12.59" fill="#d8e9f2"/><rect x="224.92" y="343.82" width="12.62" height="12.59" fill="#cce3ef"/><rect x="237.48" y="343.82" width="12.62" height="12.59" fill="#d8e9f2"/><rect x="250.05" y="343.82" width="12.62" height="12.59" fill="#d8e9f2"/><rect x="262.62" y="343.82" width="12.62" height="12.59" fill="#abd2e5"/><rect x="275.19" y="343.82" width="12.62" height="12.59" fill="#64a7ce"/><rect x="74.10" y="356.36" width="12.62" height="12.59" fill="#e58b75"/><rect x="86.67" y="356.36" width="12.62" height="12.59" fill="#f6b497"/><rect x="99.24" y="356.36" width="12.62" height="12.59" fill="#84223c"/><rect x="111.80" y="356.36" width="12.62" height="12.59" fill="#df7d6a"/><rect x="136.94" y="356.36" width="12.62" height="12.59" fill="#f2a78b"/><rect x="149.51" y="356.36" width="12.62" height="12.59" fill="#f8c0a5"/><rect x="162.08" y="356.36" width="12.62" height="12.59" fill="#f5af90"/><rect x="174.64" y="356.36" width="12.62" height="12.59" fill="#f2a78b"/><rect x="187.21" y="356.36" width="12.62" height="12.59" fill="#f8c0a5"/><rect x="199.78" y="356.36" width="12.62" height="12.59" fill="#f7ba9e"/><rect x="212.35" y="356.36" width="12.62" height="12.59" fill="#f7ba9e"/><rect x="224.92" y="356.36" width="12.62" height="12.59" fill="#f8c0a5"/><rect x="237.48" y="356.36" width="12.62" height="12.59" fill="#f8c0a5"/><rect x="250.05" y="356.36" width="12.62" height="12.59" fill="#f8c0a5"/><rect x="262.62" y="356.36" width="12.62" height="12.59" fill="#fde0cf"/><rect x="275.19" y="356.36" width="12.62" height="12.59" fill="#eff4f6"/><rect x="74.10" y="368.90" width="12.62" height="12.59" fill="#fbece3"/><rect x="86.67" y="368.90" width="12.62" height="12.59" fill="#eff4f6"/><rect x="99.24" y="368.90" width="12.62" height="12.59" fill="#e58b75"/><rect x="111.80" y="368.90" width="12.62" height="12.59" fill="#fbe9de"/><rect x="124.37" y="368.90" width="12.62" height="12.59" fill="#96c6df"/><rect x="149.51" y="368.90" width="12.62" height="12.59" fill="#e8f0f5"/><rect x="162.08" y="368.90" width="12.62" height="12.59" fill="#f7f8f8"/><rect x="174.64" y="368.90" width="12.62" height="12.59" fill="#f7f8f8"/><rect x="187.21" y="368.90" width="12.62" height="12.59" fill="#e8f0f5"/><rect x="199.78" y="368.90" width="12.62" height="12.59" fill="#eff4f6"/><rect x="212.35" y="368.90" width="12.62" height="12.59" fill="#eff4f6"/><rect x="224.92" y="368.90" width="12.62" height="12.59" fill="#e8f0f5"/><rect x="237.48" y="368.90" width="12.62" height="12.59" fill="#e8f0f5"/><rect x="250.05" y="368.90" width="12.62" height="12.59" fill="#eff4f6"/><rect x="262.62" y="368.90" width="12.62" height="12.59" fill="#cce3ef"/><rect x="275.19" y="368.90" width="12.62" height="12.59" fill="#8dc1dc"/><rect x="74.10" y="381.44" width="12.62" height="12.59" fill="#fde0cf"/><rect x="86.67" y="381.44" width="12.62" height="12.59" fill="#f9f2ed"/><rect x="99.24" y="381.44" width="12.62" height="12.59" fill="#d15f59"/><rect x="111.80" y="381.44" width="12.62" height="12.59" fill="#fde0cf"/><rect x="124.37" y="381.44" width="12.62" height="12.59" fill="#b2d5e7"/><rect x="136.94" y="381.44" width="12.62" height="12.59" fill="#fbece3"/><rect x="162.08" y="381.44" width="12.62" height="12.59" fill="#faefe8"/><rect x="174.64" y="381.44" width="12.62" height="12.59" fill="#faefe8"/><rect x="187.21" y="381.44" width="12.62" height="12.59" fill="#f7f8f8"/><rect x="199.78" y="381.44" width="12.62" height="12.59" fill="#f7f8f8"/><rect x="212.35" y="381.44" width="12.62" height="12.59" fill="#f9f2ed"/><rect x="224.92" y="381.44" width="12.62" height="12.59" fill="#eff4f6"/><rect x="237.48" y="381.44" width="12.62" height="12.59" fill="#f7f8f8"/><rect x="250.05" y="381.44" width="12.62" height="12.59" fill="#f7f8f8"/><rect x="262.62" y="381.44" width="12.62" height="12.59" fill="#e0ecf3"/><rect x="275.19" y="381.44" width="12.62" height="12.59" fill="#a5cfe4"/><rect x="74.10" y="393.98" width="12.62" height="12.59" fill="#fbece3"/><rect x="86.67" y="393.98" width="12.62" height="12.59" fill="#eff4f6"/><rect x="99.24" y="393.98" width="12.62" height="12.59" fill="#df7d6a"/><rect x="111.80" y="393.98" width="12.62" height="12.59" fill="#fce6d9"/><rect x="124.37" y="393.98" width="12.62" height="12.59" fill="#9ecbe1"/><rect x="136.94" y="393.98" width="12.62" height="12.59" fill="#f7f8f8"/><rect x="149.51" y="393.98" width="12.62" height="12.59" fill="#ecf2f6"/><rect x="174.64" y="393.98" width="12.62" height="12.59" fill="#f7f8f8"/><rect x="187.21" y="393.98" width="12.62" height="12.59" fill="#eff4f6"/><rect x="199.78" y="393.98" width="12.62" height="12.59" fill="#eff4f6"/><rect x="212.35" y="393.98" width="12.62" height="12.59" fill="#eff4f6"/><rect x="224.92" y="393.98" width="12.62" height="12.59" fill="#e8f0f5"/><rect x="237.48" y="393.98" width="12.62" height="12.59" fill="#eff4f6"/><rect x="250.05" y="393.98" width="12.62" height="12.59" fill="#eff4f6"/><rect x="262.62" y="393.98" width="12.62" height="12.59" fill="#d8e9f2"/><rect x="275.19" y="393.98" width="12.62" height="12.59" fill="#8dc1dc"/><rect x="74.10" y="406.52" width="12.62" height="12.59" fill="#fbece3"/><rect x="86.67" y="406.52" width="12.62" height="12.59" fill="#eff4f6"/><rect x="99.24" y="406.52" width="12.62" height="12.59" fill="#df7d6a"/><rect x="111.80" y="406.52" width="12.62" height="12.59" fill="#fce6d9"/><rect x="124.37" y="406.52" width="12.62" height="12.59" fill="#96c6df"/><rect x="136.94" y="406.52" width="12.62" height="12.59" fill="#f7f8f8"/><rect x="149.51" y="406.52" width="12.62" height="12.59" fill="#ecf2f6"/><rect x="162.08" y="406.52" width="12.62" height="12.59" fill="#f7f8f8"/><rect x="187.21" y="406.52" width="12.62" height="12.59" fill="#eff4f6"/><rect x="199.78" y="406.52" width="12.62" height="12.59" fill="#eff4f6"/><rect x="212.35" y="406.52" width="12.62" height="12.59" fill="#eff4f6"/><rect x="224.92" y="406.52" width="12.62" height="12.59" fill="#e8f0f5"/><rect x="237.48" y="406.52" width="12.62" height="12.59" fill="#eff4f6"/><rect x="250.05" y="406.52" width="12.62" height="12.59" fill="#eff4f6"/><rect x="262.62" y="406.52" width="12.62" height="12.59" fill="#d2e6f1"/><rect x="275.19" y="406.52" width="12.62" height="12.59" fill="#96c6df"/><rect x="74.10" y="419.06" width="12.62" height="12.59" fill="#fce6d9"/><rect x="86.67" y="419.06" width="12.62" height="12.59" fill="#f9f2ed"/><rect x="99.24" y="419.06" width="12.62" height="12.59" fill="#d86e60"/><rect x="111.80" y="419.06" width="12.62" height="12.59" fill="#fde0cf"/><rect x="124.37" y="419.06" width="12.62" height="12.59" fill="#b2d5e7"/><rect x="136.94" y="419.06" width="12.62" height="12.59" fill="#fbece3"/><rect x="149.51" y="419.06" width="12.62" height="12.59" fill="#f7f8f8"/><rect x="162.08" y="419.06" width="12.62" height="12.59" fill="#f9f2ed"/><rect x="174.64" y="419.06" width="12.62" height="12.59" fill="#f9f2ed"/><rect x="199.78" y="419.06" width="12.62" height="12.59" fill="#f7f8f8"/><rect x="212.35" y="419.06" width="12.62" height="12.59" fill="#f7f8f8"/><rect x="224.92" y="419.06" width="12.62" height="12.59" fill="#eff4f6"/><rect x="237.48" y="419.06" width="12.62" height="12.59" fill="#f7f8f8"/><rect x="250.05" y="419.06" width="12.62" height="12.59" fill="#f7f8f8"/><rect x="262.62" y="419.06" width="12.62" height="12.59" fill="#e0ecf3"/><rect x="275.19" y="419.06" width="12.62" height="12.59" fill="#a5cfe4"/><rect x="74.10" y="431.60" width="12.62" height="12.59" fill="#fce6d9"/><rect x="86.67" y="431.60" width="12.62" height="12.59" fill="#f7f8f8"/><rect x="99.24" y="431.60" width="12.62" height="12.59" fill="#d86e60"/><rect x="111.80" y="431.60" width="12.62" height="12.59" fill="#fde0cf"/><rect x="124.37" y="431.60" width="12.62" height="12.59" fill="#abd2e5"/><rect x="136.94" y="431.60" width="12.62" height="12.59" fill="#f9f2ed"/><rect x="149.51" y="431.60" width="12.62" height="12.59" fill="#f7f8f8"/><rect x="162.08" y="431.60" width="12.62" height="12.59" fill="#f9f2ed"/><rect x="174.64" y="431.60" width="12.62" height="12.59" fill="#f9f2ed"/><rect x="187.21" y="431.60" width="12.62" height="12.59" fill="#f7f8f8"/><rect x="212.35" y="431.60" width="12.62" height="12.59" fill="#f7f8f8"/><rect x="224.92" y="431.60" width="12.62" height="12.59" fill="#eff4f6"/><rect x="237.48" y="431.60" width="12.62" height="12.59" fill="#f7f8f8"/><rect x="250.05" y="431.60" width="12.62" height="12.59" fill="#f7f8f8"/><rect x="262.62" y="431.60" width="12.62" height="12.59" fill="#e0ecf3"/><rect x="275.19" y="431.60" width="12.62" height="12.59" fill="#a5cfe4"/><rect x="74.10" y="444.14" width="12.62" height="12.59" fill="#fce6d9"/><rect x="86.67" y="444.14" width="12.62" height="12.59" fill="#f7f8f8"/><rect x="99.24" y="444.14" width="12.62" height="12.59" fill="#dc7564"/><rect x="111.80" y="444.14" width="12.62" height="12.59" fill="#fde0cf"/><rect x="124.37" y="444.14" width="12.62" height="12.59" fill="#abd2e5"/><rect x="136.94" y="444.14" width="12.62" height="12.59" fill="#f9f2ed"/><rect x="149.51" y="444.14" width="12.62" height="12.59" fill="#eff4f6"/><rect x="162.08" y="444.14" width="12.62" height="12.59" fill="#f9f2ed"/><rect x="174.64" y="444.14" width="12.62" height="12.59" fill="#f9f2ed"/><rect x="187.21" y="444.14" width="12.62" height="12.59" fill="#f7f8f8"/><rect x="199.78" y="444.14" width="12.62" height="12.59" fill="#f7f8f8"/><rect x="224.92" y="444.14" width="12.62" height="12.59" fill="#eff4f6"/><rect x="237.48" y="444.14" width="12.62" height="12.59" fill="#eff4f6"/><rect x="250.05" y="444.14" width="12.62" height="12.59" fill="#f7f8f8"/><rect x="262.62" y="444.14" width="12.62" height="12.59" fill="#d8e9f2"/><rect x="275.19" y="444.14" width="12.62" height="12.59" fill="#9ecbe1"/><rect x="74.10" y="456.68" width="12.62" height="12.59" fill="#fde0cf"/><rect x="86.67" y="456.68" width="12.62" height="12.59" fill="#f9f2ed"/><rect x="99.24" y="456.68" width="12.62" height="12.59" fill="#d15f59"/><rect x="111.80" y="456.68" width="12.62" height="12.59" fill="#fcd6c2"/><rect x="124.37" y="456.68" width="12.62" height="12.59" fill="#b2d5e7"/><rect x="136.94" y="456.68" width="12.62" height="12.59" fill="#fbece3"/><rect x="149.51" y="456.68" width="12.62" height="12.59" fill="#f9f2ed"/><rect x="162.08" y="456.68" width="12.62" height="12.59" fill="#fbece3"/><rect x="174.64" y="456.68" width="12.62" height="12.59" fill="#fbece3"/><rect x="187.21" y="456.68" width="12.62" height="12.59" fill="#f9f2ed"/><rect x="199.78" y="456.68" width="12.62" height="12.59" fill="#f9f2ed"/><rect x="212.35" y="456.68" width="12.62" height="12.59" fill="#f9f2ed"/><rect x="237.48" y="456.68" width="12.62" height="12.59" fill="#f9f2ed"/><rect x="250.05" y="456.68" width="12.62" height="12.59" fill="#f9f2ed"/><rect x="262.62" y="456.68" width="12.62" height="12.59" fill="#e8f0f5"/><rect x="275.19" y="456.68" width="12.62" height="12.59" fill="#b2d5e7"/><rect x="74.10" y="469.22" width="12.62" height="12.59" fill="#fde0cf"/><rect x="86.67" y="469.22" width="12.62" height="12.59" fill="#f9f2ed"/><rect x="99.24" y="469.22" width="12.62" height="12.59" fill="#d5675c"/><rect x="111.80" y="469.22" width="12.62" height="12.59" fill="#fde0cf"/><rect x="124.37" y="469.22" width="12.62" height="12.59" fill="#b2d5e7"/><rect x="136.94" y="469.22" width="12.62" height="12.59" fill="#fbece3"/><rect x="149.51" y="469.22" width="12.62" height="12.59" fill="#f7f8f8"/><rect x="162.08" y="469.22" width="12.62" height="12.59" fill="#f9f2ed"/><rect x="174.64" y="469.22" width="12.62" height="12.59" fill="#f9f2ed"/><rect x="187.21" y="469.22" width="12.62" height="12.59" fill="#f7f8f8"/><rect x="199.78" y="469.22" width="12.62" height="12.59" fill="#f7f8f8"/><rect x="212.35" y="469.22" width="12.62" height="12.59" fill="#f9f2ed"/><rect x="224.92" y="469.22" width="12.62" height="12.59" fill="#eff4f6"/><rect x="250.05" y="469.22" width="12.62" height="12.59" fill="#f7f8f8"/><rect x="262.62" y="469.22" width="12.62" height="12.59" fill="#e0ecf3"/><rect x="275.19" y="469.22" width="12.62" height="12.59" fill="#a5cfe4"/><rect x="74.10" y="481.76" width="12.62" height="12.59" fill="#fce6d9"/><rect x="86.67" y="481.76" width="12.62" height="12.59" fill="#f7f8f8"/><rect x="99.24" y="481.76" width="12.62" height="12.59" fill="#d86e60"/><rect x="111.80" y="481.76" width="12.62" height="12.59" fill="#fde0cf"/><rect x="124.37" y="481.76" width="12.62" height="12.59" fill="#b2d5e7"/><rect x="136.94" y="481.76" width="12.62" height="12.59" fill="#f9f2ed"/><rect x="149.51" y="481.76" width="12.62" height="12.59" fill="#f7f8f8"/><rect x="162.08" y="481.76" width="12.62" height="12.59" fill="#f9f2ed"/><rect x="174.64" y="481.76" width="12.62" height="12.59" fill="#f9f2ed"/><rect x="187.21" y="481.76" width="12.62" height="12.59" fill="#f7f8f8"/><rect x="199.78" y="481.76" width="12.62" height="12.59" fill="#f7f8f8"/><rect x="212.35" y="481.76" width="12.62" height="12.59" fill="#f7f8f8"/><rect x="224.92" y="481.76" width="12.62" height="12.59" fill="#eff4f6"/><rect x="237.48" y="481.76" width="12.62" height="12.59" fill="#f7f8f8"/><rect x="262.62" y="481.76" width="12.62" height="12.59" fill="#e0ecf3"/><rect x="275.19" y="481.76" width="12.62" height="12.59" fill="#a5cfe4"/><rect x="74.10" y="494.30" width="12.62" height="12.59" fill="#f9c5ac"/><rect x="86.67" y="494.30" width="12.62" height="12.59" fill="#fde0cf"/><rect x="99.24" y="494.30" width="12.62" height="12.59" fill="#be3a47"/><rect x="111.80" y="494.30" width="12.62" height="12.59" fill="#f7ba9e"/><rect x="124.37" y="494.30" width="12.62" height="12.59" fill="#d8e9f2"/><rect x="136.94" y="494.30" width="12.62" height="12.59" fill="#fcd6c2"/><rect x="149.51" y="494.30" width="12.62" height="12.59" fill="#fce6d9"/><rect x="162.08" y="494.30" width="12.62" height="12.59" fill="#fde0cf"/><rect x="174.64" y="494.30" width="12.62" height="12.59" fill="#fddcc9"/><rect x="187.21" y="494.30" width="12.62" height="12.59" fill="#fce6d9"/><rect x="199.78" y="494.30" width="12.62" height="12.59" fill="#fce6d9"/><rect x="212.35" y="494.30" width="12.62" height="12.59" fill="#fde0cf"/><rect x="224.92" y="494.30" width="12.62" height="12.59" fill="#fbece3"/><rect x="237.48" y="494.30" width="12.62" height="12.59" fill="#fce6d9"/><rect x="250.05" y="494.30" width="12.62" height="12.59" fill="#fce6d9"/><rect x="275.19" y="494.30" width="12.62" height="12.59" fill="#cce3ef"/><rect x="74.10" y="506.84" width="12.62" height="12.59" fill="#e58b75"/><rect x="86.67" y="506.84" width="12.62" height="12.59" fill="#f5af90"/><rect x="99.24" y="506.84" width="12.62" height="12.59" fill="#7c1f3a"/><rect x="111.80" y="506.84" width="12.62" height="12.59" fill="#df7d6a"/><rect x="124.37" y="506.84" width="12.62" height="12.59" fill="#f9f2ed"/><rect x="136.94" y="506.84" width="12.62" height="12.59" fill="#efa085"/><rect x="149.51" y="506.84" width="12.62" height="12.59" fill="#f6b497"/><rect x="162.08" y="506.84" width="12.62" height="12.59" fill="#efa085"/><rect x="174.64" y="506.84" width="12.62" height="12.59" fill="#f2a78b"/><rect x="187.21" y="506.84" width="12.62" height="12.59" fill="#f6b497"/><rect x="199.78" y="506.84" width="12.62" height="12.59" fill="#f6b497"/><rect x="212.35" y="506.84" width="12.62" height="12.59" fill="#f5af90"/><rect x="224.92" y="506.84" width="12.62" height="12.59" fill="#f8c0a5"/><rect x="237.48" y="506.84" width="12.62" height="12.59" fill="#f6b497"/><rect x="250.05" y="506.84" width="12.62" height="12.59" fill="#f6b497"/><rect x="262.62" y="506.84" width="12.62" height="12.59" fill="#fcd6c2"/><text x="92.95" y="314.27" fill="#262626" stroke="#262626" text-anchor="middle" textLength="8.43" lengthAdjust="spacingAndGlyphs">0.3</text><text x="105.52" y="314.27" fill="#ffffff" stroke="#ffffff" text-anchor="middle" textLength="10.34" lengthAdjust="spacingAndGlyphs">-1.0</text><text x="118.09" y="314.27" fill="#262626" stroke="#262626" text-anchor="middle" textLength="10.34" lengthAdjust="spacingAndGlyphs">-0.1</text><text x="130.66" y="314.27" fill="#ffffff" stroke="#ffffff" text-anchor="middle" textLength="8.43" lengthAdjust="spacingAndGlyphs">1.1</text><text x="143.22" y="314.27" fill="#262626" stroke="#262626" text-anchor="middle" textLength="8.43" lengthAdjust="spacingAndGlyphs">0.2</text><text x="155.79" y="314.27" fill="#262626" stroke="#262626" text-anchor="middle" textLength="8.43" lengthAdjust="spacingAndGlyphs">0.4</text><text x="168.36" y="314.27" fill="#262626" stroke="#262626" text-anchor="middle" textLength="8.43" lengthAdjust="spacingAndGlyphs">0.2</text><text x="180.93" y="314.27" fill="#262626" stroke="#262626" text-anchor="middle" textLength="8.43" lengthAdjust="spacingAndGlyphs">0.2</text><text x="193.50" y="314.27" fill="#262626" stroke="#262626" text-anchor="middle" textLength="8.43" lengthAdjust="spacingAndGlyphs">0.3</text><text x="206.06" y="314.27" fill="#262626" stroke="#262626" text-anchor="middle" textLength="8.43" lengthAdjust="spacingAndGlyphs">0.3</text><text x="218.63" y="314.27" fill="#262626" stroke="#262626" text-anchor="middle" textLength="8.43" lengthAdjust="spacingAndGlyphs">0.3</text><text x="231.20" y="314.27" fill="#262626" stroke="#262626" text-anchor="middle" textLength="8.43" lengthAdjust="spacingAndGlyphs">0.4</text><text x="243.77" y="314.27" fill="#262626" stroke="#262626" text-anchor="middle" textLength="8.43" lengthAdjust="spacingAndGlyphs">0.4</text><text x="256.34" y="314.27" fill="#262626" stroke="#262626" text-anchor="middle" textLength="8.43" lengthAdjust="spacingAndGlyphs">0.3</text><text x="268.90" y="314.27" fill="#262626" stroke="#262626" text-anchor="middle" textLength="8.43" lengthAdjust="spacingAndGlyphs">0.6</text><text x="281.47" y="314.27" fill="#ffffff" stroke="#ffffff" text-anchor="middle" textLength="8.43" lengthAdjust="spacingAndGlyphs">1.1</text><text x="80.38" y="326.81" fill="#262626" stroke="#262626" text-anchor="middle" textLength="10.34" lengthAdjust="spacingAndGlyphs">-0.3</text><text x="105.52" y="326.81" fill="#ffffff" stroke="#ffffff" text-anchor="middle" textLength="10.34" lengthAdjust="spacingAndGlyphs">-1.3</text><text x="118.09" y="326.81" fill="#262626" stroke="#262626" text-anchor="middle" textLength="10.34" lengthAdjust="spacingAndGlyphs">-0.4</text><text x="130.66" y="326.81" fill="#262626" stroke="#262626" text-anchor="middle" textLength="8.43" lengthAdjust="spacingAndGlyphs">0.8</text><text x="143.22" y="326.81" fill="#262626" stroke="#262626" text-anchor="middle" textLength="10.34" lengthAdjust="spacingAndGlyphs">-0.1</text><text x="155.79" y="326.81" fill="#262626" stroke="#262626" text-anchor="middle" textLength="8.43" lengthAdjust="spacingAndGlyphs">0.1</text><text x="168.36" y="326.81" fill="#262626" stroke="#262626" text-anchor="middle" textLength="10.34" lengthAdjust="spacingAndGlyphs">-0.1</text><text x="180.93" y="326.81" fill="#262626" stroke="#262626" text-anchor="middle" textLength="10.34" lengthAdjust="spacingAndGlyphs">-0.1</text><text x="193.50" y="326.81" fill="#262626" stroke="#262626" text-anchor="middle" textLength="8.43" lengthAdjust="spacingAndGlyphs">0.1</text><text x="206.06" y="326.81" fill="#262626" stroke="#262626" text-anchor="middle" textLength="8.43" lengthAdjust="spacingAndGlyphs">0.0</text><text x="218.63" y="326.81" fill="#262626" stroke="#262626" text-anchor="middle" textLength="8.43" lengthAdjust="spacingAndGlyphs">0.0</text><text x="231.20" y="326.81" fill="#262626" stroke="#262626" text-anchor="middle" textLength="8.43" lengthAdjust="spacingAndGlyphs">0.1</text><text x="243.77" y="326.81" fill="#262626" stroke="#262626" text-anchor="middle" textLength="8.43" lengthAdjust="spacingAndGlyphs">0.1</text><text x="256.34" y="326.81" fill="#262626" stroke="#262626" text-anchor="middle" textLength="8.43" lengthAdjust="spacingAndGlyphs">0.0</text><text x="268.90" y="326.81" fill="#262626" stroke="#262626" text-anchor="middle" textLength="8.43" lengthAdjust="spacingAndGlyphs">0.4</text><text x="281.47" y="326.81" fill="#262626" stroke="#262626" text-anchor="middle" textLength="8.43" lengthAdjust="spacingAndGlyphs">0.9</text><text x="80.38" y="339.35" fill="#262626" stroke="#262626" text-anchor="middle" textLength="8.43" lengthAdjust="spacingAndGlyphs">1.0</text><text x="92.95" y="339.35" fill="#ffffff" stroke="#ffffff" text-anchor="middle" textLength="8.43" lengthAdjust="spacingAndGlyphs">1.2</text><text x="118.09" y="339.35" fill="#262626" stroke="#262626" text-anchor="middle" textLength="8.43" lengthAdjust="spacingAndGlyphs">0.9</text><text x="130.66" y="339.35" fill="#ffffff" stroke="#ffffff" text-anchor="middle" textLength="8.43" lengthAdjust="spacingAndGlyphs">2.1</text><text x="143.22" y="339.35" fill="#ffffff" stroke="#ffffff" text-anchor="middle" textLength="8.43" lengthAdjust="spacingAndGlyphs">1.1</text><text x="155.79" y="339.35" fill="#ffffff" stroke="#ffffff" text-anchor="middle" textLength="8.43" lengthAdjust="spacingAndGlyphs">1.4</text><text x="168.36" y="339.35" fill="#ffffff" stroke="#ffffff" text-anchor="middle" textLength="8.43" lengthAdjust="spacingAndGlyphs">1.2</text><text x="180.93" y="339.35" fill="#ffffff" stroke="#ffffff" text-anchor="middle" textLength="8.43" lengthAdjust="spacingAndGlyphs">1.2</text><text x="193.50" y="339.35" fill="#ffffff" stroke="#ffffff" text-anchor="middle" textLength="8.43" lengthAdjust="spacingAndGlyphs">1.3</text><text x="206.06" y="339.35" fill="#ffffff" stroke="#ffffff" text-anchor="middle" textLength="8.43" lengthAdjust="spacingAndGlyphs">1.3</text><text x="218.63" y="339.35" fill="#ffffff" stroke="#ffffff" text-anchor="middle" textLength="8.43" lengthAdjust="spacingAndGlyphs">1.3</text><text x="231.20" y="339.35" fill="#ffffff" stroke="#ffffff" text-anchor="middle" textLength="8.43" lengthAdjust="spacingAndGlyphs">1.4</text><text x="243.77" y="339.35" fill="#ffffff" stroke="#ffffff" text-anchor="middle" textLength="8.43" lengthAdjust="spacingAndGlyphs">1.4</text><text x="256.34" y="339.35" fill="#ffffff" stroke="#ffffff" text-anchor="middle" textLength="8.43" lengthAdjust="spacingAndGlyphs">1.3</text><text x="268.90" y="339.35" fill="#ffffff" stroke="#ffffff" text-anchor="middle" textLength="8.43" lengthAdjust="spacingAndGlyphs">1.6</text><text x="281.47" y="339.35" fill="#ffffff" stroke="#ffffff" text-anchor="middle" textLength="8.43" lengthAdjust="spacingAndGlyphs">2.1</text><text x="80.38" y="351.89" fill="#262626" stroke="#262626" text-anchor="middle" textLength="8.43" lengthAdjust="spacingAndGlyphs">0.1</text><text x="92.95" y="351.89" fill="#262626" stroke="#262626" text-anchor="middle" textLength="8.43" lengthAdjust="spacingAndGlyphs">0.3</text><text x="105.52" y="351.89" fill="#262626" stroke="#262626" text-anchor="middle" textLength="10.34" lengthAdjust="spacingAndGlyphs">-0.9</text><text x="130.66" y="351.89" fill="#ffffff" stroke="#ffffff" text-anchor="middle" textLength="8.43" lengthAdjust="spacingAndGlyphs">1.2</text><text x="143.22" y="351.89" fill="#262626" stroke="#262626" text-anchor="middle" textLength="8.43" lengthAdjust="spacingAndGlyphs">0.3</text><text x="155.79" y="351.89" fill="#262626" stroke="#262626" text-anchor="middle" textLength="8.43" lengthAdjust="spacingAndGlyphs">0.4</text><text x="168.36" y="351.89" fill="#262626" stroke="#262626" text-anchor="middle" textLength="8.43" lengthAdjust="spacingAndGlyphs">0.3</text><text x="180.93" y="351.89" fill="#262626" stroke="#262626" text-anchor="middle" textLength="8.43" lengthAdjust="spacingAndGlyphs">0.3</text><text x="193.50" y="351.89" fill="#262626" stroke="#262626" text-anchor="middle" textLength="8.43" lengthAdjust="spacingAndGlyphs">0.4</text><text x="206.06" y="351.89" fill="#262626" stroke="#262626" text-anchor="middle" textLength="8.43" lengthAdjust="spacingAndGlyphs">0.4</text><text x="218.63" y="351.89" fill="#262626" stroke="#262626" text-anchor="middle" textLength="8.43" lengthAdjust="spacingAndGlyphs">0.4</text><text x="231.20" y="351.89" fill="#262626" stroke="#262626" text-anchor="middle" textLength="8.43" lengthAdjust="spacingAndGlyphs">0.5</text><text x="243.77" y="351.89" fill="#262626" stroke="#262626" text-anchor="middle" textLength="8.43" lengthAdjust="spacingAndGlyphs">0.4</text><text x="256.34" y="351.89" fill="#262626" stroke="#262626" text-anchor="middle" textLength="8.43" lengthAdjust="spacingAndGlyphs">0.4</text><text x="268.90" y="351.89" fill="#262626" stroke="#262626" text-anchor="middle" textLength="8.43" lengthAdjust="spacingAndGlyphs">0.7</text><text x="281.47" y="351.89" fill="#ffffff" stroke="#ffffff" text-anchor="middle" textLength="8.43" lengthAdjust="spacingAndGlyphs">1.2</text><text x="80.38" y="364.43" fill="#ffffff" stroke="#ffffff" text-anchor="middle" textLength="10.34" lengthAdjust="spacingAndGlyphs">-1.1</text><text x="92.95" y="364.43" fill="#262626" stroke="#262626" text-anchor="middle" textLength="10.34" lengthAdjust="spacingAndGlyphs">-0.8</text><text x="105.52" y="364.43" fill="#ffffff" stroke="#ffffff" text-anchor="middle" textLength="10.34" lengthAdjust="spacingAndGlyphs">-2.0</text><text x="118.09" y="364.43" fill="#ffffff" stroke="#ffffff" text-anchor="middle" textLength="10.34" lengthAdjust="spacingAndGlyphs">-1.2</text><text x="143.22" y="364.43" fill="#262626" stroke="#262626" text-anchor="middle" textLength="10.34" lengthAdjust="spacingAndGlyphs">-0.9</text><text x="155.79" y="364.43" fill="#262626" stroke="#262626" text-anchor="middle" textLength="10.34" lengthAdjust="spacingAndGlyphs">-0.7</text><text x="168.36" y="364.43" fill="#262626" stroke="#262626" text-anchor="middle" textLength="10.34" lengthAdjust="spacingAndGlyphs">-0.9</text><text x="180.93" y="364.43" fill="#262626" stroke="#262626" text-anchor="middle" textLength="10.34" lengthAdjust="spacingAndGlyphs">-0.9</text><text x="193.50" y="364.43" fill="#262626" stroke="#262626" text-anchor="middle" textLength="10.34" lengthAdjust="spacingAndGlyphs">-0.7</text><text x="206.06" y="364.43" fill="#262626" stroke="#262626" text-anchor="middle" textLength="10.34" lengthAdjust="spacingAndGlyphs">-0.7</text><text x="218.63" y="364.43" fill="#262626" stroke="#262626" text-anchor="middle" textLength="10.34" lengthAdjust="spacingAndGlyphs">-0.7</text><text x="231.20" y="364.43" fill="#262626" stroke="#262626" text-anchor="middle" textLength="10.34" lengthAdjust="spacingAndGlyphs">-0.7</text><text x="243.77" y="364.43" fill="#262626" stroke="#262626" text-anchor="middle" textLength="10.34" lengthAdjust="spacingAndGlyphs">-0.7</text><text x="256.34" y="364.43" fill="#262626" stroke="#262626" text-anchor="middle" textLength="10.34" lengthAdjust="spacingAndGlyphs">-0.7</text><text x="268.90" y="364.43" fill="#262626" stroke="#262626" text-anchor="middle" textLength="10.34" lengthAdjust="spacingAndGlyphs">-0.4</text><text x="281.47" y="364.43" fill="#262626" stroke="#262626" text-anchor="middle" textLength="8.43" lengthAdjust="spacingAndGlyphs">0.1</text><text x="80.38" y="376.97" fill="#262626" stroke="#262626" text-anchor="middle" textLength="10.34" lengthAdjust="spacingAndGlyphs">-0.2</text><text x="92.95" y="376.97" fill="#262626" stroke="#262626" text-anchor="middle" textLength="8.43" lengthAdjust="spacingAndGlyphs">0.1</text><text x="105.52" y="376.97" fill="#ffffff" stroke="#ffffff" text-anchor="middle" textLength="10.34" lengthAdjust="spacingAndGlyphs">-1.1</text><text x="118.09" y="376.97" fill="#262626" stroke="#262626" text-anchor="middle" textLength="10.34" lengthAdjust="spacingAndGlyphs">-0.2</text><text x="130.66" y="376.97" fill="#262626" stroke="#262626" text-anchor="middle" textLength="8.43" lengthAdjust="spacingAndGlyphs">0.9</text><text x="155.79" y="376.97" fill="#262626" stroke="#262626" text-anchor="middle" textLength="8.43" lengthAdjust="spacingAndGlyphs">0.2</text><text x="168.36" y="376.97" fill="#262626" stroke="#262626" text-anchor="middle" textLength="8.43" lengthAdjust="spacingAndGlyphs">0.0</text><text x="180.93" y="376.97" fill="#262626" stroke="#262626" text-anchor="middle" textLength="8.43" lengthAdjust="spacingAndGlyphs">0.0</text><text x="193.50" y="376.97" fill="#262626" stroke="#262626" text-anchor="middle" textLength="8.43" lengthAdjust="spacingAndGlyphs">0.2</text><text x="206.06" y="376.97" fill="#262626" stroke="#262626" text-anchor="middle" textLength="8.43" lengthAdjust="spacingAndGlyphs">0.1</text><text x="218.63" y="376.97" fill="#262626" stroke="#262626" text-anchor="middle" textLength="8.43" lengthAdjust="spacingAndGlyphs">0.1</text><text x="231.20" y="376.97" fill="#262626" stroke="#262626" text-anchor="middle" textLength="8.43" lengthAdjust="spacingAndGlyphs">0.2</text><text x="243.77" y="376.97" fill="#262626" stroke="#262626" text-anchor="middle" textLength="8.43" lengthAdjust="spacingAndGlyphs">0.2</text><text x="256.34" y="376.97" fill="#262626" stroke="#262626" text-anchor="middle" textLength="8.43" lengthAdjust="spacingAndGlyphs">0.1</text><text x="268.90" y="376.97" fill="#262626" stroke="#262626" text-anchor="middle" textLength="8.43" lengthAdjust="spacingAndGlyphs">0.5</text><text x="281.47" y="376.97" fill="#262626" stroke="#262626" text-anchor="middle" textLength="8.43" lengthAdjust="spacingAndGlyphs">1.0</text><text x="80.38" y="389.51" fill="#262626" stroke="#262626" text-anchor="middle" textLength="10.34" lengthAdjust="spacingAndGlyphs">-0.4</text><text x="92.95" y="389.51" fill="#262626" stroke="#262626" text-anchor="middle" textLength="10.34" lengthAdjust="spacingAndGlyphs">-0.1</text><text x="105.52" y="389.51" fill="#ffffff" stroke="#ffffff" text-anchor="middle" textLength="10.34" lengthAdjust="spacingAndGlyphs">-1.4</text><text x="118.09" y="389.51" fill="#262626" stroke="#262626" text-anchor="middle" textLength="10.34" lengthAdjust="spacingAndGlyphs">-0.4</text><text x="130.66" y="389.51" fill="#262626" stroke="#262626" text-anchor="middle" textLength="8.43" lengthAdjust="spacingAndGlyphs">0.7</text><text x="143.22" y="389.51" fill="#262626" stroke="#262626" text-anchor="middle" textLength="10.34" lengthAdjust="spacingAndGlyphs">-0.2</text><text x="168.36" y="389.51" fill="#262626" stroke="#262626" text-anchor="middle" textLength="10.34" lengthAdjust="spacingAndGlyphs">-0.2</text><text x="180.93" y="389.51" fill="#262626" stroke="#262626" text-anchor="middle" textLength="10.34" lengthAdjust="spacingAndGlyphs">-0.2</text><text x="193.50" y="389.51" fill="#262626" stroke="#262626" text-anchor="middle" textLength="10.34" lengthAdjust="spacingAndGlyphs">-0.0</text><text x="206.06" y="389.51" fill="#262626" stroke="#262626" text-anchor="middle" textLength="10.34" lengthAdjust="spacingAndGlyphs">-0.0</text><text x="218.63" y="389.51" fill="#262626" stroke="#262626" text-anchor="middle" textLength="10.34" lengthAdjust="spacingAndGlyphs">-0.1</text><text x="231.20" y="389.51" fill="#262626" stroke="#262626" text-anchor="middle" textLength="8.43" lengthAdjust="spacingAndGlyphs">0.1</text><text x="243.77" y="389.51" fill="#262626" stroke="#262626" text-anchor="middle" textLength="10.34" lengthAdjust="spacingAndGlyphs">-0.0</text><text x="256.34" y="389.51" fill="#262626" stroke="#262626" text-anchor="middle" textLength="10.34" lengthAdjust="spacingAndGlyphs">-0.0</text><text x="268.90" y="389.51" fill="#262626" stroke="#262626" text-anchor="middle" textLength="8.43" lengthAdjust="spacingAndGlyphs">0.3</text><text x="281.47" y="389.51" fill="#262626" stroke="#262626" text-anchor="middle" textLength="8.43" lengthAdjust="spacingAndGlyphs">0.8</text><text x="80.38" y="402.05" fill="#262626" stroke="#262626" text-anchor="middle" textLength="10.34" lengthAdjust="spacingAndGlyphs">-0.2</text><text x="92.95" y="402.05" fill="#262626" stroke="#262626" text-anchor="middle" textLength="8.43" lengthAdjust="spacingAndGlyphs">0.1</text><text x="105.52" y="402.05" fill="#ffffff" stroke="#ffffff" text-anchor="middle" textLength="10.34" lengthAdjust="spacingAndGlyphs">-1.2</text><text x="118.09" y="402.05" fill="#262626" stroke="#262626" text-anchor="middle" textLength="10.34" lengthAdjust="spacingAndGlyphs">-0.3</text><text x="130.66" y="402.05" fill="#262626" stroke="#262626" text-anchor="middle" textLength="8.43" lengthAdjust="spacingAndGlyphs">0.8</text><text x="143.22" y="402.05" fill="#262626" stroke="#262626" text-anchor="middle" textLength="10.34" lengthAdjust="spacingAndGlyphs">-0.0</text><text x="155.79" y="402.05" fill="#262626" stroke="#262626" text-anchor="middle" textLength="8.43" lengthAdjust="spacingAndGlyphs">0.1</text><text x="180.93" y="402.05" fill="#262626" stroke="#262626" text-anchor="middle" textLength="10.34" lengthAdjust="spacingAndGlyphs">-0.0</text><text x="193.50" y="402.05" fill="#262626" stroke="#262626" text-anchor="middle" textLength="8.43" lengthAdjust="spacingAndGlyphs">0.1</text><text x="206.06" y="402.05" fill="#262626" stroke="#262626" text-anchor="middle" textLength="8.43" lengthAdjust="spacingAndGlyphs">0.1</text><text x="218.63" y="402.05" fill="#262626" stroke="#262626" text-anchor="middle" textLength="8.43" lengthAdjust="spacingAndGlyphs">0.1</text><text x="231.20" y="402.05" fill="#262626" stroke="#262626" text-anchor="middle" textLength="8.43" lengthAdjust="spacingAndGlyphs">0.2</text><text x="243.77" y="402.05" fill="#262626" stroke="#262626" text-anchor="middle" textLength="8.43" lengthAdjust="spacingAndGlyphs">0.1</text><text x="256.34" y="402.05" fill="#262626" stroke="#262626" text-anchor="middle" textLength="8.43" lengthAdjust="spacingAndGlyphs">0.1</text><text x="268.90" y="402.05" fill="#262626" stroke="#262626" text-anchor="middle" textLength="8.43" lengthAdjust="spacingAndGlyphs">0.4</text><text x="281.47" y="402.05" fill="#262626" stroke="#262626" text-anchor="middle" textLength="8.43" lengthAdjust="spacingAndGlyphs">0.9</text><text x="80.38" y="414.59" fill="#262626" stroke="#262626" text-anchor="middle" textLength="10.34" lengthAdjust="spacingAndGlyphs">-0.2</text><text x="92.95" y="414.59" fill="#262626" stroke="#262626" text-anchor="middle" textLength="8.43" lengthAdjust="spacingAndGlyphs">0.1</text><text x="105.52" y="414.59" fill="#ffffff" stroke="#ffffff" text-anchor="middle" textLength="10.34" lengthAdjust="spacingAndGlyphs">-1.2</text><text x="118.09" y="414.59" fill="#262626" stroke="#262626" text-anchor="middle" textLength="10.34" lengthAdjust="spacingAndGlyphs">-0.3</text><text x="130.66" y="414.59" fill="#262626" stroke="#262626" text-anchor="middle" textLength="8.43" lengthAdjust="spacingAndGlyphs">0.9</text><text x="143.22" y="414.59" fill="#262626" stroke="#262626" text-anchor="middle" textLength="10.34" lengthAdjust="spacingAndGlyphs">-0.0</text><text x="155.79" y="414.59" fill="#262626" stroke="#262626" text-anchor="middle" textLength="8.43" lengthAdjust="spacingAndGlyphs">0.1</text><text x="168.36" y="414.59" fill="#262626" stroke="#262626" text-anchor="middle" textLength="8.43" lengthAdjust="spacingAndGlyphs">0.0</text><text x="193.50" y="414.59" fill="#262626" stroke="#262626" text-anchor="middle" textLength="8.43" lengthAdjust="spacingAndGlyphs">0.1</text><text x="206.06" y="414.59" fill="#262626" stroke="#262626" text-anchor="middle" textLength="8.43" lengthAdjust="spacingAndGlyphs">0.1</text><text x="218.63" y="414.59" fill="#262626" stroke="#262626" text-anchor="middle" textLength="8.43" lengthAdjust="spacingAndGlyphs">0.1</text><text x="231.20" y="414.59" fill="#262626" stroke="#262626" text-anchor="middle" textLength="8.43" lengthAdjust="spacingAndGlyphs">0.2</text><text x="243.77" y="414.59" fill="#262626" stroke="#262626" text-anchor="middle" textLength="8.43" lengthAdjust="spacingAndGlyphs">0.1</text><text x="256.34" y="414.59" fill="#262626" stroke="#262626" text-anchor="middle" textLength="8.43" lengthAdjust="spacingAndGlyphs">0.1</text><text x="268.90" y="414.59" fill="#262626" stroke="#262626" text-anchor="middle" textLength="8.43" lengthAdjust="spacingAndGlyphs">0.4</text><text x="281.47" y="414.59" fill="#262626" stroke="#262626" text-anchor="middle" textLength="8.43" lengthAdjust="spacingAndGlyphs">0.9</text><text x="80.38" y="427.13" fill="#262626" stroke="#262626" text-anchor="middle" textLength="10.34" lengthAdjust="spacingAndGlyphs">-0.3</text><text x="92.95" y="427.13" fill="#262626" stroke="#262626" text-anchor="middle" textLength="10.34" lengthAdjust="spacingAndGlyphs">-0.1</text><text x="105.52" y="427.13" fill="#ffffff" stroke="#ffffff" text-anchor="middle" textLength="10.34" lengthAdjust="spacingAndGlyphs">-1.3</text><text x="118.09" y="427.13" fill="#262626" stroke="#262626" text-anchor="middle" textLength="10.34" lengthAdjust="spacingAndGlyphs">-0.4</text><text x="130.66" y="427.13" fill="#262626" stroke="#262626" text-anchor="middle" textLength="8.43" lengthAdjust="spacingAndGlyphs">0.7</text><text x="143.22" y="427.13" fill="#262626" stroke="#262626" text-anchor="middle" textLength="10.34" lengthAdjust="spacingAndGlyphs">-0.2</text><text x="155.79" y="427.13" fill="#262626" stroke="#262626" text-anchor="middle" textLength="8.43" lengthAdjust="spacingAndGlyphs">0.0</text><text x="168.36" y="427.13" fill="#262626" stroke="#262626" text-anchor="middle" textLength="10.34" lengthAdjust="spacingAndGlyphs">-0.1</text><text x="180.93" y="427.13" fill="#262626" stroke="#262626" text-anchor="middle" textLength="10.34" lengthAdjust="spacingAndGlyphs">-0.1</text><text x="206.06" y="427.13" fill="#262626" stroke="#262626" text-anchor="middle" textLength="10.34" lengthAdjust="spacingAndGlyphs">-0.0</text><text x="218.63" y="427.13" fill="#262626" stroke="#262626" text-anchor="middle" textLength="10.34" lengthAdjust="spacingAndGlyphs">-0.0</text><text x="231.20" y="427.13" fill="#262626" stroke="#262626" text-anchor="middle" textLength="8.43" lengthAdjust="spacingAndGlyphs">0.1</text><text x="243.77" y="427.13" fill="#262626" stroke="#262626" text-anchor="middle" textLength="8.43" lengthAdjust="spacingAndGlyphs">0.0</text><text x="256.34" y="427.13" fill="#262626" stroke="#262626" text-anchor="middle" textLength="10.34" lengthAdjust="spacingAndGlyphs">-0.0</text><text x="268.90" y="427.13" fill="#262626" stroke="#262626" text-anchor="middle" textLength="8.43" lengthAdjust="spacingAndGlyphs">0.3</text><text x="281.47" y="427.13" fill="#262626" stroke="#262626" text-anchor="middle" textLength="8.43" lengthAdjust="spacingAndGlyphs">0.8</text><text x="80.38" y="439.67" fill="#262626" stroke="#262626" text-anchor="middle" textLength="10.34" lengthAdjust="spacingAndGlyphs">-0.3</text><text x="92.95" y="439.67" fill="#262626" stroke="#262626" text-anchor="middle" textLength="10.34" lengthAdjust="spacingAndGlyphs">-0.0</text><text x="105.52" y="439.67" fill="#ffffff" stroke="#ffffff" text-anchor="middle" textLength="10.34" lengthAdjust="spacingAndGlyphs">-1.3</text><text x="118.09" y="439.67" fill="#262626" stroke="#262626" text-anchor="middle" textLength="10.34" lengthAdjust="spacingAndGlyphs">-0.4</text><text x="130.66" y="439.67" fill="#262626" stroke="#262626" text-anchor="middle" textLength="8.43" lengthAdjust="spacingAndGlyphs">0.8</text><text x="143.22" y="439.67" fill="#262626" stroke="#262626" text-anchor="middle" textLength="10.34" lengthAdjust="spacingAndGlyphs">-0.1</text><text x="155.79" y="439.67" fill="#262626" stroke="#262626" text-anchor="middle" textLength="8.43" lengthAdjust="spacingAndGlyphs">0.0</text><text x="168.36" y="439.67" fill="#262626" stroke="#262626" text-anchor="middle" textLength="10.34" lengthAdjust="spacingAndGlyphs">-0.1</text><text x="180.93" y="439.67" fill="#262626" stroke="#262626" text-anchor="middle" textLength="10.34" lengthAdjust="spacingAndGlyphs">-0.1</text><text x="193.50" y="439.67" fill="#262626" stroke="#262626" text-anchor="middle" textLength="8.43" lengthAdjust="spacingAndGlyphs">0.0</text><text x="218.63" y="439.67" fill="#262626" stroke="#262626" text-anchor="middle" textLength="10.34" lengthAdjust="spacingAndGlyphs">-0.0</text><text x="231.20" y="439.67" fill="#262626" stroke="#262626" text-anchor="middle" textLength="8.43" lengthAdjust="spacingAndGlyphs">0.1</text><text x="243.77" y="439.67" fill="#262626" stroke="#262626" text-anchor="middle" textLength="8.43" lengthAdjust="spacingAndGlyphs">0.0</text><text x="256.34" y="439.67" fill="#262626" stroke="#262626" text-anchor="middle" textLength="8.43" lengthAdjust="spacingAndGlyphs">0.0</text><text x="268.90" y="439.67" fill="#262626" stroke="#262626" text-anchor="middle" textLength="8.43" lengthAdjust="spacingAndGlyphs">0.3</text><text x="281.47" y="439.67" fill="#262626" stroke="#262626" text-anchor="middle" textLength="8.43" lengthAdjust="spacingAndGlyphs">0.8</text><text x="80.38" y="452.21" fill="#262626" stroke="#262626" text-anchor="middle" textLength="10.34" lengthAdjust="spacingAndGlyphs">-0.3</text><text x="92.95" y="452.21" fill="#262626" stroke="#262626" text-anchor="middle" textLength="10.34" lengthAdjust="spacingAndGlyphs">-0.0</text><text x="105.52" y="452.21" fill="#ffffff" stroke="#ffffff" text-anchor="middle" textLength="10.34" lengthAdjust="spacingAndGlyphs">-1.2</text><text x="118.09" y="452.21" fill="#262626" stroke="#262626" text-anchor="middle" textLength="10.34" lengthAdjust="spacingAndGlyphs">-0.4</text><text x="130.66" y="452.21" fill="#262626" stroke="#262626" text-anchor="middle" textLength="8.43" lengthAdjust="spacingAndGlyphs">0.8</text><text x="143.22" y="452.21" fill="#262626" stroke="#262626" text-anchor="middle" textLength="10.34" lengthAdjust="spacingAndGlyphs">-0.1</text><text x="155.79" y="452.21" fill="#262626" stroke="#262626" text-anchor="middle" textLength="8.43" lengthAdjust="spacingAndGlyphs">0.1</text><text x="168.36" y="452.21" fill="#262626" stroke="#262626" text-anchor="middle" textLength="10.34" lengthAdjust="spacingAndGlyphs">-0.1</text><text x="180.93" y="452.21" fill="#262626" stroke="#262626" text-anchor="middle" textLength="10.34" lengthAdjust="spacingAndGlyphs">-0.1</text><text x="193.50" y="452.21" fill="#262626" stroke="#262626" text-anchor="middle" textLength="8.43" lengthAdjust="spacingAndGlyphs">0.0</text><text x="206.06" y="452.21" fill="#262626" stroke="#262626" text-anchor="middle" textLength="8.43" lengthAdjust="spacingAndGlyphs">0.0</text><text x="231.20" y="452.21" fill="#262626" stroke="#262626" text-anchor="middle" textLength="8.43" lengthAdjust="spacingAndGlyphs">0.1</text><text x="243.77" y="452.21" fill="#262626" stroke="#262626" text-anchor="middle" textLength="8.43" lengthAdjust="spacingAndGlyphs">0.1</text><text x="256.34" y="452.21" fill="#262626" stroke="#262626" text-anchor="middle" textLength="8.43" lengthAdjust="spacingAndGlyphs">0.0</text><text x="268.90" y="452.21" fill="#262626" stroke="#262626" text-anchor="middle" textLength="8.43" lengthAdjust="spacingAndGlyphs">0.4</text><text x="281.47" y="452.21" fill="#262626" stroke="#262626" text-anchor="middle" textLength="8.43" lengthAdjust="spacingAndGlyphs">0.8</text><text x="80.38" y="464.75" fill="#262626" stroke="#262626" text-anchor="middle" textLength="10.34" lengthAdjust="spacingAndGlyphs">-0.4</text><text x="92.95" y="464.75" fill="#262626" stroke="#262626" text-anchor="middle" textLength="10.34" lengthAdjust="spacingAndGlyphs">-0.1</text><text x="105.52" y="464.75" fill="#ffffff" stroke="#ffffff" text-anchor="middle" textLength="10.34" lengthAdjust="spacingAndGlyphs">-1.4</text><text x="118.09" y="464.75" fill="#262626" stroke="#262626" text-anchor="middle" textLength="10.34" lengthAdjust="spacingAndGlyphs">-0.5</text><text x="130.66" y="464.75" fill="#262626" stroke="#262626" text-anchor="middle" textLength="8.43" lengthAdjust="spacingAndGlyphs">0.7</text><text x="143.22" y="464.75" fill="#262626" stroke="#262626" text-anchor="middle" textLength="10.34" lengthAdjust="spacingAndGlyphs">-0.2</text><text x="155.79" y="464.75" fill="#262626" stroke="#262626" text-anchor="middle" textLength="10.34" lengthAdjust="spacingAndGlyphs">-0.1</text><text x="168.36" y="464.75" fill="#262626" stroke="#262626" text-anchor="middle" textLength="10.34" lengthAdjust="spacingAndGlyphs">-0.2</text><text x="180.93" y="464.75" fill="#262626" stroke="#262626" text-anchor="middle" textLength="10.34" lengthAdjust="spacingAndGlyphs">-0.2</text><text x="193.50" y="464.75" fill="#262626" stroke="#262626" text-anchor="middle" textLength="10.34" lengthAdjust="spacingAndGlyphs">-0.1</text><text x="206.06" y="464.75" fill="#262626" stroke="#262626" text-anchor="middle" textLength="10.34" lengthAdjust="spacingAndGlyphs">-0.1</text><text x="218.63" y="464.75" fill="#262626" stroke="#262626" text-anchor="middle" textLength="10.34" lengthAdjust="spacingAndGlyphs">-0.1</text><text x="243.77" y="464.75" fill="#262626" stroke="#262626" text-anchor="middle" textLength="10.34" lengthAdjust="spacingAndGlyphs">-0.1</text><text x="256.34" y="464.75" fill="#262626" stroke="#262626" text-anchor="middle" textLength="10.34" lengthAdjust="spacingAndGlyphs">-0.1</text><text x="268.90" y="464.75" fill="#262626" stroke="#262626" text-anchor="middle" textLength="8.43" lengthAdjust="spacingAndGlyphs">0.2</text><text x="281.47" y="464.75" fill="#262626" stroke="#262626" text-anchor="middle" textLength="8.43" lengthAdjust="spacingAndGlyphs">0.7</text><text x="80.38" y="477.29" fill="#262626" stroke="#262626" text-anchor="middle" textLength="10.34" lengthAdjust="spacingAndGlyphs">-0.4</text><text x="92.95" y="477.29" fill="#262626" stroke="#262626" text-anchor="middle" textLength="10.34" lengthAdjust="spacingAndGlyphs">-0.1</text><text x="105.52" y="477.29" fill="#ffffff" stroke="#ffffff" text-anchor="middle" textLength="10.34" lengthAdjust="spacingAndGlyphs">-1.3</text><text x="118.09" y="477.29" fill="#262626" stroke="#262626" text-anchor="middle" textLength="10.34" lengthAdjust="spacingAndGlyphs">-0.4</text><text x="130.66" y="477.29" fill="#262626" stroke="#262626" text-anchor="middle" textLength="8.43" lengthAdjust="spacingAndGlyphs">0.7</text><text x="143.22" y="477.29" fill="#262626" stroke="#262626" text-anchor="middle" textLength="10.34" lengthAdjust="spacingAndGlyphs">-0.2</text><text x="155.79" y="477.29" fill="#262626" stroke="#262626" text-anchor="middle" textLength="8.43" lengthAdjust="spacingAndGlyphs">0.0</text><text x="168.36" y="477.29" fill="#262626" stroke="#262626" text-anchor="middle" textLength="10.34" lengthAdjust="spacingAndGlyphs">-0.1</text><text x="180.93" y="477.29" fill="#262626" stroke="#262626" text-anchor="middle" textLength="10.34" lengthAdjust="spacingAndGlyphs">-0.1</text><text x="193.50" y="477.29" fill="#262626" stroke="#262626" text-anchor="middle" textLength="10.34" lengthAdjust="spacingAndGlyphs">-0.0</text><text x="206.06" y="477.29" fill="#262626" stroke="#262626" text-anchor="middle" textLength="10.34" lengthAdjust="spacingAndGlyphs">-0.0</text><text x="218.63" y="477.29" fill="#262626" stroke="#262626" text-anchor="middle" textLength="10.34" lengthAdjust="spacingAndGlyphs">-0.1</text><text x="231.20" y="477.29" fill="#262626" stroke="#262626" text-anchor="middle" textLength="8.43" lengthAdjust="spacingAndGlyphs">0.1</text><text x="256.34" y="477.29" fill="#262626" stroke="#262626" text-anchor="middle" textLength="10.34" lengthAdjust="spacingAndGlyphs">-0.0</text><text x="268.90" y="477.29" fill="#262626" stroke="#262626" text-anchor="middle" textLength="8.43" lengthAdjust="spacingAndGlyphs">0.3</text><text x="281.47" y="477.29" fill="#262626" stroke="#262626" text-anchor="middle" textLength="8.43" lengthAdjust="spacingAndGlyphs">0.8</text><text x="80.38" y="489.83" fill="#262626" stroke="#262626" text-anchor="middle" textLength="10.34" lengthAdjust="spacingAndGlyphs">-0.3</text><text x="92.95" y="489.83" fill="#262626" stroke="#262626" text-anchor="middle" textLength="10.34" lengthAdjust="spacingAndGlyphs">-0.0</text><text x="105.52" y="489.83" fill="#ffffff" stroke="#ffffff" text-anchor="middle" textLength="10.34" lengthAdjust="spacingAndGlyphs">-1.3</text><text x="118.09" y="489.83" fill="#262626" stroke="#262626" text-anchor="middle" textLength="10.34" lengthAdjust="spacingAndGlyphs">-0.4</text><text x="130.66" y="489.83" fill="#262626" stroke="#262626" text-anchor="middle" textLength="8.43" lengthAdjust="spacingAndGlyphs">0.7</text><text x="143.22" y="489.83" fill="#262626" stroke="#262626" text-anchor="middle" textLength="10.34" lengthAdjust="spacingAndGlyphs">-0.1</text><text x="155.79" y="489.83" fill="#262626" stroke="#262626" text-anchor="middle" textLength="8.43" lengthAdjust="spacingAndGlyphs">0.0</text><text x="168.36" y="489.83" fill="#262626" stroke="#262626" text-anchor="middle" textLength="10.34" lengthAdjust="spacingAndGlyphs">-0.1</text><text x="180.93" y="489.83" fill="#262626" stroke="#262626" text-anchor="middle" textLength="10.34" lengthAdjust="spacingAndGlyphs">-0.1</text><text x="193.50" y="489.83" fill="#262626" stroke="#262626" text-anchor="middle" textLength="8.43" lengthAdjust="spacingAndGlyphs">0.0</text><text x="206.06" y="489.83" fill="#262626" stroke="#262626" text-anchor="middle" textLength="10.34" lengthAdjust="spacingAndGlyphs">-0.0</text><text x="218.63" y="489.83" fill="#262626" stroke="#262626" text-anchor="middle" textLength="10.34" lengthAdjust="spacingAndGlyphs">-0.0</text><text x="231.20" y="489.83" fill="#262626" stroke="#262626" text-anchor="middle" textLength="8.43" lengthAdjust="spacingAndGlyphs">0.1</text><text x="243.77" y="489.83" fill="#262626" stroke="#262626" text-anchor="middle" textLength="8.43" lengthAdjust="spacingAndGlyphs">0.0</text><text x="268.90" y="489.83" fill="#262626" stroke="#262626" text-anchor="middle" textLength="8.43" lengthAdjust="spacingAndGlyphs">0.3</text><text x="281.47" y="489.83" fill="#262626" stroke="#262626" text-anchor="middle" textLength="8.43" lengthAdjust="spacingAndGlyphs">0.8</text><text x="80.38" y="502.37" fill="#262626" stroke="#262626" text-anchor="middle" textLength="10.34" lengthAdjust="spacingAndGlyphs">-0.7</text><text x="92.95" y="502.37" fill="#262626" stroke="#262626" text-anchor="middle" textLength="10.34" lengthAdjust="spacingAndGlyphs">-0.4</text><text x="105.52" y="502.37" fill="#ffffff" stroke="#ffffff" text-anchor="middle" textLength="10.34" lengthAdjust="spacingAndGlyphs">-1.7</text><text x="118.09" y="502.37" fill="#262626" stroke="#262626" text-anchor="middle" textLength="10.34" lengthAdjust="spacingAndGlyphs">-0.8</text><text x="130.66" y="502.37" fill="#262626" stroke="#262626" text-anchor="middle" textLength="8.43" lengthAdjust="spacingAndGlyphs">0.4</text><text x="143.22" y="502.37" fill="#262626" stroke="#262626" text-anchor="middle" textLength="10.34" lengthAdjust="spacingAndGlyphs">-0.5</text><text x="155.79" y="502.37" fill="#262626" stroke="#262626" text-anchor="middle" textLength="10.34" lengthAdjust="spacingAndGlyphs">-0.3</text><text x="168.36" y="502.37" fill="#262626" stroke="#262626" text-anchor="middle" textLength="10.34" lengthAdjust="spacingAndGlyphs">-0.4</text><text x="180.93" y="502.37" fill="#262626" stroke="#262626" text-anchor="middle" textLength="10.34" lengthAdjust="spacingAndGlyphs">-0.5</text><text x="193.50" y="502.37" fill="#262626" stroke="#262626" text-anchor="middle" textLength="10.34" lengthAdjust="spacingAndGlyphs">-0.3</text><text x="206.06" y="502.37" fill="#262626" stroke="#262626" text-anchor="middle" textLength="10.34" lengthAdjust="spacingAndGlyphs">-0.3</text><text x="218.63" y="502.37" fill="#262626" stroke="#262626" text-anchor="middle" textLength="10.34" lengthAdjust="spacingAndGlyphs">-0.4</text><text x="231.20" y="502.37" fill="#262626" stroke="#262626" text-anchor="middle" textLength="10.34" lengthAdjust="spacingAndGlyphs">-0.2</text><text x="243.77" y="502.37" fill="#262626" stroke="#262626" text-anchor="middle" textLength="10.34" lengthAdjust="spacingAndGlyphs">-0.3</text><text x="256.34" y="502.37" fill="#262626" stroke="#262626" text-anchor="middle" textLength="10.34" lengthAdjust="spacingAndGlyphs">-0.3</text><text x="281.47" y="502.37" fill="#262626" stroke="#262626" text-anchor="middle" textLength="8.43" lengthAdjust="spacingAndGlyphs">0.5</text><text x="80.38" y="514.91" fill="#ffffff" stroke="#ffffff" text-anchor="middle" textLength="10.34" lengthAdjust="spacingAndGlyphs">-1.1</text><text x="92.95" y="514.91" fill="#262626" stroke="#262626" text-anchor="middle" textLength="10.34" lengthAdjust="spacingAndGlyphs">-0.8</text><text x="105.52" y="514.91" fill="#ffffff" stroke="#ffffff" text-anchor="middle" textLength="10.34" lengthAdjust="spacingAndGlyphs">-2.1</text><text x="118.09" y="514.91" fill="#ffffff" stroke="#ffffff" text-anchor="middle" textLength="10.34" lengthAdjust="spacingAndGlyphs">-1.2</text><text x="130.66" y="514.91" fill="#262626" stroke="#262626" text-anchor="middle" textLength="10.34" lengthAdjust="spacingAndGlyphs">-0.1</text><text x="143.22" y="514.91" fill="#ffffff" stroke="#ffffff" text-anchor="middle" textLength="10.34" lengthAdjust="spacingAndGlyphs">-0.9</text><text x="155.79" y="514.91" fill="#262626" stroke="#262626" text-anchor="middle" textLength="10.34" lengthAdjust="spacingAndGlyphs">-0.8</text><text x="168.36" y="514.91" fill="#262626" stroke="#262626" text-anchor="middle" textLength="10.34" lengthAdjust="spacingAndGlyphs">-1.0</text><text x="180.93" y="514.91" fill="#262626" stroke="#262626" text-anchor="middle" textLength="10.34" lengthAdjust="spacingAndGlyphs">-0.9</text><text x="193.50" y="514.91" fill="#262626" stroke="#262626" text-anchor="middle" textLength="10.34" lengthAdjust="spacingAndGlyphs">-0.8</text><text x="206.06" y="514.91" fill="#262626" stroke="#262626" text-anchor="middle" textLength="10.34" lengthAdjust="spacingAndGlyphs">-0.8</text><text x="218.63" y="514.91" fill="#262626" stroke="#262626" text-anchor="middle" textLength="10.34" lengthAdjust="spacingAndGlyphs">-0.9</text><text x="231.20" y="514.91" fill="#262626" stroke="#262626" text-anchor="middle" textLength="10.34" lengthAdjust="spacingAndGlyphs">-0.7</text><text x="243.77" y="514.91" fill="#262626" stroke="#262626" text-anchor="middle" textLength="10.34" lengthAdjust="spacingAndGlyphs">-0.8</text><text x="256.34" y="514.91" fill="#262626" stroke="#262626" text-anchor="middle" textLength="10.34" lengthAdjust="spacingAndGlyphs">-0.8</text><text x="268.90" y="514.91" fill="#262626" stroke="#262626" text-anchor="middle" textLength="10.34" lengthAdjust="spacingAndGlyphs">-0.5</text><line x1="74.10" y1="331.28" x2="287.76" y2="331.28" stroke="#000" stroke-width="1.1"/><line x1="99.24" y1="306.20" x2="99.24" y2="519.38" stroke="#000" stroke-width="1.1"/><line x1="74.10" y1="381.44" x2="287.76" y2="381.44" stroke="#000" stroke-width="1.1"/><line x1="149.51" y1="306.20" x2="149.51" y2="519.38" stroke="#000" stroke-width="1.1"/><line x1="74.10" y1="431.60" x2="287.76" y2="431.60" stroke="#000" stroke-width="1.1"/><line x1="199.78" y1="306.20" x2="199.78" y2="519.38" stroke="#000" stroke-width="1.1"/><line x1="74.10" y1="494.30" x2="287.76" y2="494.30" stroke="#000" stroke-width="1.1"/><line x1="262.62" y1="306.20" x2="262.62" y2="519.38" stroke="#000" stroke-width="1.1"/></g>
<g font-family='"Liberation Sans", sans-serif' font-size="6.0" fill="#262626" stroke="#262626" stroke-width="0.12"><line x1="72.23" y1="312.47" x2="74.10" y2="312.47" stroke="#262626" stroke-width="0.45"/><text x="70.36" y="314.47" text-anchor="end" textLength="27.97" lengthAdjust="spacingAndGlyphs">Basic CNN</text><line x1="72.23" y1="325.01" x2="74.10" y2="325.01" stroke="#262626" stroke-width="0.45"/><text x="70.36" y="327.01" text-anchor="end" textLength="45.74" lengthAdjust="spacingAndGlyphs">Prototypical CNN</text><line x1="72.23" y1="337.55" x2="74.10" y2="337.55" stroke="#262626" stroke-width="0.45"/><text x="70.36" y="339.55" text-anchor="end" textLength="49.97" lengthAdjust="spacingAndGlyphs">Softlabel (beta=4)</text><line x1="72.23" y1="350.09" x2="74.10" y2="350.09" stroke="#262626" stroke-width="0.45"/><text x="70.36" y="352.09" text-anchor="end" textLength="53.41" lengthAdjust="spacingAndGlyphs">Softlabel (beta=12)</text><line x1="72.23" y1="362.63" x2="74.10" y2="362.63" stroke="#262626" stroke-width="0.45"/><text x="70.36" y="364.63" text-anchor="end" textLength="64.48" lengthAdjust="spacingAndGlyphs">Hyperbolic-proto (fixed)</text><line x1="72.23" y1="375.17" x2="74.10" y2="375.17" stroke="#262626" stroke-width="0.45"/><text x="70.36" y="377.17" text-anchor="end" textLength="69.85" lengthAdjust="spacingAndGlyphs">Hyperbolic-proto (guided)</text><line x1="72.23" y1="387.71" x2="74.10" y2="387.71" stroke="#262626" stroke-width="0.45"/><text x="70.36" y="389.71" text-anchor="end" textLength="8.46" lengthAdjust="spacingAndGlyphs">MC</text><line x1="72.23" y1="400.25" x2="74.10" y2="400.25" stroke="#262626" stroke-width="0.45"/><text x="70.36" y="402.25" text-anchor="end" textLength="19.62" lengthAdjust="spacingAndGlyphs">Yolo-V2</text><line x1="72.23" y1="412.79" x2="74.10" y2="412.79" stroke="#262626" stroke-width="0.45"/><text x="70.36" y="414.79" text-anchor="end" textLength="45.35" lengthAdjust="spacingAndGlyphs">HXE (alpha=0.1)</text><line x1="72.23" y1="425.33" x2="74.10" y2="425.33" stroke="#262626" stroke-width="0.45"/><text x="70.36" y="427.33" text-anchor="end" textLength="45.35" lengthAdjust="spacingAndGlyphs">HXE (alpha=0.6)</text><line x1="72.23" y1="437.87" x2="74.10" y2="437.87" stroke="#262626" stroke-width="0.45"/><text x="70.36" y="439.87" text-anchor="end" textLength="40.23" lengthAdjust="spacingAndGlyphs">Multi-task CNN</text><line x1="72.23" y1="450.41" x2="74.10" y2="450.41" stroke="#262626" stroke-width="0.45"/><text x="70.36" y="452.41" text-anchor="end" textLength="32.87" lengthAdjust="spacingAndGlyphs">Chang et al.</text><line x1="72.23" y1="462.95" x2="74.10" y2="462.95" stroke="#262626" stroke-width="0.45"/><text x="70.36" y="464.95" text-anchor="end" textLength="10.90" lengthAdjust="spacingAndGlyphs">HAF</text><line x1="72.23" y1="475.49" x2="74.10" y2="475.49" stroke="#262626" stroke-width="0.45"/><text x="70.36" y="477.49" text-anchor="end" textLength="12.03" lengthAdjust="spacingAndGlyphs">DHC</text><line x1="72.23" y1="488.03" x2="74.10" y2="488.03" stroke="#262626" stroke-width="0.45"/><text x="70.36" y="490.03" text-anchor="end" textLength="45.87" lengthAdjust="spacingAndGlyphs">CNN-Transformer</text><line x1="72.23" y1="500.57" x2="74.10" y2="500.57" stroke="#262626" stroke-width="0.45"/><text x="70.36" y="502.57" text-anchor="end" textLength="14.83" lengthAdjust="spacingAndGlyphs">HPDT</text><line x1="72.23" y1="513.11" x2="74.10" y2="513.11" stroke="#262626" stroke-width="0.45"/><text x="70.36" y="515.11" text-anchor="end" textLength="34.88" lengthAdjust="spacingAndGlyphs">HPDT-guided</text><line x1="80.38" y1="519.38" x2="80.38" y2="521.25" stroke="#262626" stroke-width="0.45"/><text transform="translate(79.28,527.18) rotate(-45)" text-anchor="end" textLength="27.97" lengthAdjust="spacingAndGlyphs">Basic CNN</text><line x1="92.95" y1="519.38" x2="92.95" y2="521.25" stroke="#262626" stroke-width="0.45"/><text transform="translate(91.85,527.18) rotate(-45)" text-anchor="end" textLength="45.74" lengthAdjust="spacingAndGlyphs">Prototypical CNN</text><line x1="105.52" y1="519.38" x2="105.52" y2="521.25" stroke="#262626" stroke-width="0.45"/><text transform="translate(104.42,527.18) rotate(-45)" text-anchor="end" textLength="49.97" lengthAdjust="spacingAndGlyphs">Softlabel (beta=4)</text><line x1="118.09" y1="519.38" x2="118.09" y2="521.25" stroke="#262626" stroke-width="0.45"/><text transform="translate(116.99,527.18) rotate(-45)" text-anchor="end" textLength="53.41" lengthAdjust="spacingAndGlyphs">Softlabel (beta=12)</text><line x1="130.66" y1="519.38" x2="130.66" y2="521.25" stroke="#262626" stroke-width="0.45"/><text transform="translate(129.56,527.18) rotate(-45)" text-anchor="end" textLength="64.48" lengthAdjust="spacingAndGlyphs">Hyperbolic-proto (fixed)</text><line x1="143.22" y1="519.38" x2="143.22" y2="521.25" stroke="#262626" stroke-width="0.45"/><text transform="translate(142.12,527.18) rotate(-45)" text-anchor="end" textLength="69.85" lengthAdjust="spacingAndGlyphs">Hyperbolic-proto (guided)</text><line x1="155.79" y1="519.38" x2="155.79" y2="521.25" stroke="#262626" stroke-width="0.45"/><text transform="translate(154.69,527.18) rotate(-45)" text-anchor="end" textLength="8.46" lengthAdjust="spacingAndGlyphs">MC</text><line x1="168.36" y1="519.38" x2="168.36" y2="521.25" stroke="#262626" stroke-width="0.45"/><text transform="translate(167.26,527.18) rotate(-45)" text-anchor="end" textLength="19.62" lengthAdjust="spacingAndGlyphs">Yolo-V2</text><line x1="180.93" y1="519.38" x2="180.93" y2="521.25" stroke="#262626" stroke-width="0.45"/><text transform="translate(179.83,527.18) rotate(-45)" text-anchor="end" textLength="45.35" lengthAdjust="spacingAndGlyphs">HXE (alpha=0.1)</text><line x1="193.50" y1="519.38" x2="193.50" y2="521.25" stroke="#262626" stroke-width="0.45"/><text transform="translate(192.40,527.18) rotate(-45)" text-anchor="end" textLength="45.35" lengthAdjust="spacingAndGlyphs">HXE (alpha=0.6)</text><line x1="206.06" y1="519.38" x2="206.06" y2="521.25" stroke="#262626" stroke-width="0.45"/><text transform="translate(204.96,527.18) rotate(-45)" text-anchor="end" textLength="40.23" lengthAdjust="spacingAndGlyphs">Multi-task CNN</text><line x1="218.63" y1="519.38" x2="218.63" y2="521.25" stroke="#262626" stroke-width="0.45"/><text transform="translate(217.53,527.18) rotate(-45)" text-anchor="end" textLength="32.87" lengthAdjust="spacingAndGlyphs">Chang et al.</text><line x1="231.20" y1="519.38" x2="231.20" y2="521.25" stroke="#262626" stroke-width="0.45"/><text transform="translate(230.10,527.18) rotate(-45)" text-anchor="end" textLength="10.90" lengthAdjust="spacingAndGlyphs">HAF</text><line x1="243.77" y1="519.38" x2="243.77" y2="521.25" stroke="#262626" stroke-width="0.45"/><text transform="translate(242.67,527.18) rotate(-45)" text-anchor="end" textLength="12.03" lengthAdjust="spacingAndGlyphs">DHC</text><line x1="256.34" y1="519.38" x2="256.34" y2="521.25" stroke="#262626" stroke-width="0.45"/><text transform="translate(255.24,527.18) rotate(-45)" text-anchor="end" textLength="45.87" lengthAdjust="spacingAndGlyphs">CNN-Transformer</text><line x1="268.90" y1="519.38" x2="268.90" y2="521.25" stroke="#262626" stroke-width="0.45"/><text transform="translate(267.80,527.18) rotate(-45)" text-anchor="end" textLength="14.83" lengthAdjust="spacingAndGlyphs">HPDT</text><line x1="281.47" y1="519.38" x2="281.47" y2="521.25" stroke="#262626" stroke-width="0.45"/><text transform="translate(280.37,527.18) rotate(-45)" text-anchor="end" textLength="34.88" lengthAdjust="spacingAndGlyphs">HPDT-guided</text><text x="180.93" y="295.60" text-anchor="middle" font-size="7.0" textLength="154.65" lengthAdjust="spacingAndGlyphs">(c) Effect size for severity of mistake difference</text></g>
<g font-family='"Liberation Sans", sans-serif' font-size="6.0" fill="#262626" stroke="#262626" stroke-width="0.12"><rect x="301.10" y="305.10" width="10.50" height="215.60" fill="url(#cb2)" stroke="none"/><line x1="311.60" y1="514.90" x2="313.47" y2="514.90" stroke="#262626" stroke-width="0.45"/><text x="315.34" y="516.90" textLength="13.16" lengthAdjust="spacingAndGlyphs">−2.0</text><line x1="311.60" y1="489.45" x2="313.47" y2="489.45" stroke="#262626" stroke-width="0.45"/><text x="315.34" y="491.45" textLength="13.16" lengthAdjust="spacingAndGlyphs">−1.5</text><line x1="311.60" y1="464.00" x2="313.47" y2="464.00" stroke="#262626" stroke-width="0.45"/><text x="315.34" y="466.00" textLength="13.16" lengthAdjust="spacingAndGlyphs">−1.0</text><line x1="311.60" y1="438.55" x2="313.47" y2="438.55" stroke="#262626" stroke-width="0.45"/><text x="315.34" y="440.55" textLength="13.16" lengthAdjust="spacingAndGlyphs">−0.5</text><line x1="311.60" y1="413.10" x2="313.47" y2="413.10" stroke="#262626" stroke-width="0.45"/><text x="315.34" y="415.10" textLength="8.62" lengthAdjust="spacingAndGlyphs">0.0</text><line x1="311.60" y1="387.66" x2="313.47" y2="387.66" stroke="#262626" stroke-width="0.45"/><text x="315.34" y="389.66" textLength="8.62" lengthAdjust="spacingAndGlyphs">0.5</text><line x1="311.60" y1="362.21" x2="313.47" y2="362.21" stroke="#262626" stroke-width="0.45"/><text x="315.34" y="364.21" textLength="8.62" lengthAdjust="spacingAndGlyphs">1.0</text><line x1="311.60" y1="336.76" x2="313.47" y2="336.76" stroke="#262626" stroke-width="0.45"/><text x="315.34" y="338.76" textLength="8.62" lengthAdjust="spacingAndGlyphs">1.5</text><line x1="311.60" y1="311.31" x2="313.47" y2="311.31" stroke="#262626" stroke-width="0.45"/><text x="315.34" y="313.31" textLength="8.62" lengthAdjust="spacingAndGlyphs">2.0</text><text transform="translate(335.60,412.90) rotate(-90)" text-anchor="middle" textLength="28.45" lengthAdjust="spacingAndGlyphs">Effect Size</text></g>
<g font-family='"Liberation Sans", sans-serif' font-size="5.8" stroke-width="0.0"><rect x="435.17" y="306.20" width="12.62" height="12.59" fill="#edf3f6"/><rect x="447.74" y="306.20" width="12.62" height="12.59" fill="#3770aa"/><rect x="460.30" y="306.20" width="12.62" height="12.59" fill="#5094c4"/><rect x="472.87" y="306.20" width="12.62" height="12.59" fill="#3770aa"/><rect x="485.44" y="306.20" width="12.62" height="12.59" fill="#b2d5e7"/><rect x="498.01" y="306.20" width="12.62" height="12.59" fill="#b2d5e7"/><rect x="510.58" y="306.20" width="12.62" height="12.59" fill="#faf0ea"/><rect x="523.14" y="306.20" width="12.62" height="12.59" fill="#e2eef4"/><rect x="535.71" y="306.20" width="12.62" height="12.59" fill="#b2d5e7"/><rect x="548.28" y="306.20" width="12.62" height="12.59" fill="#93c4de"/><rect x="560.85" y="306.20" width="12.62" height="12.59" fill="#b2d5e7"/><rect x="573.42" y="306.20" width="12.62" height="12.59" fill="#c5dfed"/><rect x="585.98" y="306.20" width="12.62" height="12.59" fill="#b2d5e7"/><rect x="598.55" y="306.20" width="12.62" height="12.59" fill="#c5dfed"/><rect x="611.12" y="306.20" width="12.62" height="12.59" fill="#3c79b6"/><rect x="623.69" y="306.20" width="12.62" height="12.59" fill="#234974"/><rect x="422.60" y="318.74" width="12.62" height="12.59" fill="#faf0ea"/><rect x="447.74" y="318.74" width="12.62" height="12.59" fill="#3c79b6"/><rect x="460.30" y="318.74" width="12.62" height="12.59" fill="#5094c4"/><rect x="472.87" y="318.74" width="12.62" height="12.59" fill="#3c79b6"/><rect x="485.44" y="318.74" width="12.62" height="12.59" fill="#c5dfed"/><rect x="498.01" y="318.74" width="12.62" height="12.59" fill="#c5dfed"/><rect x="510.58" y="318.74" width="12.62" height="12.59" fill="#fbe8dd"/><rect x="523.14" y="318.74" width="12.62" height="12.59" fill="#edf3f6"/><rect x="535.71" y="318.74" width="12.62" height="12.59" fill="#c5dfed"/><rect x="548.28" y="318.74" width="12.62" height="12.59" fill="#a9d1e5"/><rect x="560.85" y="318.74" width="12.62" height="12.59" fill="#d7e8f2"/><rect x="573.42" y="318.74" width="12.62" height="12.59" fill="#d7e8f2"/><rect x="585.98" y="318.74" width="12.62" height="12.59" fill="#c5dfed"/><rect x="598.55" y="318.74" width="12.62" height="12.59" fill="#d7e8f2"/><rect x="611.12" y="318.74" width="12.62" height="12.59" fill="#3c79b6"/><rect x="623.69" y="318.74" width="12.62" height="12.59" fill="#2c5a8b"/><rect x="422.60" y="331.28" width="12.62" height="12.59" fill="#b03043"/><rect x="435.17" y="331.28" width="12.62" height="12.59" fill="#bc3545"/><rect x="460.30" y="331.28" width="12.62" height="12.59" fill="#e8927a"/><rect x="472.87" y="331.28" width="12.62" height="12.59" fill="#faf0ea"/><rect x="485.44" y="331.28" width="12.62" height="12.59" fill="#d15f59"/><rect x="498.01" y="331.28" width="12.62" height="12.59" fill="#c6494e"/><rect x="510.58" y="331.28" width="12.62" height="12.59" fill="#bc3545"/><rect x="523.14" y="331.28" width="12.62" height="12.59" fill="#bc3545"/><rect x="535.71" y="331.28" width="12.62" height="12.59" fill="#c6494e"/><rect x="548.28" y="331.28" width="12.62" height="12.59" fill="#cb5353"/><rect x="560.85" y="331.28" width="12.62" height="12.59" fill="#c6494e"/><rect x="573.42" y="331.28" width="12.62" height="12.59" fill="#c6494e"/><rect x="585.98" y="331.28" width="12.62" height="12.59" fill="#c6494e"/><rect x="598.55" y="331.28" width="12.62" height="12.59" fill="#c6494e"/><rect x="611.12" y="331.28" width="12.62" height="12.59" fill="#f7f8f8"/><rect x="623.69" y="331.28" width="12.62" height="12.59" fill="#cee4ef"/><rect x="422.60" y="343.82" width="12.62" height="12.59" fill="#d15f59"/><rect x="435.17" y="343.82" width="12.62" height="12.59" fill="#d15f59"/><rect x="447.74" y="343.82" width="12.62" height="12.59" fill="#7db6d6"/><rect x="472.87" y="343.82" width="12.62" height="12.59" fill="#a0cde2"/><rect x="485.44" y="343.82" width="12.62" height="12.59" fill="#ed9c81"/><rect x="498.01" y="343.82" width="12.62" height="12.59" fill="#e48973"/><rect x="510.58" y="343.82" width="12.62" height="12.59" fill="#d15f59"/><rect x="523.14" y="343.82" width="12.62" height="12.59" fill="#d6695e"/><rect x="535.71" y="343.82" width="12.62" height="12.59" fill="#e48973"/><rect x="548.28" y="343.82" width="12.62" height="12.59" fill="#ed9c81"/><rect x="560.85" y="343.82" width="12.62" height="12.59" fill="#e48973"/><rect x="573.42" y="343.82" width="12.62" height="12.59" fill="#df7d6a"/><rect x="585.98" y="343.82" width="12.62" height="12.59" fill="#e48973"/><rect x="598.55" y="343.82" width="12.62" height="12.59" fill="#e48973"/><rect x="611.12" y="343.82" width="12.62" height="12.59" fill="#88bdda"/><rect x="623.69" y="343.82" width="12.62" height="12.59" fill="#4a8cc0"/><rect x="422.60" y="356.36" width="12.62" height="12.59" fill="#b03043"/><rect x="435.17" y="356.36" width="12.62" height="12.59" fill="#bc3545"/><rect x="447.74" y="356.36" width="12.62" height="12.59" fill="#edf3f6"/><rect x="460.30" y="356.36" width="12.62" height="12.59" fill="#f5b192"/><rect x="485.44" y="356.36" width="12.62" height="12.59" fill="#c6494e"/><rect x="498.01" y="356.36" width="12.62" height="12.59" fill="#c6494e"/><rect x="510.58" y="356.36" width="12.62" height="12.59" fill="#bc3545"/><rect x="523.14" y="356.36" width="12.62" height="12.59" fill="#c6494e"/><rect x="535.71" y="356.36" width="12.62" height="12.59" fill="#c6494e"/><rect x="548.28" y="356.36" width="12.62" height="12.59" fill="#cb5353"/><rect x="560.85" y="356.36" width="12.62" height="12.59" fill="#c6494e"/><rect x="573.42" y="356.36" width="12.62" height="12.59" fill="#c6494e"/><rect x="585.98" y="356.36" width="12.62" height="12.59" fill="#c6494e"/><rect x="598.55" y="356.36" width="12.62" height="12.59" fill="#c6494e"/><rect x="611.12" y="356.36" width="12.62" height="12.59" fill="#edf3f6"/><rect x="623.69" y="356.36" width="12.62" height="12.59" fill="#b2d5e7"/><rect x="422.60" y="368.90" width="12.62" height="12.59" fill="#f8c0a5"/><rect x="435.17" y="368.90" width="12.62" height="12.59" fill="#fbd0bb"/><rect x="447.74" y="368.90" width="12.62" height="12.59" fill="#5094c4"/><rect x="460.30" y="368.90" width="12.62" height="12.59" fill="#88bdda"/><rect x="472.87" y="368.90" width="12.62" height="12.59" fill="#4686bd"/><rect x="498.01" y="368.90" width="12.62" height="12.59" fill="#faf0ea"/><rect x="510.58" y="368.90" width="12.62" height="12.59" fill="#f8c0a5"/><rect x="523.14" y="368.90" width="12.62" height="12.59" fill="#fddfce"/><rect x="535.71" y="368.90" width="12.62" height="12.59" fill="#faf0ea"/><rect x="548.28" y="368.90" width="12.62" height="12.59" fill="#edf3f6"/><rect x="560.85" y="368.90" width="12.62" height="12.59" fill="#faf0ea"/><rect x="573.42" y="368.90" width="12.62" height="12.59" fill="#fbe8dd"/><rect x="585.98" y="368.90" width="12.62" height="12.59" fill="#faf0ea"/><rect x="598.55" y="368.90" width="12.62" height="12.59" fill="#faf0ea"/><rect x="611.12" y="368.90" width="12.62" height="12.59" fill="#5094c4"/><rect x="623.69" y="368.90" width="12.62" height="12.59" fill="#3369a0"/><rect x="422.60" y="381.44" width="12.62" height="12.59" fill="#f8c0a5"/><rect x="435.17" y="381.44" width="12.62" height="12.59" fill="#fbd0bb"/><rect x="447.74" y="381.44" width="12.62" height="12.59" fill="#4686bd"/><rect x="460.30" y="381.44" width="12.62" height="12.59" fill="#72afd3"/><rect x="472.87" y="381.44" width="12.62" height="12.59" fill="#4686bd"/><rect x="485.44" y="381.44" width="12.62" height="12.59" fill="#edf3f6"/><rect x="510.58" y="381.44" width="12.62" height="12.59" fill="#f8c0a5"/><rect x="523.14" y="381.44" width="12.62" height="12.59" fill="#fddfce"/><rect x="535.71" y="381.44" width="12.62" height="12.59" fill="#f7f8f8"/><rect x="548.28" y="381.44" width="12.62" height="12.59" fill="#e2eef4"/><rect x="560.85" y="381.44" width="12.62" height="12.59" fill="#faf0ea"/><rect x="573.42" y="381.44" width="12.62" height="12.59" fill="#faf0ea"/><rect x="585.98" y="381.44" width="12.62" height="12.59" fill="#f7f8f8"/><rect x="598.55" y="381.44" width="12.62" height="12.59" fill="#f7f8f8"/><rect x="611.12" y="381.44" width="12.62" height="12.59" fill="#4686bd"/><rect x="623.69" y="381.44" width="12.62" height="12.59" fill="#3369a0"/><rect x="422.60" y="393.98" width="12.62" height="12.59" fill="#edf3f6"/><rect x="435.17" y="393.98" width="12.62" height="12.59" fill="#e2eef4"/><rect x="447.74" y="393.98" width="12.62" height="12.59" fill="#3c79b6"/><rect x="460.30" y="393.98" width="12.62" height="12.59" fill="#5094c4"/><rect x="472.87" y="393.98" width="12.62" height="12.59" fill="#3c79b6"/><rect x="485.44" y="393.98" width="12.62" height="12.59" fill="#b2d5e7"/><rect x="498.01" y="393.98" width="12.62" height="12.59" fill="#b2d5e7"/><rect x="523.14" y="393.98" width="12.62" height="12.59" fill="#d7e8f2"/><rect x="535.71" y="393.98" width="12.62" height="12.59" fill="#b2d5e7"/><rect x="548.28" y="393.98" width="12.62" height="12.59" fill="#a0cde2"/><rect x="560.85" y="393.98" width="12.62" height="12.59" fill="#b2d5e7"/><rect x="573.42" y="393.98" width="12.62" height="12.59" fill="#c5dfed"/><rect x="585.98" y="393.98" width="12.62" height="12.59" fill="#b2d5e7"/><rect x="598.55" y="393.98" width="12.62" height="12.59" fill="#c5dfed"/><rect x="611.12" y="393.98" width="12.62" height="12.59" fill="#3c79b6"/><rect x="623.69" y="393.98" width="12.62" height="12.59" fill="#27507e"/><rect x="422.60" y="406.52" width="12.62" height="12.59" fill="#fbe8dd"/><rect x="435.17" y="406.52" width="12.62" height="12.59" fill="#faf0ea"/><rect x="447.74" y="406.52" width="12.62" height="12.59" fill="#3c79b6"/><rect x="460.30" y="406.52" width="12.62" height="12.59" fill="#559ac7"/><rect x="472.87" y="406.52" width="12.62" height="12.59" fill="#4686bd"/><rect x="485.44" y="406.52" width="12.62" height="12.59" fill="#d7e8f2"/><rect x="498.01" y="406.52" width="12.62" height="12.59" fill="#d7e8f2"/><rect x="510.58" y="406.52" width="12.62" height="12.59" fill="#fddfce"/><rect x="535.71" y="406.52" width="12.62" height="12.59" fill="#d7e8f2"/><rect x="548.28" y="406.52" width="12.62" height="12.59" fill="#b2d5e7"/><rect x="560.85" y="406.52" width="12.62" height="12.59" fill="#d7e8f2"/><rect x="573.42" y="406.52" width="12.62" height="12.59" fill="#e2eef4"/><rect x="585.98" y="406.52" width="12.62" height="12.59" fill="#d7e8f2"/><rect x="598.55" y="406.52" width="12.62" height="12.59" fill="#e2eef4"/><rect x="611.12" y="406.52" width="12.62" height="12.59" fill="#417fba"/><rect x="623.69" y="406.52" width="12.62" height="12.59" fill="#2c5a8b"/><rect x="422.60" y="419.06" width="12.62" height="12.59" fill="#f8c0a5"/><rect x="435.17" y="419.06" width="12.62" height="12.59" fill="#fbd0bb"/><rect x="447.74" y="419.06" width="12.62" height="12.59" fill="#4686bd"/><rect x="460.30" y="419.06" width="12.62" height="12.59" fill="#72afd3"/><rect x="472.87" y="419.06" width="12.62" height="12.59" fill="#4686bd"/><rect x="485.44" y="419.06" width="12.62" height="12.59" fill="#edf3f6"/><rect x="498.01" y="419.06" width="12.62" height="12.59" fill="#f7f8f8"/><rect x="510.58" y="419.06" width="12.62" height="12.59" fill="#f8c0a5"/><rect x="523.14" y="419.06" width="12.62" height="12.59" fill="#fddfce"/><rect x="548.28" y="419.06" width="12.62" height="12.59" fill="#dcebf3"/><rect x="560.85" y="419.06" width="12.62" height="12.59" fill="#f7f8f8"/><rect x="573.42" y="419.06" width="12.62" height="12.59" fill="#faf0ea"/><rect x="585.98" y="419.06" width="12.62" height="12.59" fill="#f7f8f8"/><rect x="598.55" y="419.06" width="12.62" height="12.59" fill="#f7f8f8"/><rect x="611.12" y="419.06" width="12.62" height="12.59" fill="#4686bd"/><rect x="623.69" y="419.06" width="12.62" height="12.59" fill="#2c5a8b"/><rect x="422.60" y="431.60" width="12.62" height="12.59" fill="#f1a589"/><rect x="435.17" y="431.60" width="12.62" height="12.59" fill="#f7b89c"/><rect x="447.74" y="431.60" width="12.62" height="12.59" fill="#4a8cc0"/><rect x="460.30" y="431.60" width="12.62" height="12.59" fill="#88bdda"/><rect x="472.87" y="431.60" width="12.62" height="12.59" fill="#4a8cc0"/><rect x="485.44" y="431.60" width="12.62" height="12.59" fill="#faf0ea"/><rect x="498.01" y="431.60" width="12.62" height="12.59" fill="#fbe8dd"/><rect x="510.58" y="431.60" width="12.62" height="12.59" fill="#f5b192"/><rect x="523.14" y="431.60" width="12.62" height="12.59" fill="#f8c0a5"/><rect x="535.71" y="431.60" width="12.62" height="12.59" fill="#fce3d4"/><rect x="560.85" y="431.60" width="12.62" height="12.59" fill="#fddfce"/><rect x="573.42" y="431.60" width="12.62" height="12.59" fill="#fddfce"/><rect x="585.98" y="431.60" width="12.62" height="12.59" fill="#fbe8dd"/><rect x="598.55" y="431.60" width="12.62" height="12.59" fill="#fbe8dd"/><rect x="611.12" y="431.60" width="12.62" height="12.59" fill="#5094c4"/><rect x="623.69" y="431.60" width="12.62" height="12.59" fill="#3369a0"/><rect x="422.60" y="444.14" width="12.62" height="12.59" fill="#f8c0a5"/><rect x="435.17" y="444.14" width="12.62" height="12.59" fill="#fddfce"/><rect x="447.74" y="444.14" width="12.62" height="12.59" fill="#4686bd"/><rect x="460.30" y="444.14" width="12.62" height="12.59" fill="#72afd3"/><rect x="472.87" y="444.14" width="12.62" height="12.59" fill="#4686bd"/><rect x="485.44" y="444.14" width="12.62" height="12.59" fill="#edf3f6"/><rect x="498.01" y="444.14" width="12.62" height="12.59" fill="#edf3f6"/><rect x="510.58" y="444.14" width="12.62" height="12.59" fill="#f8c0a5"/><rect x="523.14" y="444.14" width="12.62" height="12.59" fill="#fddfce"/><rect x="535.71" y="444.14" width="12.62" height="12.59" fill="#f7f8f8"/><rect x="548.28" y="444.14" width="12.62" height="12.59" fill="#d7e8f2"/><rect x="573.42" y="444.14" width="12.62" height="12.59" fill="#faf0ea"/><rect x="585.98" y="444.14" width="12.62" height="12.59" fill="#f7f8f8"/><rect x="598.55" y="444.14" width="12.62" height="12.59" fill="#f7f8f8"/><rect x="611.12" y="444.14" width="12.62" height="12.59" fill="#4686bd"/><rect x="623.69" y="444.14" width="12.62" height="12.59" fill="#306196"/><rect x="422.60" y="456.68" width="12.62" height="12.59" fill="#fbd0bb"/><rect x="435.17" y="456.68" width="12.62" height="12.59" fill="#fddfce"/><rect x="447.74" y="456.68" width="12.62" height="12.59" fill="#4686bd"/><rect x="460.30" y="456.68" width="12.62" height="12.59" fill="#64a7ce"/><rect x="472.87" y="456.68" width="12.62" height="12.59" fill="#4686bd"/><rect x="485.44" y="456.68" width="12.62" height="12.59" fill="#e2eef4"/><rect x="498.01" y="456.68" width="12.62" height="12.59" fill="#edf3f6"/><rect x="510.58" y="456.68" width="12.62" height="12.59" fill="#fbd0bb"/><rect x="523.14" y="456.68" width="12.62" height="12.59" fill="#fbe8dd"/><rect x="535.71" y="456.68" width="12.62" height="12.59" fill="#edf3f6"/><rect x="548.28" y="456.68" width="12.62" height="12.59" fill="#d7e8f2"/><rect x="560.85" y="456.68" width="12.62" height="12.59" fill="#edf3f6"/><rect x="585.98" y="456.68" width="12.62" height="12.59" fill="#edf3f6"/><rect x="598.55" y="456.68" width="12.62" height="12.59" fill="#edf3f6"/><rect x="611.12" y="456.68" width="12.62" height="12.59" fill="#417fba"/><rect x="623.69" y="456.68" width="12.62" height="12.59" fill="#2c5a8b"/><rect x="422.60" y="469.22" width="12.62" height="12.59" fill="#f8c0a5"/><rect x="435.17" y="469.22" width="12.62" height="12.59" fill="#fbd0bb"/><rect x="447.74" y="469.22" width="12.62" height="12.59" fill="#4686bd"/><rect x="460.30" y="469.22" width="12.62" height="12.59" fill="#72afd3"/><rect x="472.87" y="469.22" width="12.62" height="12.59" fill="#4686bd"/><rect x="485.44" y="469.22" width="12.62" height="12.59" fill="#edf3f6"/><rect x="498.01" y="469.22" width="12.62" height="12.59" fill="#f7f8f8"/><rect x="510.58" y="469.22" width="12.62" height="12.59" fill="#f8c0a5"/><rect x="523.14" y="469.22" width="12.62" height="12.59" fill="#fddfce"/><rect x="535.71" y="469.22" width="12.62" height="12.59" fill="#f7f8f8"/><rect x="548.28" y="469.22" width="12.62" height="12.59" fill="#e2eef4"/><rect x="560.85" y="469.22" width="12.62" height="12.59" fill="#f7f8f8"/><rect x="573.42" y="469.22" width="12.62" height="12.59" fill="#faf0ea"/><rect x="598.55" y="469.22" width="12.62" height="12.59" fill="#f7f8f8"/><rect x="611.12" y="469.22" width="12.62" height="12.59" fill="#4686bd"/><rect x="623.69" y="469.22" width="12.62" height="12.59" fill="#2c5a8b"/><rect x="422.60" y="481.76" width="12.62" height="12.59" fill="#fbd0bb"/><rect x="435.17" y="481.76" width="12.62" height="12.59" fill="#fddfce"/><rect x="447.74" y="481.76" width="12.62" height="12.59" fill="#4686bd"/><rect x="460.30" y="481.76" width="12.62" height="12.59" fill="#72afd3"/><rect x="472.87" y="481.76" width="12.62" height="12.59" fill="#4686bd"/><rect x="485.44" y="481.76" width="12.62" height="12.59" fill="#edf3f6"/><rect x="498.01" y="481.76" width="12.62" height="12.59" fill="#f7f8f8"/><rect x="510.58" y="481.76" width="12.62" height="12.59" fill="#fbd0bb"/><rect x="523.14" y="481.76" width="12.62" height="12.59" fill="#fbe8dd"/><rect x="535.71" y="481.76" width="12.62" height="12.59" fill="#f7f8f8"/><rect x="548.28" y="481.76" width="12.62" height="12.59" fill="#e2eef4"/><rect x="560.85" y="481.76" width="12.62" height="12.59" fill="#f7f8f8"/><rect x="573.42" y="481.76" width="12.62" height="12.59" fill="#faf0ea"/><rect x="585.98" y="481.76" width="12.62" height="12.59" fill="#f7f8f8"/><rect x="611.12" y="481.76" width="12.62" height="12.59" fill="#4a8cc0"/><rect x="623.69" y="481.76" width="12.62" height="12.59" fill="#3369a0"/><rect x="422.60" y="494.30" width="12.62" height="12.59" fill="#bc3545"/><rect x="435.17" y="494.30" width="12.62" height="12.59" fill="#bc3545"/><rect x="447.74" y="494.30" width="12.62" height="12.59" fill="#f7f8f8"/><rect x="460.30" y="494.30" width="12.62" height="12.59" fill="#ed9c81"/><rect x="472.87" y="494.30" width="12.62" height="12.59" fill="#faf0ea"/><rect x="485.44" y="494.30" width="12.62" height="12.59" fill="#d15f59"/><rect x="498.01" y="494.30" width="12.62" height="12.59" fill="#c6494e"/><rect x="510.58" y="494.30" width="12.62" height="12.59" fill="#bc3545"/><rect x="523.14" y="494.30" width="12.62" height="12.59" fill="#c13f4a"/><rect x="535.71" y="494.30" width="12.62" height="12.59" fill="#c6494e"/><rect x="548.28" y="494.30" width="12.62" height="12.59" fill="#d15f59"/><rect x="560.85" y="494.30" width="12.62" height="12.59" fill="#c6494e"/><rect x="573.42" y="494.30" width="12.62" height="12.59" fill="#c13f4a"/><rect x="585.98" y="494.30" width="12.62" height="12.59" fill="#c6494e"/><rect x="598.55" y="494.30" width="12.62" height="12.59" fill="#cb5353"/><rect x="623.69" y="494.30" width="12.62" height="12.59" fill="#b2d5e7"/><rect x="422.60" y="506.84" width="12.62" height="12.59" fill="#791f3a"/><rect x="435.17" y="506.84" width="12.62" height="12.59" fill="#91263e"/><rect x="447.74" y="506.84" width="12.62" height="12.59" fill="#fcd8c4"/><rect x="460.30" y="506.84" width="12.62" height="12.59" fill="#cb5353"/><rect x="472.87" y="506.84" width="12.62" height="12.59" fill="#f8c0a5"/><rect x="485.44" y="506.84" width="12.62" height="12.59" fill="#a52d41"/><rect x="498.01" y="506.84" width="12.62" height="12.59" fill="#a52d41"/><rect x="510.58" y="506.84" width="12.62" height="12.59" fill="#84223c"/><rect x="523.14" y="506.84" width="12.62" height="12.59" fill="#91263e"/><rect x="535.71" y="506.84" width="12.62" height="12.59" fill="#91263e"/><rect x="548.28" y="506.84" width="12.62" height="12.59" fill="#a52d41"/><rect x="560.85" y="506.84" width="12.62" height="12.59" fill="#9b293f"/><rect x="573.42" y="506.84" width="12.62" height="12.59" fill="#91263e"/><rect x="585.98" y="506.84" width="12.62" height="12.59" fill="#91263e"/><rect x="598.55" y="506.84" width="12.62" height="12.59" fill="#a52d41"/><rect x="611.12" y="506.84" width="12.62" height="12.59" fill="#f8c0a5"/><text x="441.45" y="314.27" fill="#262626" stroke="#262626" text-anchor="middle" textLength="8.43" lengthAdjust="spacingAndGlyphs">0.1</text><text x="454.02" y="314.27" fill="#ffffff" stroke="#ffffff" text-anchor="middle" textLength="8.43" lengthAdjust="spacingAndGlyphs">1.3</text><text x="466.59" y="314.27" fill="#ffffff" stroke="#ffffff" text-anchor="middle" textLength="8.43" lengthAdjust="spacingAndGlyphs">1.0</text><text x="479.16" y="314.27" fill="#ffffff" stroke="#ffffff" text-anchor="middle" textLength="8.43" lengthAdjust="spacingAndGlyphs">1.3</text><text x="491.72" y="314.27" fill="#262626" stroke="#262626" text-anchor="middle" textLength="8.43" lengthAdjust="spacingAndGlyphs">0.5</text><text x="504.29" y="314.27" fill="#262626" stroke="#262626" text-anchor="middle" textLength="8.43" lengthAdjust="spacingAndGlyphs">0.5</text><text x="516.86" y="314.27" fill="#262626" stroke="#262626" text-anchor="middle" textLength="10.34" lengthAdjust="spacingAndGlyphs">-0.1</text><text x="529.43" y="314.27" fill="#262626" stroke="#262626" text-anchor="middle" textLength="8.43" lengthAdjust="spacingAndGlyphs">0.2</text><text x="542.00" y="314.27" fill="#262626" stroke="#262626" text-anchor="middle" textLength="8.43" lengthAdjust="spacingAndGlyphs">0.5</text><text x="554.56" y="314.27" fill="#262626" stroke="#262626" text-anchor="middle" textLength="8.43" lengthAdjust="spacingAndGlyphs">0.7</text><text x="567.13" y="314.27" fill="#262626" stroke="#262626" text-anchor="middle" textLength="8.43" lengthAdjust="spacingAndGlyphs">0.5</text><text x="579.70" y="314.27" fill="#262626" stroke="#262626" text-anchor="middle" textLength="8.43" lengthAdjust="spacingAndGlyphs">0.4</text><text x="592.27" y="314.27" fill="#262626" stroke="#262626" text-anchor="middle" textLength="8.43" lengthAdjust="spacingAndGlyphs">0.5</text><text x="604.84" y="314.27" fill="#262626" stroke="#262626" text-anchor="middle" textLength="8.43" lengthAdjust="spacingAndGlyphs">0.4</text><text x="617.40" y="314.27" fill="#ffffff" stroke="#ffffff" text-anchor="middle" textLength="8.43" lengthAdjust="spacingAndGlyphs">1.2</text><text x="629.97" y="314.27" fill="#ffffff" stroke="#ffffff" text-anchor="middle" textLength="8.43" lengthAdjust="spacingAndGlyphs">1.5</text><text x="428.88" y="326.81" fill="#262626" stroke="#262626" text-anchor="middle" textLength="10.34" lengthAdjust="spacingAndGlyphs">-0.1</text><text x="454.02" y="326.81" fill="#ffffff" stroke="#ffffff" text-anchor="middle" textLength="8.43" lengthAdjust="spacingAndGlyphs">1.2</text><text x="466.59" y="326.81" fill="#ffffff" stroke="#ffffff" text-anchor="middle" textLength="8.43" lengthAdjust="spacingAndGlyphs">1.0</text><text x="479.16" y="326.81" fill="#ffffff" stroke="#ffffff" text-anchor="middle" textLength="8.43" lengthAdjust="spacingAndGlyphs">1.2</text><text x="491.72" y="326.81" fill="#262626" stroke="#262626" text-anchor="middle" textLength="8.43" lengthAdjust="spacingAndGlyphs">0.4</text><text x="504.29" y="326.81" fill="#262626" stroke="#262626" text-anchor="middle" textLength="8.43" lengthAdjust="spacingAndGlyphs">0.4</text><text x="516.86" y="326.81" fill="#262626" stroke="#262626" text-anchor="middle" textLength="10.34" lengthAdjust="spacingAndGlyphs">-0.2</text><text x="529.43" y="326.81" fill="#262626" stroke="#262626" text-anchor="middle" textLength="8.43" lengthAdjust="spacingAndGlyphs">0.1</text><text x="542.00" y="326.81" fill="#262626" stroke="#262626" text-anchor="middle" textLength="8.43" lengthAdjust="spacingAndGlyphs">0.4</text><text x="554.56" y="326.81" fill="#262626" stroke="#262626" text-anchor="middle" textLength="8.43" lengthAdjust="spacingAndGlyphs">0.5</text><text x="567.13" y="326.81" fill="#262626" stroke="#262626" text-anchor="middle" textLength="8.43" lengthAdjust="spacingAndGlyphs">0.3</text><text x="579.70" y="326.81" fill="#262626" stroke="#262626" text-anchor="middle" textLength="8.43" lengthAdjust="spacingAndGlyphs">0.3</text><text x="592.27" y="326.81" fill="#262626" stroke="#262626" text-anchor="middle" textLength="8.43" lengthAdjust="spacingAndGlyphs">0.4</text><text x="604.84" y="326.81" fill="#262626" stroke="#262626" text-anchor="middle" textLength="8.43" lengthAdjust="spacingAndGlyphs">0.3</text><text x="617.40" y="326.81" fill="#ffffff" stroke="#ffffff" text-anchor="middle" textLength="8.43" lengthAdjust="spacingAndGlyphs">1.2</text><text x="629.97" y="326.81" fill="#ffffff" stroke="#ffffff" text-anchor="middle" textLength="8.43" lengthAdjust="spacingAndGlyphs">1.4</text><text x="428.88" y="339.35" fill="#ffffff" stroke="#ffffff" text-anchor="middle" textLength="10.34" lengthAdjust="spacingAndGlyphs">-1.2</text><text x="441.45" y="339.35" fill="#ffffff" stroke="#ffffff" text-anchor="middle" textLength="10.34" lengthAdjust="spacingAndGlyphs">-1.2</text><text x="466.59" y="339.35" fill="#ffffff" stroke="#ffffff" text-anchor="middle" textLength="10.34" lengthAdjust="spacingAndGlyphs">-0.8</text><text x="479.16" y="339.35" fill="#262626" stroke="#262626" text-anchor="middle" textLength="10.34" lengthAdjust="spacingAndGlyphs">-0.1</text><text x="491.72" y="339.35" fill="#ffffff" stroke="#ffffff" text-anchor="middle" textLength="10.34" lengthAdjust="spacingAndGlyphs">-1.0</text><text x="504.29" y="339.35" fill="#ffffff" stroke="#ffffff" text-anchor="middle" textLength="10.34" lengthAdjust="spacingAndGlyphs">-1.1</text><text x="516.86" y="339.35" fill="#ffffff" stroke="#ffffff" text-anchor="middle" textLength="10.34" lengthAdjust="spacingAndGlyphs">-1.2</text><text x="529.43" y="339.35" fill="#ffffff" stroke="#ffffff" text-anchor="middle" textLength="10.34" lengthAdjust="spacingAndGlyphs">-1.2</text><text x="542.00" y="339.35" fill="#ffffff" stroke="#ffffff" text-anchor="middle" textLength="10.34" lengthAdjust="spacingAndGlyphs">-1.1</text><text x="554.56" y="339.35" fill="#ffffff" stroke="#ffffff" text-anchor="middle" textLength="10.34" lengthAdjust="spacingAndGlyphs">-1.1</text><text x="567.13" y="339.35" fill="#ffffff" stroke="#ffffff" text-anchor="middle" textLength="10.34" lengthAdjust="spacingAndGlyphs">-1.1</text><text x="579.70" y="339.35" fill="#ffffff" stroke="#ffffff" text-anchor="middle" textLength="10.34" lengthAdjust="spacingAndGlyphs">-1.1</text><text x="592.27" y="339.35" fill="#ffffff" stroke="#ffffff" text-anchor="middle" textLength="10.34" lengthAdjust="spacingAndGlyphs">-1.1</text><text x="604.84" y="339.35" fill="#ffffff" stroke="#ffffff" text-anchor="middle" textLength="10.34" lengthAdjust="spacingAndGlyphs">-1.1</text><text x="617.40" y="339.35" fill="#262626" stroke="#262626" text-anchor="middle" textLength="8.43" lengthAdjust="spacingAndGlyphs">0.0</text><text x="629.97" y="339.35" fill="#262626" stroke="#262626" text-anchor="middle" textLength="8.43" lengthAdjust="spacingAndGlyphs">0.3</text><text x="428.88" y="351.89" fill="#ffffff" stroke="#ffffff" text-anchor="middle" textLength="10.34" lengthAdjust="spacingAndGlyphs">-1.0</text><text x="441.45" y="351.89" fill="#ffffff" stroke="#ffffff" text-anchor="middle" textLength="10.34" lengthAdjust="spacingAndGlyphs">-1.0</text><text x="454.02" y="351.89" fill="#262626" stroke="#262626" text-anchor="middle" textLength="8.43" lengthAdjust="spacingAndGlyphs">0.7</text><text x="479.16" y="351.89" fill="#262626" stroke="#262626" text-anchor="middle" textLength="8.43" lengthAdjust="spacingAndGlyphs">0.6</text><text x="491.72" y="351.89" fill="#ffffff" stroke="#ffffff" text-anchor="middle" textLength="10.34" lengthAdjust="spacingAndGlyphs">-0.7</text><text x="504.29" y="351.89" fill="#ffffff" stroke="#ffffff" text-anchor="middle" textLength="10.34" lengthAdjust="spacingAndGlyphs">-0.8</text><text x="516.86" y="351.89" fill="#ffffff" stroke="#ffffff" text-anchor="middle" textLength="10.34" lengthAdjust="spacingAndGlyphs">-1.0</text><text x="529.43" y="351.89" fill="#ffffff" stroke="#ffffff" text-anchor="middle" textLength="10.34" lengthAdjust="spacingAndGlyphs">-0.9</text><text x="542.00" y="351.89" fill="#ffffff" stroke="#ffffff" text-anchor="middle" textLength="10.34" lengthAdjust="spacingAndGlyphs">-0.8</text><text x="554.56" y="351.89" fill="#ffffff" stroke="#ffffff" text-anchor="middle" textLength="10.34" lengthAdjust="spacingAndGlyphs">-0.7</text><text x="567.13" y="351.89" fill="#ffffff" stroke="#ffffff" text-anchor="middle" textLength="10.34" lengthAdjust="spacingAndGlyphs">-0.8</text><text x="579.70" y="351.89" fill="#ffffff" stroke="#ffffff" text-anchor="middle" textLength="10.34" lengthAdjust="spacingAndGlyphs">-0.9</text><text x="592.27" y="351.89" fill="#ffffff" stroke="#ffffff" text-anchor="middle" textLength="10.34" lengthAdjust="spacingAndGlyphs">-0.8</text><text x="604.84" y="351.89" fill="#ffffff" stroke="#ffffff" text-anchor="middle" textLength="10.34" lengthAdjust="spacingAndGlyphs">-0.8</text><text x="617.40" y="351.89" fill="#262626" stroke="#262626" text-anchor="middle" textLength="8.43" lengthAdjust="spacingAndGlyphs">0.7</text><text x="629.97" y="351.89" fill="#ffffff" stroke="#ffffff" text-anchor="middle" textLength="8.43" lengthAdjust="spacingAndGlyphs">1.0</text><text x="428.88" y="364.43" fill="#ffffff" stroke="#ffffff" text-anchor="middle" textLength="10.34" lengthAdjust="spacingAndGlyphs">-1.2</text><text x="441.45" y="364.43" fill="#ffffff" stroke="#ffffff" text-anchor="middle" textLength="10.34" lengthAdjust="spacingAndGlyphs">-1.2</text><text x="454.02" y="364.43" fill="#262626" stroke="#262626" text-anchor="middle" textLength="8.43" lengthAdjust="spacingAndGlyphs">0.1</text><text x="466.59" y="364.43" fill="#262626" stroke="#262626" text-anchor="middle" textLength="10.34" lengthAdjust="spacingAndGlyphs">-0.6</text><text x="491.72" y="364.43" fill="#ffffff" stroke="#ffffff" text-anchor="middle" textLength="10.34" lengthAdjust="spacingAndGlyphs">-1.1</text><text x="504.29" y="364.43" fill="#ffffff" stroke="#ffffff" text-anchor="middle" textLength="10.34" lengthAdjust="spacingAndGlyphs">-1.1</text><text x="516.86" y="364.43" fill="#ffffff" stroke="#ffffff" text-anchor="middle" textLength="10.34" lengthAdjust="spacingAndGlyphs">-1.2</text><text x="529.43" y="364.43" fill="#ffffff" stroke="#ffffff" text-anchor="middle" textLength="10.34" lengthAdjust="spacingAndGlyphs">-1.1</text><text x="542.00" y="364.43" fill="#ffffff" stroke="#ffffff" text-anchor="middle" textLength="10.34" lengthAdjust="spacingAndGlyphs">-1.1</text><text x="554.56" y="364.43" fill="#ffffff" stroke="#ffffff" text-anchor="middle" textLength="10.34" lengthAdjust="spacingAndGlyphs">-1.0</text><text x="567.13" y="364.43" fill="#ffffff" stroke="#ffffff" text-anchor="middle" textLength="10.34" lengthAdjust="spacingAndGlyphs">-1.1</text><text x="579.70" y="364.43" fill="#ffffff" stroke="#ffffff" text-anchor="middle" textLength="10.34" lengthAdjust="spacingAndGlyphs">-1.1</text><text x="592.27" y="364.43" fill="#ffffff" stroke="#ffffff" text-anchor="middle" textLength="10.34" lengthAdjust="spacingAndGlyphs">-1.1</text><text x="604.84" y="364.43" fill="#ffffff" stroke="#ffffff" text-anchor="middle" textLength="10.34" lengthAdjust="spacingAndGlyphs">-1.1</text><text x="617.40" y="364.43" fill="#262626" stroke="#262626" text-anchor="middle" textLength="8.43" lengthAdjust="spacingAndGlyphs">0.1</text><text x="629.97" y="364.43" fill="#262626" stroke="#262626" text-anchor="middle" textLength="8.43" lengthAdjust="spacingAndGlyphs">0.5</text><text x="428.88" y="376.97" fill="#262626" stroke="#262626" text-anchor="middle" textLength="10.34" lengthAdjust="spacingAndGlyphs">-0.5</text><text x="441.45" y="376.97" fill="#262626" stroke="#262626" text-anchor="middle" textLength="10.34" lengthAdjust="spacingAndGlyphs">-0.4</text><text x="454.02" y="376.97" fill="#ffffff" stroke="#ffffff" text-anchor="middle" textLength="8.43" lengthAdjust="spacingAndGlyphs">1.0</text><text x="466.59" y="376.97" fill="#ffffff" stroke="#ffffff" text-anchor="middle" textLength="8.43" lengthAdjust="spacingAndGlyphs">0.7</text><text x="479.16" y="376.97" fill="#ffffff" stroke="#ffffff" text-anchor="middle" textLength="8.43" lengthAdjust="spacingAndGlyphs">1.1</text><text x="504.29" y="376.97" fill="#262626" stroke="#262626" text-anchor="middle" textLength="10.34" lengthAdjust="spacingAndGlyphs">-0.1</text><text x="516.86" y="376.97" fill="#262626" stroke="#262626" text-anchor="middle" textLength="10.34" lengthAdjust="spacingAndGlyphs">-0.5</text><text x="529.43" y="376.97" fill="#262626" stroke="#262626" text-anchor="middle" textLength="10.34" lengthAdjust="spacingAndGlyphs">-0.3</text><text x="542.00" y="376.97" fill="#262626" stroke="#262626" text-anchor="middle" textLength="10.34" lengthAdjust="spacingAndGlyphs">-0.1</text><text x="554.56" y="376.97" fill="#262626" stroke="#262626" text-anchor="middle" textLength="8.43" lengthAdjust="spacingAndGlyphs">0.1</text><text x="567.13" y="376.97" fill="#262626" stroke="#262626" text-anchor="middle" textLength="10.34" lengthAdjust="spacingAndGlyphs">-0.1</text><text x="579.70" y="376.97" fill="#262626" stroke="#262626" text-anchor="middle" textLength="10.34" lengthAdjust="spacingAndGlyphs">-0.2</text><text x="592.27" y="376.97" fill="#262626" stroke="#262626" text-anchor="middle" textLength="10.34" lengthAdjust="spacingAndGlyphs">-0.1</text><text x="604.84" y="376.97" fill="#262626" stroke="#262626" text-anchor="middle" textLength="10.34" lengthAdjust="spacingAndGlyphs">-0.1</text><text x="617.40" y="376.97" fill="#ffffff" stroke="#ffffff" text-anchor="middle" textLength="8.43" lengthAdjust="spacingAndGlyphs">1.0</text><text x="629.97" y="376.97" fill="#ffffff" stroke="#ffffff" text-anchor="middle" textLength="8.43" lengthAdjust="spacingAndGlyphs">1.3</text><text x="428.88" y="389.51" fill="#262626" stroke="#262626" text-anchor="middle" textLength="10.34" lengthAdjust="spacingAndGlyphs">-0.5</text><text x="441.45" y="389.51" fill="#262626" stroke="#262626" text-anchor="middle" textLength="10.34" lengthAdjust="spacingAndGlyphs">-0.4</text><text x="454.02" y="389.51" fill="#ffffff" stroke="#ffffff" text-anchor="middle" textLength="8.43" lengthAdjust="spacingAndGlyphs">1.1</text><text x="466.59" y="389.51" fill="#ffffff" stroke="#ffffff" text-anchor="middle" textLength="8.43" lengthAdjust="spacingAndGlyphs">0.8</text><text x="479.16" y="389.51" fill="#ffffff" stroke="#ffffff" text-anchor="middle" textLength="8.43" lengthAdjust="spacingAndGlyphs">1.1</text><text x="491.72" y="389.51" fill="#262626" stroke="#262626" text-anchor="middle" textLength="8.43" lengthAdjust="spacingAndGlyphs">0.1</text><text x="516.86" y="389.51" fill="#262626" stroke="#262626" text-anchor="middle" textLength="10.34" lengthAdjust="spacingAndGlyphs">-0.5</text><text x="529.43" y="389.51" fill="#262626" stroke="#262626" text-anchor="middle" textLength="10.34" lengthAdjust="spacingAndGlyphs">-0.3</text><text x="542.00" y="389.51" fill="#262626" stroke="#262626" text-anchor="middle" textLength="10.34" lengthAdjust="spacingAndGlyphs">-0.0</text><text x="554.56" y="389.51" fill="#262626" stroke="#262626" text-anchor="middle" textLength="8.43" lengthAdjust="spacingAndGlyphs">0.2</text><text x="567.13" y="389.51" fill="#262626" stroke="#262626" text-anchor="middle" textLength="10.34" lengthAdjust="spacingAndGlyphs">-0.1</text><text x="579.70" y="389.51" fill="#262626" stroke="#262626" text-anchor="middle" textLength="10.34" lengthAdjust="spacingAndGlyphs">-0.1</text><text x="592.27" y="389.51" fill="#262626" stroke="#262626" text-anchor="middle" textLength="10.34" lengthAdjust="spacingAndGlyphs">-0.0</text><text x="604.84" y="389.51" fill="#262626" stroke="#262626" text-anchor="middle" textLength="10.34" lengthAdjust="spacingAndGlyphs">-0.0</text><text x="617.40" y="389.51" fill="#ffffff" stroke="#ffffff" text-anchor="middle" textLength="8.43" lengthAdjust="spacingAndGlyphs">1.1</text><text x="629.97" y="389.51" fill="#ffffff" stroke="#ffffff" text-anchor="middle" textLength="8.43" lengthAdjust="spacingAndGlyphs">1.3</text><text x="428.88" y="402.05" fill="#262626" stroke="#262626" text-anchor="middle" textLength="8.43" lengthAdjust="spacingAndGlyphs">0.1</text><text x="441.45" y="402.05" fill="#262626" stroke="#262626" text-anchor="middle" textLength="8.43" lengthAdjust="spacingAndGlyphs">0.2</text><text x="454.02" y="402.05" fill="#ffffff" stroke="#ffffff" text-anchor="middle" textLength="8.43" lengthAdjust="spacingAndGlyphs">1.2</text><text x="466.59" y="402.05" fill="#ffffff" stroke="#ffffff" text-anchor="middle" textLength="8.43" lengthAdjust="spacingAndGlyphs">1.0</text><text x="479.16" y="402.05" fill="#ffffff" stroke="#ffffff" text-anchor="middle" textLength="8.43" lengthAdjust="spacingAndGlyphs">1.2</text><text x="491.72" y="402.05" fill="#262626" stroke="#262626" text-anchor="middle" textLength="8.43" lengthAdjust="spacingAndGlyphs">0.5</text><text x="504.29" y="402.05" fill="#262626" stroke="#262626" text-anchor="middle" textLength="8.43" lengthAdjust="spacingAndGlyphs">0.5</text><text x="529.43" y="402.05" fill="#262626" stroke="#262626" text-anchor="middle" textLength="8.43" lengthAdjust="spacingAndGlyphs">0.3</text><text x="542.00" y="402.05" fill="#262626" stroke="#262626" text-anchor="middle" textLength="8.43" lengthAdjust="spacingAndGlyphs">0.5</text><text x="554.56" y="402.05" fill="#262626" stroke="#262626" text-anchor="middle" textLength="8.43" lengthAdjust="spacingAndGlyphs">0.6</text><text x="567.13" y="402.05" fill="#262626" stroke="#262626" text-anchor="middle" textLength="8.43" lengthAdjust="spacingAndGlyphs">0.5</text><text x="579.70" y="402.05" fill="#262626" stroke="#262626" text-anchor="middle" textLength="8.43" lengthAdjust="spacingAndGlyphs">0.4</text><text x="592.27" y="402.05" fill="#262626" stroke="#262626" text-anchor="middle" textLength="8.43" lengthAdjust="spacingAndGlyphs">0.5</text><text x="604.84" y="402.05" fill="#262626" stroke="#262626" text-anchor="middle" textLength="8.43" lengthAdjust="spacingAndGlyphs">0.4</text><text x="617.40" y="402.05" fill="#ffffff" stroke="#ffffff" text-anchor="middle" textLength="8.43" lengthAdjust="spacingAndGlyphs">1.2</text><text x="629.97" y="402.05" fill="#ffffff" stroke="#ffffff" text-anchor="middle" textLength="8.43" lengthAdjust="spacingAndGlyphs">1.5</text><text x="428.88" y="414.59" fill="#262626" stroke="#262626" text-anchor="middle" textLength="10.34" lengthAdjust="spacingAndGlyphs">-0.2</text><text x="441.45" y="414.59" fill="#262626" stroke="#262626" text-anchor="middle" textLength="10.34" lengthAdjust="spacingAndGlyphs">-0.1</text><text x="454.02" y="414.59" fill="#ffffff" stroke="#ffffff" text-anchor="middle" textLength="8.43" lengthAdjust="spacingAndGlyphs">1.2</text><text x="466.59" y="414.59" fill="#ffffff" stroke="#ffffff" text-anchor="middle" textLength="8.43" lengthAdjust="spacingAndGlyphs">1.0</text><text x="479.16" y="414.59" fill="#ffffff" stroke="#ffffff" text-anchor="middle" textLength="8.43" lengthAdjust="spacingAndGlyphs">1.1</text><text x="491.72" y="414.59" fill="#262626" stroke="#262626" text-anchor="middle" textLength="8.43" lengthAdjust="spacingAndGlyphs">0.3</text><text x="504.29" y="414.59" fill="#262626" stroke="#262626" text-anchor="middle" textLength="8.43" lengthAdjust="spacingAndGlyphs">0.3</text><text x="516.86" y="414.59" fill="#262626" stroke="#262626" text-anchor="middle" textLength="10.34" lengthAdjust="spacingAndGlyphs">-0.3</text><text x="542.00" y="414.59" fill="#262626" stroke="#262626" text-anchor="middle" textLength="8.43" lengthAdjust="spacingAndGlyphs">0.3</text><text x="554.56" y="414.59" fill="#262626" stroke="#262626" text-anchor="middle" textLength="8.43" lengthAdjust="spacingAndGlyphs">0.5</text><text x="567.13" y="414.59" fill="#262626" stroke="#262626" text-anchor="middle" textLength="8.43" lengthAdjust="spacingAndGlyphs">0.3</text><text x="579.70" y="414.59" fill="#262626" stroke="#262626" text-anchor="middle" textLength="8.43" lengthAdjust="spacingAndGlyphs">0.2</text><text x="592.27" y="414.59" fill="#262626" stroke="#262626" text-anchor="middle" textLength="8.43" lengthAdjust="spacingAndGlyphs">0.3</text><text x="604.84" y="414.59" fill="#262626" stroke="#262626" text-anchor="middle" textLength="8.43" lengthAdjust="spacingAndGlyphs">0.2</text><text x="617.40" y="414.59" fill="#ffffff" stroke="#ffffff" text-anchor="middle" textLength="8.43" lengthAdjust="spacingAndGlyphs">1.2</text><text x="629.97" y="414.59" fill="#ffffff" stroke="#ffffff" text-anchor="middle" textLength="8.43" lengthAdjust="spacingAndGlyphs">1.4</text><text x="428.88" y="427.13" fill="#262626" stroke="#262626" text-anchor="middle" textLength="10.34" lengthAdjust="spacingAndGlyphs">-0.5</text><text x="441.45" y="427.13" fill="#262626" stroke="#262626" text-anchor="middle" textLength="10.34" lengthAdjust="spacingAndGlyphs">-0.4</text><text x="454.02" y="427.13" fill="#ffffff" stroke="#ffffff" text-anchor="middle" textLength="8.43" lengthAdjust="spacingAndGlyphs">1.1</text><text x="466.59" y="427.13" fill="#ffffff" stroke="#ffffff" text-anchor="middle" textLength="8.43" lengthAdjust="spacingAndGlyphs">0.8</text><text x="479.16" y="427.13" fill="#ffffff" stroke="#ffffff" text-anchor="middle" textLength="8.43" lengthAdjust="spacingAndGlyphs">1.1</text><text x="491.72" y="427.13" fill="#262626" stroke="#262626" text-anchor="middle" textLength="8.43" lengthAdjust="spacingAndGlyphs">0.1</text><text x="504.29" y="427.13" fill="#262626" stroke="#262626" text-anchor="middle" textLength="8.43" lengthAdjust="spacingAndGlyphs">0.0</text><text x="516.86" y="427.13" fill="#262626" stroke="#262626" text-anchor="middle" textLength="10.34" lengthAdjust="spacingAndGlyphs">-0.5</text><text x="529.43" y="427.13" fill="#262626" stroke="#262626" text-anchor="middle" textLength="10.34" lengthAdjust="spacingAndGlyphs">-0.3</text><text x="554.56" y="427.13" fill="#262626" stroke="#262626" text-anchor="middle" textLength="8.43" lengthAdjust="spacingAndGlyphs">0.2</text><text x="567.13" y="427.13" fill="#262626" stroke="#262626" text-anchor="middle" textLength="10.34" lengthAdjust="spacingAndGlyphs">-0.0</text><text x="579.70" y="427.13" fill="#262626" stroke="#262626" text-anchor="middle" textLength="10.34" lengthAdjust="spacingAndGlyphs">-0.1</text><text x="592.27" y="427.13" fill="#262626" stroke="#262626" text-anchor="middle" textLength="8.43" lengthAdjust="spacingAndGlyphs">0.0</text><text x="604.84" y="427.13" fill="#262626" stroke="#262626" text-anchor="middle" textLength="8.43" lengthAdjust="spacingAndGlyphs">0.0</text><text x="617.40" y="427.13" fill="#ffffff" stroke="#ffffff" text-anchor="middle" textLength="8.43" lengthAdjust="spacingAndGlyphs">1.1</text><text x="629.97" y="427.13" fill="#ffffff" stroke="#ffffff" text-anchor="middle" textLength="8.43" lengthAdjust="spacingAndGlyphs">1.4</text><text x="428.88" y="439.67" fill="#262626" stroke="#262626" text-anchor="middle" textLength="10.34" lengthAdjust="spacingAndGlyphs">-0.6</text><text x="441.45" y="439.67" fill="#262626" stroke="#262626" text-anchor="middle" textLength="10.34" lengthAdjust="spacingAndGlyphs">-0.6</text><text x="454.02" y="439.67" fill="#ffffff" stroke="#ffffff" text-anchor="middle" textLength="8.43" lengthAdjust="spacingAndGlyphs">1.0</text><text x="466.59" y="439.67" fill="#ffffff" stroke="#ffffff" text-anchor="middle" textLength="8.43" lengthAdjust="spacingAndGlyphs">0.7</text><text x="479.16" y="439.67" fill="#ffffff" stroke="#ffffff" text-anchor="middle" textLength="8.43" lengthAdjust="spacingAndGlyphs">1.1</text><text x="491.72" y="439.67" fill="#262626" stroke="#262626" text-anchor="middle" textLength="10.34" lengthAdjust="spacingAndGlyphs">-0.1</text><text x="504.29" y="439.67" fill="#262626" stroke="#262626" text-anchor="middle" textLength="10.34" lengthAdjust="spacingAndGlyphs">-0.2</text><text x="516.86" y="439.67" fill="#262626" stroke="#262626" text-anchor="middle" textLength="10.34" lengthAdjust="spacingAndGlyphs">-0.6</text><text x="529.43" y="439.67" fill="#262626" stroke="#262626" text-anchor="middle" textLength="10.34" lengthAdjust="spacingAndGlyphs">-0.5</text><text x="542.00" y="439.67" fill="#262626" stroke="#262626" text-anchor="middle" textLength="10.34" lengthAdjust="spacingAndGlyphs">-0.3</text><text x="567.13" y="439.67" fill="#262626" stroke="#262626" text-anchor="middle" textLength="10.34" lengthAdjust="spacingAndGlyphs">-0.3</text><text x="579.70" y="439.67" fill="#262626" stroke="#262626" text-anchor="middle" textLength="10.34" lengthAdjust="spacingAndGlyphs">-0.3</text><text x="592.27" y="439.67" fill="#262626" stroke="#262626" text-anchor="middle" textLength="10.34" lengthAdjust="spacingAndGlyphs">-0.2</text><text x="604.84" y="439.67" fill="#262626" stroke="#262626" text-anchor="middle" textLength="10.34" lengthAdjust="spacingAndGlyphs">-0.2</text><text x="617.40" y="439.67" fill="#ffffff" stroke="#ffffff" text-anchor="middle" textLength="8.43" lengthAdjust="spacingAndGlyphs">1.0</text><text x="629.97" y="439.67" fill="#ffffff" stroke="#ffffff" text-anchor="middle" textLength="8.43" lengthAdjust="spacingAndGlyphs">1.3</text><text x="428.88" y="452.21" fill="#262626" stroke="#262626" text-anchor="middle" textLength="10.34" lengthAdjust="spacingAndGlyphs">-0.5</text><text x="441.45" y="452.21" fill="#262626" stroke="#262626" text-anchor="middle" textLength="10.34" lengthAdjust="spacingAndGlyphs">-0.3</text><text x="454.02" y="452.21" fill="#ffffff" stroke="#ffffff" text-anchor="middle" textLength="8.43" lengthAdjust="spacingAndGlyphs">1.1</text><text x="466.59" y="452.21" fill="#ffffff" stroke="#ffffff" text-anchor="middle" textLength="8.43" lengthAdjust="spacingAndGlyphs">0.8</text><text x="479.16" y="452.21" fill="#ffffff" stroke="#ffffff" text-anchor="middle" textLength="8.43" lengthAdjust="spacingAndGlyphs">1.1</text><text x="491.72" y="452.21" fill="#262626" stroke="#262626" text-anchor="middle" textLength="8.43" lengthAdjust="spacingAndGlyphs">0.1</text><text x="504.29" y="452.21" fill="#262626" stroke="#262626" text-anchor="middle" textLength="8.43" lengthAdjust="spacingAndGlyphs">0.1</text><text x="516.86" y="452.21" fill="#262626" stroke="#262626" text-anchor="middle" textLength="10.34" lengthAdjust="spacingAndGlyphs">-0.5</text><text x="529.43" y="452.21" fill="#262626" stroke="#262626" text-anchor="middle" textLength="10.34" lengthAdjust="spacingAndGlyphs">-0.3</text><text x="542.00" y="452.21" fill="#262626" stroke="#262626" text-anchor="middle" textLength="8.43" lengthAdjust="spacingAndGlyphs">0.0</text><text x="554.56" y="452.21" fill="#262626" stroke="#262626" text-anchor="middle" textLength="8.43" lengthAdjust="spacingAndGlyphs">0.3</text><text x="579.70" y="452.21" fill="#262626" stroke="#262626" text-anchor="middle" textLength="10.34" lengthAdjust="spacingAndGlyphs">-0.1</text><text x="592.27" y="452.21" fill="#262626" stroke="#262626" text-anchor="middle" textLength="8.43" lengthAdjust="spacingAndGlyphs">0.0</text><text x="604.84" y="452.21" fill="#262626" stroke="#262626" text-anchor="middle" textLength="8.43" lengthAdjust="spacingAndGlyphs">0.0</text><text x="617.40" y="452.21" fill="#ffffff" stroke="#ffffff" text-anchor="middle" textLength="8.43" lengthAdjust="spacingAndGlyphs">1.1</text><text x="629.97" y="452.21" fill="#ffffff" stroke="#ffffff" text-anchor="middle" textLength="8.43" lengthAdjust="spacingAndGlyphs">1.3</text><text x="428.88" y="464.75" fill="#262626" stroke="#262626" text-anchor="middle" textLength="10.34" lengthAdjust="spacingAndGlyphs">-0.4</text><text x="441.45" y="464.75" fill="#262626" stroke="#262626" text-anchor="middle" textLength="10.34" lengthAdjust="spacingAndGlyphs">-0.3</text><text x="454.02" y="464.75" fill="#ffffff" stroke="#ffffff" text-anchor="middle" textLength="8.43" lengthAdjust="spacingAndGlyphs">1.1</text><text x="466.59" y="464.75" fill="#ffffff" stroke="#ffffff" text-anchor="middle" textLength="8.43" lengthAdjust="spacingAndGlyphs">0.8</text><text x="479.16" y="464.75" fill="#ffffff" stroke="#ffffff" text-anchor="middle" textLength="8.43" lengthAdjust="spacingAndGlyphs">1.1</text><text x="491.72" y="464.75" fill="#262626" stroke="#262626" text-anchor="middle" textLength="8.43" lengthAdjust="spacingAndGlyphs">0.2</text><text x="504.29" y="464.75" fill="#262626" stroke="#262626" text-anchor="middle" textLength="8.43" lengthAdjust="spacingAndGlyphs">0.1</text><text x="516.86" y="464.75" fill="#262626" stroke="#262626" text-anchor="middle" textLength="10.34" lengthAdjust="spacingAndGlyphs">-0.4</text><text x="529.43" y="464.75" fill="#262626" stroke="#262626" text-anchor="middle" textLength="10.34" lengthAdjust="spacingAndGlyphs">-0.2</text><text x="542.00" y="464.75" fill="#262626" stroke="#262626" text-anchor="middle" textLength="8.43" lengthAdjust="spacingAndGlyphs">0.1</text><text x="554.56" y="464.75" fill="#262626" stroke="#262626" text-anchor="middle" textLength="8.43" lengthAdjust="spacingAndGlyphs">0.3</text><text x="567.13" y="464.75" fill="#262626" stroke="#262626" text-anchor="middle" textLength="8.43" lengthAdjust="spacingAndGlyphs">0.1</text><text x="592.27" y="464.75" fill="#262626" stroke="#262626" text-anchor="middle" textLength="8.43" lengthAdjust="spacingAndGlyphs">0.1</text><text x="604.84" y="464.75" fill="#262626" stroke="#262626" text-anchor="middle" textLength="8.43" lengthAdjust="spacingAndGlyphs">0.1</text><text x="617.40" y="464.75" fill="#ffffff" stroke="#ffffff" text-anchor="middle" textLength="8.43" lengthAdjust="spacingAndGlyphs">1.2</text><text x="629.97" y="464.75" fill="#ffffff" stroke="#ffffff" text-anchor="middle" textLength="8.43" lengthAdjust="spacingAndGlyphs">1.4</text><text x="428.88" y="477.29" fill="#262626" stroke="#262626" text-anchor="middle" textLength="10.34" lengthAdjust="spacingAndGlyphs">-0.5</text><text x="441.45" y="477.29" fill="#262626" stroke="#262626" text-anchor="middle" textLength="10.34" lengthAdjust="spacingAndGlyphs">-0.4</text><text x="454.02" y="477.29" fill="#ffffff" stroke="#ffffff" text-anchor="middle" textLength="8.43" lengthAdjust="spacingAndGlyphs">1.1</text><text x="466.59" y="477.29" fill="#ffffff" stroke="#ffffff" text-anchor="middle" textLength="8.43" lengthAdjust="spacingAndGlyphs">0.8</text><text x="479.16" y="477.29" fill="#ffffff" stroke="#ffffff" text-anchor="middle" textLength="8.43" lengthAdjust="spacingAndGlyphs">1.1</text><text x="491.72" y="477.29" fill="#262626" stroke="#262626" text-anchor="middle" textLength="8.43" lengthAdjust="spacingAndGlyphs">0.1</text><text x="504.29" y="477.29" fill="#262626" stroke="#262626" text-anchor="middle" textLength="8.43" lengthAdjust="spacingAndGlyphs">0.0</text><text x="516.86" y="477.29" fill="#262626" stroke="#262626" text-anchor="middle" textLength="10.34" lengthAdjust="spacingAndGlyphs">-0.5</text><text x="529.43" y="477.29" fill="#262626" stroke="#262626" text-anchor="middle" textLength="10.34" lengthAdjust="spacingAndGlyphs">-0.3</text><text x="542.00" y="477.29" fill="#262626" stroke="#262626" text-anchor="middle" textLength="10.34" lengthAdjust="spacingAndGlyphs">-0.0</text><text x="554.56" y="477.29" fill="#262626" stroke="#262626" text-anchor="middle" textLength="8.43" lengthAdjust="spacingAndGlyphs">0.2</text><text x="567.13" y="477.29" fill="#262626" stroke="#262626" text-anchor="middle" textLength="10.34" lengthAdjust="spacingAndGlyphs">-0.0</text><text x="579.70" y="477.29" fill="#262626" stroke="#262626" text-anchor="middle" textLength="10.34" lengthAdjust="spacingAndGlyphs">-0.1</text><text x="604.84" y="477.29" fill="#262626" stroke="#262626" text-anchor="middle" textLength="10.34" lengthAdjust="spacingAndGlyphs">-0.0</text><text x="617.40" y="477.29" fill="#ffffff" stroke="#ffffff" text-anchor="middle" textLength="8.43" lengthAdjust="spacingAndGlyphs">1.1</text><text x="629.97" y="477.29" fill="#ffffff" stroke="#ffffff" text-anchor="middle" textLength="8.43" lengthAdjust="spacingAndGlyphs">1.4</text><text x="428.88" y="489.83" fill="#262626" stroke="#262626" text-anchor="middle" textLength="10.34" lengthAdjust="spacingAndGlyphs">-0.4</text><text x="441.45" y="489.83" fill="#262626" stroke="#262626" text-anchor="middle" textLength="10.34" lengthAdjust="spacingAndGlyphs">-0.3</text><text x="454.02" y="489.83" fill="#ffffff" stroke="#ffffff" text-anchor="middle" textLength="8.43" lengthAdjust="spacingAndGlyphs">1.1</text><text x="466.59" y="489.83" fill="#ffffff" stroke="#ffffff" text-anchor="middle" textLength="8.43" lengthAdjust="spacingAndGlyphs">0.8</text><text x="479.16" y="489.83" fill="#ffffff" stroke="#ffffff" text-anchor="middle" textLength="8.43" lengthAdjust="spacingAndGlyphs">1.1</text><text x="491.72" y="489.83" fill="#262626" stroke="#262626" text-anchor="middle" textLength="8.43" lengthAdjust="spacingAndGlyphs">0.1</text><text x="504.29" y="489.83" fill="#262626" stroke="#262626" text-anchor="middle" textLength="8.43" lengthAdjust="spacingAndGlyphs">0.0</text><text x="516.86" y="489.83" fill="#262626" stroke="#262626" text-anchor="middle" textLength="10.34" lengthAdjust="spacingAndGlyphs">-0.4</text><text x="529.43" y="489.83" fill="#262626" stroke="#262626" text-anchor="middle" textLength="10.34" lengthAdjust="spacingAndGlyphs">-0.2</text><text x="542.00" y="489.83" fill="#262626" stroke="#262626" text-anchor="middle" textLength="10.34" lengthAdjust="spacingAndGlyphs">-0.0</text><text x="554.56" y="489.83" fill="#262626" stroke="#262626" text-anchor="middle" textLength="8.43" lengthAdjust="spacingAndGlyphs">0.2</text><text x="567.13" y="489.83" fill="#262626" stroke="#262626" text-anchor="middle" textLength="10.34" lengthAdjust="spacingAndGlyphs">-0.0</text><text x="579.70" y="489.83" fill="#262626" stroke="#262626" text-anchor="middle" textLength="10.34" lengthAdjust="spacingAndGlyphs">-0.1</text><text x="592.27" y="489.83" fill="#262626" stroke="#262626" text-anchor="middle" textLength="8.43" lengthAdjust="spacingAndGlyphs">0.0</text><text x="617.40" y="489.83" fill="#ffffff" stroke="#ffffff" text-anchor="middle" textLength="8.43" lengthAdjust="spacingAndGlyphs">1.1</text><text x="629.97" y="489.83" fill="#ffffff" stroke="#ffffff" text-anchor="middle" textLength="8.43" lengthAdjust="spacingAndGlyphs">1.3</text><text x="428.88" y="502.37" fill="#ffffff" stroke="#ffffff" text-anchor="middle" textLength="10.34" lengthAdjust="spacingAndGlyphs">-1.2</text><text x="441.45" y="502.37" fill="#ffffff" stroke="#ffffff" text-anchor="middle" textLength="10.34" lengthAdjust="spacingAndGlyphs">-1.2</text><text x="454.02" y="502.37" fill="#262626" stroke="#262626" text-anchor="middle" textLength="10.34" lengthAdjust="spacingAndGlyphs">-0.0</text><text x="466.59" y="502.37" fill="#ffffff" stroke="#ffffff" text-anchor="middle" textLength="10.34" lengthAdjust="spacingAndGlyphs">-0.7</text><text x="479.16" y="502.37" fill="#262626" stroke="#262626" text-anchor="middle" textLength="10.34" lengthAdjust="spacingAndGlyphs">-0.1</text><text x="491.72" y="502.37" fill="#ffffff" stroke="#ffffff" text-anchor="middle" textLength="10.34" lengthAdjust="spacingAndGlyphs">-1.0</text><text x="504.29" y="502.37" fill="#ffffff" stroke="#ffffff" text-anchor="middle" textLength="10.34" lengthAdjust="spacingAndGlyphs">-1.1</text><text x="516.86" y="502.37" fill="#ffffff" stroke="#ffffff" text-anchor="middle" textLength="10.34" lengthAdjust="spacingAndGlyphs">-1.2</text><text x="529.43" y="502.37" fill="#ffffff" stroke="#ffffff" text-anchor="middle" textLength="10.34" lengthAdjust="spacingAndGlyphs">-1.1</text><text x="542.00" y="502.37" fill="#ffffff" stroke="#ffffff" text-anchor="middle" textLength="10.34" lengthAdjust="spacingAndGlyphs">-1.1</text><text x="554.56" y="502.37" fill="#ffffff" stroke="#ffffff" text-anchor="middle" textLength="10.34" lengthAdjust="spacingAndGlyphs">-1.0</text><text x="567.13" y="502.37" fill="#ffffff" stroke="#ffffff" text-anchor="middle" textLength="10.34" lengthAdjust="spacingAndGlyphs">-1.1</text><text x="579.70" y="502.37" fill="#ffffff" stroke="#ffffff" text-anchor="middle" textLength="10.34" lengthAdjust="spacingAndGlyphs">-1.1</text><text x="592.27" y="502.37" fill="#ffffff" stroke="#ffffff" text-anchor="middle" textLength="10.34" lengthAdjust="spacingAndGlyphs">-1.1</text><text x="604.84" y="502.37" fill="#ffffff" stroke="#ffffff" text-anchor="middle" textLength="10.34" lengthAdjust="spacingAndGlyphs">-1.0</text><text x="629.97" y="502.37" fill="#262626" stroke="#262626" text-anchor="middle" textLength="8.43" lengthAdjust="spacingAndGlyphs">0.5</text><text x="428.88" y="514.91" fill="#ffffff" stroke="#ffffff" text-anchor="middle" textLength="10.34" lengthAdjust="spacingAndGlyphs">-1.5</text><text x="441.45" y="514.91" fill="#ffffff" stroke="#ffffff" text-anchor="middle" textLength="10.34" lengthAdjust="spacingAndGlyphs">-1.4</text><text x="454.02" y="514.91" fill="#262626" stroke="#262626" text-anchor="middle" textLength="10.34" lengthAdjust="spacingAndGlyphs">-0.4</text><text x="466.59" y="514.91" fill="#ffffff" stroke="#ffffff" text-anchor="middle" textLength="10.34" lengthAdjust="spacingAndGlyphs">-1.1</text><text x="479.16" y="514.91" fill="#262626" stroke="#262626" text-anchor="middle" textLength="10.34" lengthAdjust="spacingAndGlyphs">-0.5</text><text x="491.72" y="514.91" fill="#ffffff" stroke="#ffffff" text-anchor="middle" textLength="10.34" lengthAdjust="spacingAndGlyphs">-1.3</text><text x="504.29" y="514.91" fill="#ffffff" stroke="#ffffff" text-anchor="middle" textLength="10.34" lengthAdjust="spacingAndGlyphs">-1.3</text><text x="516.86" y="514.91" fill="#ffffff" stroke="#ffffff" text-anchor="middle" textLength="10.34" lengthAdjust="spacingAndGlyphs">-1.4</text><text x="529.43" y="514.91" fill="#ffffff" stroke="#ffffff" text-anchor="middle" textLength="10.34" lengthAdjust="spacingAndGlyphs">-1.4</text><text x="542.00" y="514.91" fill="#ffffff" stroke="#ffffff" text-anchor="middle" textLength="10.34" lengthAdjust="spacingAndGlyphs">-1.4</text><text x="554.56" y="514.91" fill="#ffffff" stroke="#ffffff" text-anchor="middle" textLength="10.34" lengthAdjust="spacingAndGlyphs">-1.3</text><text x="567.13" y="514.91" fill="#ffffff" stroke="#ffffff" text-anchor="middle" textLength="10.34" lengthAdjust="spacingAndGlyphs">-1.4</text><text x="579.70" y="514.91" fill="#ffffff" stroke="#ffffff" text-anchor="middle" textLength="10.34" lengthAdjust="spacingAndGlyphs">-1.4</text><text x="592.27" y="514.91" fill="#ffffff" stroke="#ffffff" text-anchor="middle" textLength="10.34" lengthAdjust="spacingAndGlyphs">-1.4</text><text x="604.84" y="514.91" fill="#ffffff" stroke="#ffffff" text-anchor="middle" textLength="10.34" lengthAdjust="spacingAndGlyphs">-1.3</text><text x="617.40" y="514.91" fill="#262626" stroke="#262626" text-anchor="middle" textLength="10.34" lengthAdjust="spacingAndGlyphs">-0.5</text><line x1="422.60" y1="331.28" x2="636.26" y2="331.28" stroke="#000" stroke-width="1.1"/><line x1="447.74" y1="306.20" x2="447.74" y2="519.38" stroke="#000" stroke-width="1.1"/><line x1="422.60" y1="381.44" x2="636.26" y2="381.44" stroke="#000" stroke-width="1.1"/><line x1="498.01" y1="306.20" x2="498.01" y2="519.38" stroke="#000" stroke-width="1.1"/><line x1="422.60" y1="431.60" x2="636.26" y2="431.60" stroke="#000" stroke-width="1.1"/><line x1="548.28" y1="306.20" x2="548.28" y2="519.38" stroke="#000" stroke-width="1.1"/><line x1="422.60" y1="494.30" x2="636.26" y2="494.30" stroke="#000" stroke-width="1.1"/><line x1="611.12" y1="306.20" x2="611.12" y2="519.38" stroke="#000" stroke-width="1.1"/></g>
<g font-family='"Liberation Sans", sans-serif' font-size="6.0" fill="#262626" stroke="#262626" stroke-width="0.12"><line x1="420.73" y1="312.47" x2="422.60" y2="312.47" stroke="#262626" stroke-width="0.45"/><text x="418.86" y="314.47" text-anchor="end" textLength="27.97" lengthAdjust="spacingAndGlyphs">Basic CNN</text><line x1="420.73" y1="325.01" x2="422.60" y2="325.01" stroke="#262626" stroke-width="0.45"/><text x="418.86" y="327.01" text-anchor="end" textLength="45.74" lengthAdjust="spacingAndGlyphs">Prototypical CNN</text><line x1="420.73" y1="337.55" x2="422.60" y2="337.55" stroke="#262626" stroke-width="0.45"/><text x="418.86" y="339.55" text-anchor="end" textLength="49.97" lengthAdjust="spacingAndGlyphs">Softlabel (beta=4)</text><line x1="420.73" y1="350.09" x2="422.60" y2="350.09" stroke="#262626" stroke-width="0.45"/><text x="418.86" y="352.09" text-anchor="end" textLength="53.41" lengthAdjust="spacingAndGlyphs">Softlabel (beta=12)</text><line x1="420.73" y1="362.63" x2="422.60" y2="362.63" stroke="#262626" stroke-width="0.45"/><text x="418.86" y="364.63" text-anchor="end" textLength="64.48" lengthAdjust="spacingAndGlyphs">Hyperbolic-proto (fixed)</text><line x1="420.73" y1="375.17" x2="422.60" y2="375.17" stroke="#262626" stroke-width="0.45"/><text x="418.86" y="377.17" text-anchor="end" textLength="69.85" lengthAdjust="spacingAndGlyphs">Hyperbolic-proto (guided)</text><line x1="420.73" y1="387.71" x2="422.60" y2="387.71" stroke="#262626" stroke-width="0.45"/><text x="418.86" y="389.71" text-anchor="end" textLength="8.46" lengthAdjust="spacingAndGlyphs">MC</text><line x1="420.73" y1="400.25" x2="422.60" y2="400.25" stroke="#262626" stroke-width="0.45"/><text x="418.86" y="402.25" text-anchor="end" textLength="19.62" lengthAdjust="spacingAndGlyphs">Yolo-V2</text><line x1="420.73" y1="412.79" x2="422.60" y2="412.79" stroke="#262626" stroke-width="0.45"/><text x="418.86" y="414.79" text-anchor="end" textLength="45.35" lengthAdjust="spacingAndGlyphs">HXE (alpha=0.1)</text><line x1="420.73" y1="425.33" x2="422.60" y2="425.33" stroke="#262626" stroke-width="0.45"/><text x="418.86" y="427.33" text-anchor="end" textLength="45.35" lengthAdjust="spacingAndGlyphs">HXE (alpha=0.6)</text><line x1="420.73" y1="437.87" x2="422.60" y2="437.87" stroke="#262626" stroke-width="0.45"/><text x="418.86" y="439.87" text-anchor="end" textLength="40.23" lengthAdjust="spacingAndGlyphs">Multi-task CNN</text><line x1="420.73" y1="450.41" x2="422.60" y2="450.41" stroke="#262626" stroke-width="0.45"/><text x="418.86" y="452.41" text-anchor="end" textLength="32.87" lengthAdjust="spacingAndGlyphs">Chang et al.</text><line x1="420.73" y1="462.95" x2="422.60" y2="462.95" stroke="#262626" stroke-width="0.45"/><text x="418.86" y="464.95" text-anchor="end" textLength="10.90" lengthAdjust="spacingAndGlyphs">HAF</text><line x1="420.73" y1="475.49" x2="422.60" y2="475.49" stroke="#262626" stroke-width="0.45"/><text x="418.86" y="477.49" text-anchor="end" textLength="12.03" lengthAdjust="spacingAndGlyphs">DHC</text><line x1="420.73" y1="488.03" x2="422.60" y2="488.03" stroke="#262626" stroke-width="0.45"/><text x="418.86" y="490.03" text-anchor="end" textLength="45.87" lengthAdjust="spacingAndGlyphs">CNN-Transformer</text><line x1="420.73" y1="500.57" x2="422.60" y2="500.57" stroke="#262626" stroke-width="0.45"/><text x="418.86" y="502.57" text-anchor="end" textLength="14.83" lengthAdjust="spacingAndGlyphs">HPDT</text><line x1="420.73" y1="513.11" x2="422.60" y2="513.11" stroke="#262626" stroke-width="0.45"/><text x="418.86" y="515.11" text-anchor="end" textLength="34.88" lengthAdjust="spacingAndGlyphs">HPDT-guided</text><line x1="428.88" y1="519.38" x2="428.88" y2="521.25" stroke="#262626" stroke-width="0.45"/><text transform="translate(427.78,527.18) rotate(-45)" text-anchor="end" textLength="27.97" lengthAdjust="spacingAndGlyphs">Basic CNN</text><line x1="441.45" y1="519.38" x2="441.45" y2="521.25" stroke="#262626" stroke-width="0.45"/><text transform="translate(440.35,527.18) rotate(-45)" text-anchor="end" textLength="45.74" lengthAdjust="spacingAndGlyphs">Prototypical CNN</text><line x1="454.02" y1="519.38" x2="454.02" y2="521.25" stroke="#262626" stroke-width="0.45"/><text transform="translate(452.92,527.18) rotate(-45)" text-anchor="end" textLength="49.97" lengthAdjust="spacingAndGlyphs">Softlabel (beta=4)</text><line x1="466.59" y1="519.38" x2="466.59" y2="521.25" stroke="#262626" stroke-width="0.45"/><text transform="translate(465.49,527.18) rotate(-45)" text-anchor="end" textLength="53.41" lengthAdjust="spacingAndGlyphs">Softlabel (beta=12)</text><line x1="479.16" y1="519.38" x2="479.16" y2="521.25" stroke="#262626" stroke-width="0.45"/><text transform="translate(478.06,527.18) rotate(-45)" text-anchor="end" textLength="64.48" lengthAdjust="spacingAndGlyphs">Hyperbolic-proto (fixed)</text><line x1="491.72" y1="519.38" x2="491.72" y2="521.25" stroke="#262626" stroke-width="0.45"/><text transform="translate(490.62,527.18) rotate(-45)" text-anchor="end" textLength="69.85" lengthAdjust="spacingAndGlyphs">Hyperbolic-proto (guided)</text><line x1="504.29" y1="519.38" x2="504.29" y2="521.25" stroke="#262626" stroke-width="0.45"/><text transform="translate(503.19,527.18) rotate(-45)" text-anchor="end" textLength="8.46" lengthAdjust="spacingAndGlyphs">MC</text><line x1="516.86" y1="519.38" x2="516.86" y2="521.25" stroke="#262626" stroke-width="0.45"/><text transform="translate(515.76,527.18) rotate(-45)" text-anchor="end" textLength="19.62" lengthAdjust="spacingAndGlyphs">Yolo-V2</text><line x1="529.43" y1="519.38" x2="529.43" y2="521.25" stroke="#262626" stroke-width="0.45"/><text transform="translate(528.33,527.18) rotate(-45)" text-anchor="end" textLength="45.35" lengthAdjust="spacingAndGlyphs">HXE (alpha=0.1)</text><line x1="542.00" y1="519.38" x2="542.00" y2="521.25" stroke="#262626" stroke-width="0.45"/><text transform="translate(540.90,527.18) rotate(-45)" text-anchor="end" textLength="45.35" lengthAdjust="spacingAndGlyphs">HXE (alpha=0.6)</text><line x1="554.56" y1="519.38" x2="554.56" y2="521.25" stroke="#262626" stroke-width="0.45"/><text transform="translate(553.46,527.18) rotate(-45)" text-anchor="end" textLength="40.23" lengthAdjust="spacingAndGlyphs">Multi-task CNN</text><line x1="567.13" y1="519.38" x2="567.13" y2="521.25" stroke="#262626" stroke-width="0.45"/><text transform="translate(566.03,527.18) rotate(-45)" text-anchor="end" textLength="32.87" lengthAdjust="spacingAndGlyphs">Chang et al.</text><line x1="579.70" y1="519.38" x2="579.70" y2="521.25" stroke="#262626" stroke-width="0.45"/><text transform="translate(578.60,527.18) rotate(-45)" text-anchor="end" textLength="10.90" lengthAdjust="spacingAndGlyphs">HAF</text><line x1="592.27" y1="519.38" x2="592.27" y2="521.25" stroke="#262626" stroke-width="0.45"/><text transform="translate(591.17,527.18) rotate(-45)" text-anchor="end" textLength="12.03" lengthAdjust="spacingAndGlyphs">DHC</text><line x1="604.84" y1="519.38" x2="604.84" y2="521.25" stroke="#262626" stroke-width="0.45"/><text transform="translate(603.74,527.18) rotate(-45)" text-anchor="end" textLength="45.87" lengthAdjust="spacingAndGlyphs">CNN-Transformer</text><line x1="617.40" y1="519.38" x2="617.40" y2="521.25" stroke="#262626" stroke-width="0.45"/><text transform="translate(616.30,527.18) rotate(-45)" text-anchor="end" textLength="14.83" lengthAdjust="spacingAndGlyphs">HPDT</text><line x1="629.97" y1="519.38" x2="629.97" y2="521.25" stroke="#262626" stroke-width="0.45"/><text transform="translate(628.87,527.18) rotate(-45)" text-anchor="end" textLength="34.88" lengthAdjust="spacingAndGlyphs">HPDT-guided</text><text x="529.43" y="295.60" text-anchor="middle" font-size="7.0" textLength="180.01" lengthAdjust="spacingAndGlyphs">(d) Effect size for top-5 hierarchical distance difference</text></g>
<g font-family='"Liberation Sans", sans-serif' font-size="6.0" fill="#262626" stroke="#262626" stroke-width="0.12"><rect x="649.60" y="305.10" width="10.50" height="215.60" fill="url(#cb3)" stroke="none"/><line x1="660.10" y1="520.41" x2="661.97" y2="520.41" stroke="#262626" stroke-width="0.45"/><text x="663.84" y="522.41" textLength="13.16" lengthAdjust="spacingAndGlyphs">−1.5</text><line x1="660.10" y1="484.61" x2="661.97" y2="484.61" stroke="#262626" stroke-width="0.45"/><text x="663.84" y="486.61" textLength="13.16" lengthAdjust="spacingAndGlyphs">−1.0</text><line x1="660.10" y1="448.81" x2="661.97" y2="448.81" stroke="#262626" stroke-width="0.45"/><text x="663.84" y="450.81" textLength="13.16" lengthAdjust="spacingAndGlyphs">−0.5</text><line x1="660.10" y1="413.01" x2="661.97" y2="413.01" stroke="#262626" stroke-width="0.45"/><text x="663.84" y="415.01" textLength="8.62" lengthAdjust="spacingAndGlyphs">0.0</text><line x1="660.10" y1="377.21" x2="661.97" y2="377.21" stroke="#262626" stroke-width="0.45"/><text x="663.84" y="379.21" textLength="8.62" lengthAdjust="spacingAndGlyphs">0.5</text><line x1="660.10" y1="341.40" x2="661.97" y2="341.40" stroke="#262626" stroke-width="0.45"/><text x="663.84" y="343.40" textLength="8.62" lengthAdjust="spacingAndGlyphs">1.0</text><line x1="660.10" y1="305.60" x2="661.97" y2="305.60" stroke="#262626" stroke-width="0.45"/><text x="663.84" y="307.60" textLength="8.62" lengthAdjust="spacingAndGlyphs">1.5</text><text transform="translate(684.10,412.90) rotate(-90)" text-anchor="middle" textLength="28.45" lengthAdjust="spacingAndGlyphs">Effect Size</text></g>
</svg>
</body></html>
